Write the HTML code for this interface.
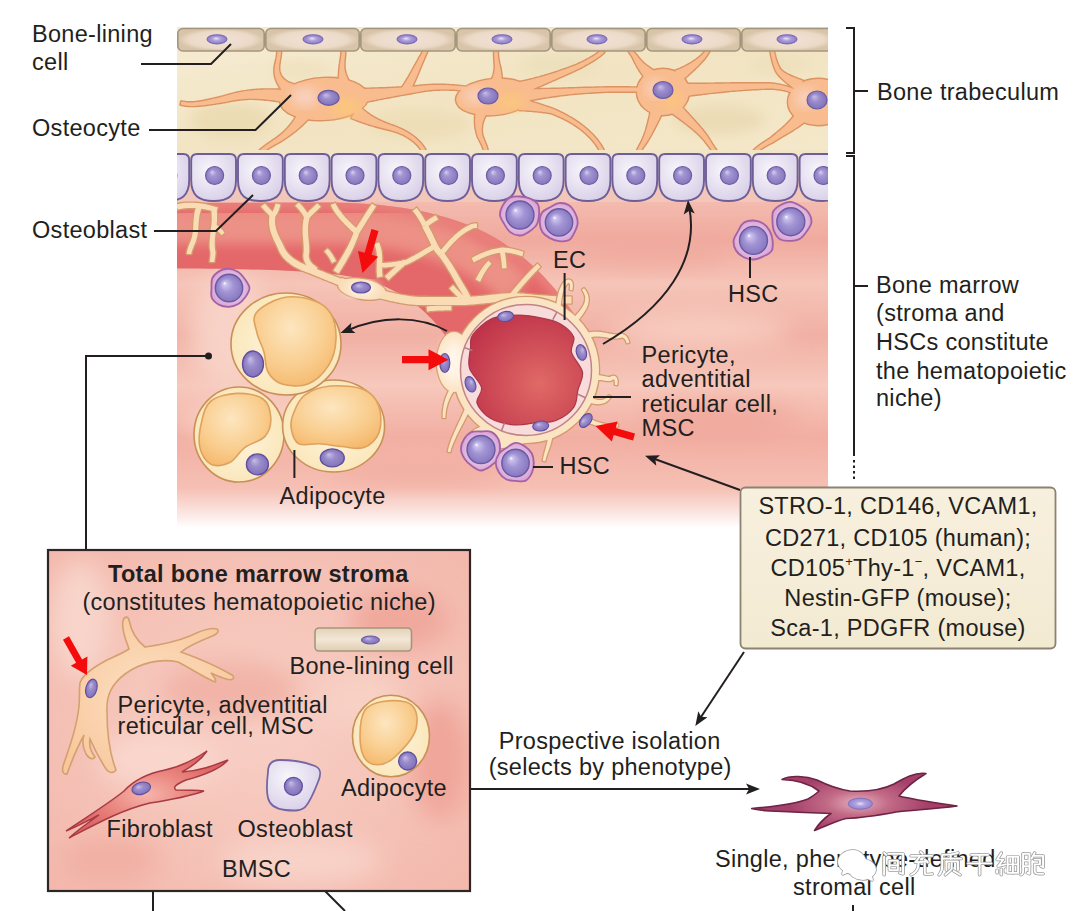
<!DOCTYPE html>
<html><head><meta charset="utf-8">
<style>
html,body{margin:0;padding:0;background:#fff;width:1080px;height:911px;overflow:hidden}
svg{display:block}
text{font-family:"Liberation Sans",sans-serif;fill:#231f20;letter-spacing:0.3px}
</style></head><body>
<svg width="1080" height="911" viewBox="0 0 1080 911">
<defs>
  <linearGradient id="marrowG" x1="0" y1="0" x2="0" y2="1">
    <stop offset="0" stop-color="#f4bcb0"/>
    <stop offset="0.12" stop-color="#f0aa9e"/>
    <stop offset="0.25" stop-color="#f6c4b8"/>
    <stop offset="0.4" stop-color="#f1b0a4"/>
    <stop offset="0.55" stop-color="#f7c8bc"/>
    <stop offset="0.7" stop-color="#f2aea2"/>
    <stop offset="0.85" stop-color="#f6c0b4"/>
    <stop offset="1" stop-color="#f4b8ac"/>
  </linearGradient>
  <linearGradient id="fadeB" x1="0" y1="0" x2="0" y2="1">
    <stop offset="0" stop-color="#fff" stop-opacity="0"/>
    <stop offset="1" stop-color="#fff" stop-opacity="1"/>
  </linearGradient>
  <linearGradient id="vesselG" x1="0" y1="0" x2="0" y2="1">
    <stop offset="0" stop-color="#e4605a"/>
    <stop offset="0.45" stop-color="#f29c8e"/>
    <stop offset="1" stop-color="#e25c58"/>
  </linearGradient>
  <radialGradient id="lumenG" cx="0.62" cy="0.62" r="0.7">
    <stop offset="0" stop-color="#e06a66"/>
    <stop offset="1" stop-color="#c0344a"/>
  </radialGradient>
  <radialGradient id="obG" cx="0.4" cy="0.35" r="0.75">
    <stop offset="0" stop-color="#f8f6fb"/>
    <stop offset="1" stop-color="#d6cce6"/>
  </radialGradient>
  <radialGradient id="nucG" cx="0.5" cy="0.5" r="0.5" fx="0.35" fy="0.3">
    <stop offset="0" stop-color="#c8bee6"/>
    <stop offset="0.45" stop-color="#9a8ccc"/>
    <stop offset="1" stop-color="#8272ba"/>
  </radialGradient>
  <radialGradient id="hscN" cx="0.5" cy="0.5" r="0.5" fx="0.33" fy="0.32">
    <stop offset="0" stop-color="#ffffff"/>
    <stop offset="0.14" stop-color="#cac0ec"/>
    <stop offset="0.5" stop-color="#a294d4"/>
    <stop offset="1" stop-color="#8878c0"/>
  </radialGradient>
  <radialGradient id="hscC" cx="0.5" cy="0.5" r="0.55">
    <stop offset="0.55" stop-color="#e6c2e2"/>
    <stop offset="1" stop-color="#d8a0d4"/>
  </radialGradient>
  <radialGradient id="lipidG" cx="0.45" cy="0.35" r="0.75">
    <stop offset="0" stop-color="#fde6c0"/>
    <stop offset="0.6" stop-color="#f9cc8c"/>
    <stop offset="1" stop-color="#f4b466"/>
  </radialGradient>
  <radialGradient id="adipoG" cx="0.5" cy="0.5" r="0.6">
    <stop offset="0" stop-color="#fff6e0"/>
    <stop offset="1" stop-color="#f9e4b4"/>
  </radialGradient>
  <linearGradient id="boneG" x1="0" y1="0" x2="1" y2="1">
    <stop offset="0" stop-color="#f6ecd4"/>
    <stop offset="0.5" stop-color="#f2e4c2"/>
    <stop offset="1" stop-color="#f4e8ca"/>
  </linearGradient>
  <linearGradient id="liningG" x1="0" y1="0" x2="0" y2="1">
    <stop offset="0" stop-color="#e4d2b8"/>
    <stop offset="0.5" stop-color="#f2e6d6"/>
    <stop offset="1" stop-color="#e0ceb2"/>
  </linearGradient>
  <linearGradient id="markerG" x1="0" y1="0" x2="0" y2="1">
    <stop offset="0" stop-color="#f7f0de"/>
    <stop offset="1" stop-color="#f3ead2"/>
  </linearGradient>
  <radialGradient id="fibG" gradientUnits="userSpaceOnUse" cx="858" cy="803" r="70" gradientTransform="translate(858 803) scale(1 0.4) translate(-858 -803)">
    <stop offset="0" stop-color="#e4b0bc"/>
    <stop offset="0.45" stop-color="#c26a86"/>
    <stop offset="1" stop-color="#a4406a"/>
  </radialGradient>
  <radialGradient id="nucFib" cx="0.5" cy="0.5" r="0.5">
    <stop offset="0" stop-color="#e8e0f8"/>
    <stop offset="0.4" stop-color="#b0a4e0"/>
    <stop offset="1" stop-color="#9484cc"/>
  </radialGradient>
  <radialGradient id="ocyG" cx="0.5" cy="0.5" r="0.5">
    <stop offset="0" stop-color="#fbc890"/>
    <stop offset="1" stop-color="#f4a66c"/>
  </radialGradient>
  <radialGradient id="retG" cx="0.5" cy="0.5" r="0.6">
    <stop offset="0" stop-color="#fde0c4"/>
    <stop offset="1" stop-color="#f8c89c"/>
  </radialGradient>
  <radialGradient id="boxPink" cx="0.5" cy="0.5" r="0.7">
    <stop offset="0" stop-color="#f8d0c6"/>
    <stop offset="1" stop-color="#f3b8ac"/>
  </radialGradient>
  <filter id="blur6" x="-20%" y="-20%" width="140%" height="140%"><feGaussianBlur stdDeviation="6"/></filter>
  <filter id="blur12" x="-50%" y="-50%" width="200%" height="200%"><feGaussianBlur stdDeviation="12"/></filter>
  <clipPath id="topClip"><rect x="177" y="20" width="651" height="520"/></clipPath>
  <clipPath id="boxClip"><rect x="48" y="550" width="422" height="341"/></clipPath>
  <radialGradient id="fibG2" cx="0.5" cy="0.5" r="0.5">
    <stop offset="0" stop-color="#f6b4ac"/>
    <stop offset="0.5" stop-color="#ea8880"/>
    <stop offset="1" stop-color="#dc6464"/>
  </radialGradient>
  <radialGradient id="liningR" cx="0.5" cy="0.5" r="0.5" gradientTransform="translate(0.5 0.5) scale(1 1) translate(-0.5 -0.5)">
    <stop offset="0" stop-color="#f2e2d6"/>
    <stop offset="0.75" stop-color="#ecdac8"/>
    <stop offset="1" stop-color="#d8c4a8"/>
  </radialGradient>
  <radialGradient id="nucL" cx="0.5" cy="0.5" r="0.5" fx="0.45" fy="0.4">
    <stop offset="0" stop-color="#ece6f8"/>
    <stop offset="0.45" stop-color="#ac9edc"/>
    <stop offset="1" stop-color="#8c7cc4"/>
  </radialGradient>
  <radialGradient id="nucO" cx="0.5" cy="0.5" r="0.5" fx="0.35" fy="0.3">
    <stop offset="0" stop-color="#d8d0f0"/>
    <stop offset="0.35" stop-color="#a496d4"/>
    <stop offset="1" stop-color="#8676bc"/>
  </radialGradient>
</defs>
<g clip-path="url(#topClip)">
<rect x="177" y="27" width="651" height="128" fill="url(#boneG)"/>
<ellipse cx="230" cy="120" rx="40" ry="18" fill="#ecdcb4" filter="url(#blur6)"/>
<ellipse cx="420" cy="125" rx="50" ry="15" fill="#eedeb8" filter="url(#blur6)"/>
<ellipse cx="560" cy="65" rx="40" ry="12" fill="#ede0bc" filter="url(#blur6)"/>
<ellipse cx="720" cy="120" rx="45" ry="15" fill="#ecdcb6" filter="url(#blur6)"/>
<ellipse cx="300" cy="70" rx="30" ry="10" fill="#f0e2c0" filter="url(#blur6)"/>
<ellipse cx="780" cy="65" rx="30" ry="10" fill="#eee0bc" filter="url(#blur6)"/>
<path d="M300.9,91.1 L298.7,90.9 L296.4,90.7 L294.3,90.6 L292.1,90.4 L290.0,90.3 L287.9,90.2 L285.8,90.1 L283.7,90.0 L281.7,89.9 L279.7,89.8 L277.7,89.7 L275.8,89.6 L273.8,89.6 L271.9,89.6 L270.0,89.6 L268.1,89.6 L266.2,89.6 L264.4,89.6 L262.5,89.7 L260.7,89.7 L258.8,89.8 L257.0,89.9 L255.2,90.1 L253.4,90.2 L251.6,90.4 L249.8,90.6 L248.0,90.8 L246.2,91.1 L244.4,91.3 L242.6,91.6 L240.8,92.0 L239.0,92.3 L237.2,92.7 L235.3,93.1 L233.5,93.5 L231.7,94.0 L229.8,94.5 L228.0,95.0 L226.1,95.6 L224.3,96.1 L222.9,96.5 L221.5,96.8 L220.1,97.2 L218.7,97.5 L217.3,97.9 L216.0,98.2 L214.6,98.5 L213.3,98.8 L212.1,99.1 L210.8,99.4 L209.6,99.7 L208.4,100.0 L207.2,100.2 L206.0,100.5 L204.8,100.7 L203.7,100.9 L202.6,101.2 L201.5,101.3 L200.4,101.5 L199.4,101.7 L198.4,101.9 L197.3,102.0 L196.3,102.1 L195.3,102.2 L194.4,102.3 L193.4,102.4 L192.5,102.5 L191.6,102.5 L190.6,102.5 L189.7,102.5 L188.9,102.5 L188.0,102.5 L187.1,102.4 L186.3,102.3 L185.4,102.2 L184.6,102.1 L183.8,102.0 L183.0,101.8 L182.2,101.7 L181.4,101.5 L181.0,103.0 L180.6,104.5 L181.5,104.8 L182.3,105.0 L183.2,105.2 L184.1,105.3 L185.0,105.5 L185.9,105.6 L186.8,105.7 L187.8,105.8 L188.7,105.8 L189.7,105.9 L190.6,105.9 L191.6,105.9 L192.6,105.9 L193.6,105.9 L194.6,105.9 L195.6,105.9 L196.7,105.8 L197.7,105.7 L198.8,105.6 L199.9,105.5 L201.0,105.4 L202.1,105.3 L203.2,105.2 L204.4,105.1 L205.5,104.9 L206.7,104.8 L207.9,104.6 L209.2,104.4 L210.4,104.2 L211.7,104.1 L213.0,103.9 L214.3,103.7 L215.6,103.5 L217.0,103.2 L218.3,103.0 L219.7,102.8 L221.2,102.6 L222.6,102.4 L224.1,102.1 L225.7,101.9 L227.6,101.4 L229.5,101.0 L231.3,100.7 L233.1,100.3 L234.8,100.0 L236.6,99.8 L238.3,99.5 L240.1,99.3 L241.8,99.2 L243.5,99.0 L245.2,98.9 L246.9,98.8 L248.6,98.7 L250.3,98.7 L252.0,98.7 L253.7,98.7 L255.4,98.8 L257.1,98.8 L258.9,98.9 L260.6,99.0 L262.3,99.1 L264.1,99.3 L265.8,99.5 L267.6,99.7 L269.4,99.9 L271.2,100.1 L273.0,100.3 L274.8,100.6 L276.7,100.9 L278.6,101.2 L280.5,101.5 L282.4,101.8 L284.4,102.2 L286.4,102.5 L288.4,102.9 L290.5,103.3 L292.6,103.7 L294.7,104.1 L296.9,104.5 L299.1,104.9 Z" fill="none" stroke="#dc9262" stroke-width="2.8" stroke-linejoin="round"/>
<path d="M293.9,84.2 L293.4,84.1 L292.9,84.0 L292.4,83.8 L291.9,83.7 L291.4,83.6 L291.0,83.4 L290.5,83.2 L290.0,83.1 L289.5,82.9 L289.1,82.7 L288.6,82.4 L288.1,82.2 L287.7,82.0 L287.3,81.7 L286.8,81.5 L286.4,81.2 L286.0,80.9 L285.6,80.6 L285.2,80.3 L284.8,80.0 L284.4,79.7 L284.0,79.4 L283.6,79.0 L283.3,78.7 L282.9,78.3 L282.6,77.9 L282.3,77.6 L282.0,77.2 L281.7,76.8 L281.4,76.4 L281.1,75.9 L280.9,75.5 L280.6,75.1 L280.4,74.6 L280.2,74.1 L280.0,73.7 L279.9,73.2 L279.7,72.7 L279.6,72.2 L279.4,71.7 L279.3,71.2 L279.2,70.6 L279.2,70.1 L279.1,69.6 L279.1,69.0 L279.1,68.5 L279.0,67.9 L279.0,67.4 L279.1,66.8 L279.1,66.3 L279.1,65.7 L279.2,65.1 L279.2,64.6 L279.3,64.0 L279.4,63.4 L279.5,62.9 L279.6,62.3 L279.6,61.7 L279.7,61.2 L279.8,60.6 L279.9,60.1 L280.0,59.5 L280.1,58.9 L280.2,58.4 L280.3,57.8 L280.4,57.3 L280.5,56.7 L280.6,56.2 L280.7,55.6 L280.8,55.1 L280.8,54.5 L280.9,54.0 L280.9,53.4 L280.9,52.9 L281.0,52.4 L281.0,51.8 L280.9,51.3 L280.9,50.8 L280.9,50.2 L280.8,49.7 L279.0,50.0 L277.2,50.3 L277.3,50.7 L277.3,51.1 L277.3,51.5 L277.4,51.9 L277.4,52.3 L277.3,52.8 L277.3,53.2 L277.3,53.7 L277.2,54.1 L277.2,54.6 L277.1,55.1 L277.0,55.6 L276.9,56.1 L276.8,56.6 L276.7,57.2 L276.6,57.7 L276.5,58.2 L276.4,58.8 L276.3,59.3 L276.2,59.9 L276.0,60.4 L275.9,61.0 L275.8,61.6 L275.7,62.2 L275.5,62.8 L275.4,63.4 L275.3,64.0 L275.2,64.6 L275.1,65.2 L275.0,65.8 L274.9,66.4 L274.8,67.1 L274.7,67.7 L274.7,68.3 L274.6,69.0 L274.6,69.6 L274.5,70.3 L274.5,71.0 L274.5,71.6 L274.6,72.3 L274.6,73.0 L274.7,73.7 L274.8,74.3 L274.9,75.0 L275.0,75.7 L275.1,76.3 L275.3,77.0 L275.4,77.6 L275.6,78.3 L275.8,78.9 L276.0,79.5 L276.3,80.2 L276.5,80.8 L276.7,81.4 L277.0,82.0 L277.3,82.6 L277.6,83.2 L277.9,83.8 L278.2,84.4 L278.5,85.0 L278.8,85.6 L279.2,86.1 L279.5,86.7 L279.8,87.3 L280.2,87.8 L280.6,88.4 L280.9,89.0 L281.3,89.5 L281.7,90.1 L282.1,90.6 L282.5,91.1 L282.9,91.7 L283.3,92.2 L283.7,92.7 L284.1,93.3 L284.5,93.8 L284.9,94.3 L285.3,94.8 L285.7,95.3 L286.1,95.8 Z" fill="none" stroke="#dc9262" stroke-width="2.8" stroke-linejoin="round"/>
<path d="M351.8,86.3 L351.5,85.8 L351.1,85.2 L350.8,84.7 L350.5,84.2 L350.2,83.7 L349.9,83.2 L349.7,82.7 L349.4,82.2 L349.1,81.7 L348.9,81.3 L348.6,80.8 L348.4,80.3 L348.1,79.8 L347.9,79.4 L347.7,78.9 L347.5,78.4 L347.3,78.0 L347.1,77.5 L346.9,77.1 L346.7,76.6 L346.5,76.2 L346.4,75.8 L346.2,75.3 L346.0,74.9 L345.9,74.4 L345.7,74.0 L345.6,73.6 L345.5,73.1 L345.4,72.7 L345.2,72.3 L345.1,71.9 L345.0,71.4 L344.9,71.0 L344.9,70.6 L344.8,70.1 L344.7,69.7 L344.6,69.3 L344.6,68.9 L344.5,68.4 L344.4,68.0 L344.4,67.4 L344.4,66.9 L344.3,66.3 L344.3,65.8 L344.3,65.3 L344.3,64.7 L344.3,64.2 L344.3,63.7 L344.3,63.2 L344.4,62.7 L344.4,62.2 L344.4,61.8 L344.4,61.3 L344.5,60.8 L344.5,60.4 L344.6,59.9 L344.6,59.4 L344.7,59.0 L344.7,58.6 L344.7,58.1 L344.8,57.7 L344.8,57.2 L344.9,56.8 L344.9,56.4 L344.9,56.0 L345.0,55.5 L345.0,55.1 L345.0,54.7 L345.1,54.3 L345.1,53.9 L345.1,53.4 L345.1,53.0 L345.1,52.6 L345.1,52.2 L345.0,51.8 L345.0,51.3 L345.0,50.9 L344.9,50.5 L344.8,50.1 L344.8,49.7 L343.0,50.0 L341.2,50.3 L341.3,50.7 L341.3,51.0 L341.4,51.3 L341.4,51.7 L341.4,52.0 L341.5,52.3 L341.5,52.7 L341.5,53.0 L341.5,53.4 L341.5,53.7 L341.4,54.1 L341.4,54.5 L341.4,54.8 L341.3,55.2 L341.3,55.6 L341.2,56.0 L341.2,56.4 L341.1,56.8 L341.1,57.2 L341.0,57.6 L340.9,58.1 L340.9,58.5 L340.8,58.9 L340.7,59.4 L340.6,59.9 L340.6,60.3 L340.5,60.8 L340.4,61.3 L340.3,61.8 L340.2,62.3 L340.2,62.8 L340.1,63.4 L340.0,63.9 L339.9,64.4 L339.9,65.0 L339.8,65.6 L339.7,66.2 L339.7,66.8 L339.6,67.4 L339.6,68.0 L339.5,68.5 L339.5,68.9 L339.4,69.4 L339.4,69.9 L339.3,70.4 L339.3,70.8 L339.2,71.3 L339.2,71.8 L339.2,72.3 L339.1,72.8 L339.1,73.3 L339.1,73.8 L339.0,74.3 L339.0,74.8 L339.0,75.3 L338.9,75.8 L338.9,76.3 L338.9,76.8 L338.8,77.3 L338.8,77.9 L338.8,78.4 L338.7,78.9 L338.7,79.5 L338.7,80.0 L338.7,80.6 L338.6,81.1 L338.6,81.7 L338.6,82.3 L338.5,82.8 L338.5,83.4 L338.5,84.0 L338.5,84.6 L338.4,85.2 L338.4,85.8 L338.4,86.5 L338.3,87.1 L338.3,87.7 L338.3,88.4 L338.2,89.0 L338.2,89.7 Z" fill="none" stroke="#dc9262" stroke-width="2.8" stroke-linejoin="round"/>
<path d="M360.8,103.0 L362.7,102.5 L364.5,102.1 L366.3,101.8 L368.1,101.4 L369.9,101.0 L371.6,100.6 L373.4,100.3 L375.1,99.9 L376.8,99.6 L378.5,99.2 L380.2,98.9 L381.9,98.6 L383.5,98.2 L385.2,97.9 L386.8,97.6 L388.4,97.3 L390.1,97.0 L391.7,96.7 L393.3,96.4 L394.9,96.1 L396.4,95.8 L398.0,95.5 L399.6,95.2 L401.1,94.9 L402.7,94.7 L404.2,94.4 L405.8,94.1 L407.3,93.8 L408.8,93.6 L410.3,93.3 L411.9,93.0 L413.4,92.7 L414.9,92.5 L416.4,92.2 L417.9,91.9 L419.4,91.7 L420.9,91.4 L422.4,91.1 L423.9,90.9 L425.3,90.6 L426.7,90.4 L428.2,90.3 L429.6,90.1 L431.1,90.0 L432.5,89.8 L433.9,89.7 L435.3,89.6 L436.7,89.6 L438.1,89.5 L439.5,89.5 L440.8,89.4 L442.2,89.4 L443.5,89.4 L444.8,89.4 L446.1,89.4 L447.4,89.4 L448.7,89.4 L450.0,89.5 L451.3,89.5 L452.5,89.6 L453.7,89.6 L455.0,89.7 L456.2,89.8 L457.4,89.9 L458.6,90.0 L459.7,90.1 L460.9,90.2 L462.0,90.3 L463.2,90.4 L464.3,90.6 L465.4,90.7 L466.5,90.8 L467.6,91.0 L468.6,91.1 L469.7,91.2 L470.7,91.4 L471.7,91.5 L472.7,91.7 L473.7,91.8 L474.7,92.0 L475.0,90.0 L475.3,88.0 L474.3,87.9 L473.3,87.7 L472.3,87.6 L471.3,87.4 L470.2,87.3 L469.2,87.1 L468.1,87.0 L467.0,86.8 L465.9,86.7 L464.7,86.6 L463.6,86.4 L462.5,86.3 L461.3,86.2 L460.1,86.1 L458.9,85.9 L457.7,85.8 L456.5,85.7 L455.3,85.6 L454.0,85.5 L452.7,85.4 L451.5,85.3 L450.2,85.3 L448.9,85.2 L447.6,85.1 L446.2,85.1 L444.9,85.0 L443.5,85.0 L442.2,85.0 L440.8,84.9 L439.4,84.9 L438.0,84.9 L436.6,84.9 L435.1,84.9 L433.7,85.0 L432.2,85.0 L430.8,85.1 L429.3,85.1 L427.8,85.2 L426.3,85.3 L424.7,85.4 L423.1,85.6 L421.6,85.7 L420.1,85.9 L418.6,86.1 L417.1,86.2 L415.6,86.4 L414.1,86.5 L412.6,86.6 L411.0,86.8 L409.5,86.9 L408.0,87.0 L406.4,87.1 L404.9,87.2 L403.4,87.4 L401.8,87.5 L400.2,87.6 L398.7,87.7 L397.1,87.7 L395.5,87.8 L393.9,87.9 L392.3,88.0 L390.7,88.1 L389.0,88.2 L387.4,88.2 L385.7,88.3 L384.1,88.4 L382.4,88.4 L380.7,88.5 L379.0,88.5 L377.3,88.6 L375.5,88.6 L373.8,88.7 L372.0,88.7 L370.2,88.8 L368.4,88.8 L366.6,88.9 L364.8,88.9 L362.9,89.0 L361.1,89.0 L359.2,89.0 Z" fill="none" stroke="#dc9262" stroke-width="2.8" stroke-linejoin="round"/>
<path d="M408.8,93.4 L409.6,91.9 L410.4,90.3 L411.2,88.8 L412.0,87.1 L412.7,85.5 L413.5,83.8 L414.2,82.1 L415.0,80.4 L415.7,78.7 L416.5,76.9 L417.2,75.2 L418.0,73.4 L418.7,71.6 L419.5,69.7 L420.2,67.9 L421.0,66.0 L421.8,64.2 L422.6,62.3 L423.4,60.4 L424.2,58.5 L425.0,56.6 L425.8,54.7 L426.7,52.8 L427.6,50.8 L426.0,50.0 L424.4,49.2 L423.3,51.0 L422.2,52.8 L421.2,54.7 L420.1,56.5 L419.1,58.3 L418.1,60.1 L417.1,61.9 L416.1,63.7 L415.1,65.4 L414.2,67.2 L413.2,68.9 L412.3,70.6 L411.3,72.3 L410.4,74.0 L409.5,75.6 L408.6,77.2 L407.6,78.8 L406.7,80.3 L405.8,81.8 L404.9,83.2 L404.0,84.6 L403.0,86.0 L402.1,87.3 L401.2,88.6 Z" fill="none" stroke="#dc9262" stroke-width="2.8" stroke-linejoin="round"/>
<path d="M298.8,108.8 L298.6,109.6 L298.4,110.3 L298.2,111.0 L298.0,111.8 L297.7,112.5 L297.5,113.3 L297.2,114.0 L296.8,114.8 L296.5,115.6 L296.1,116.3 L295.7,117.1 L295.3,117.9 L294.9,118.6 L294.4,119.4 L293.9,120.2 L293.4,120.9 L292.9,121.7 L292.4,122.4 L291.8,123.2 L291.3,124.0 L290.7,124.7 L290.1,125.5 L289.4,126.2 L288.8,127.0 L288.1,127.7 L287.5,128.4 L286.8,129.1 L286.1,129.9 L285.4,130.6 L284.6,131.3 L283.9,132.0 L283.1,132.7 L282.4,133.4 L281.6,134.0 L280.8,134.7 L280.0,135.4 L279.2,136.0 L278.3,136.7 L277.5,137.3 L276.7,137.9 L276.0,138.4 L275.3,138.9 L274.6,139.3 L273.9,139.8 L273.3,140.3 L272.6,140.7 L272.0,141.1 L271.4,141.6 L270.7,142.0 L270.1,142.4 L269.6,142.8 L269.0,143.2 L268.4,143.6 L267.9,144.0 L267.4,144.3 L266.8,144.7 L266.3,145.1 L265.8,145.4 L265.4,145.8 L264.9,146.1 L264.5,146.4 L264.0,146.8 L263.6,147.1 L263.2,147.4 L262.8,147.7 L262.4,148.0 L262.1,148.3 L261.7,148.6 L261.4,148.9 L261.0,149.2 L260.7,149.5 L260.4,149.8 L260.1,150.0 L259.9,150.3 L259.6,150.6 L259.4,150.9 L259.1,151.2 L258.9,151.4 L258.7,151.7 L258.5,152.0 L260.0,153.0 L261.5,154.0 L261.6,153.8 L261.8,153.6 L261.9,153.5 L262.1,153.3 L262.3,153.0 L262.5,152.8 L262.7,152.6 L262.9,152.4 L263.2,152.1 L263.5,151.9 L263.7,151.7 L264.0,151.4 L264.4,151.1 L264.7,150.9 L265.1,150.6 L265.4,150.3 L265.8,150.0 L266.2,149.8 L266.6,149.5 L267.1,149.2 L267.5,148.9 L268.0,148.5 L268.5,148.2 L269.0,147.9 L269.5,147.6 L270.1,147.3 L270.6,146.9 L271.2,146.6 L271.8,146.2 L272.4,145.9 L273.0,145.5 L273.6,145.2 L274.3,144.8 L274.9,144.4 L275.6,144.1 L276.3,143.7 L277.0,143.3 L277.7,142.9 L278.5,142.5 L279.3,142.1 L280.3,141.5 L281.2,140.9 L282.2,140.3 L283.1,139.7 L284.0,139.1 L284.9,138.5 L285.8,137.9 L286.7,137.3 L287.6,136.7 L288.5,136.0 L289.4,135.4 L290.3,134.8 L291.1,134.1 L292.0,133.5 L292.9,132.8 L293.7,132.2 L294.5,131.5 L295.4,130.9 L296.2,130.2 L297.0,129.5 L297.8,128.9 L298.6,128.2 L299.4,127.5 L300.1,126.8 L300.9,126.1 L301.7,125.4 L302.4,124.7 L303.2,124.0 L303.9,123.3 L304.6,122.6 L305.3,121.9 L306.0,121.2 L306.7,120.4 L307.4,119.7 L308.1,119.0 L308.7,118.2 L309.4,117.5 L310.0,116.7 L310.6,115.9 L311.2,115.2 Z" fill="none" stroke="#dc9262" stroke-width="2.8" stroke-linejoin="round"/>
<path d="M351.3,118.0 L352.4,118.4 L353.5,118.9 L354.6,119.3 L355.7,119.7 L356.7,120.1 L357.8,120.5 L358.8,120.9 L359.8,121.3 L360.8,121.6 L361.8,122.0 L362.8,122.3 L363.8,122.7 L364.8,123.0 L365.8,123.4 L366.8,123.7 L367.7,124.0 L368.7,124.3 L369.7,124.6 L370.6,124.9 L371.6,125.2 L372.5,125.5 L373.5,125.7 L374.4,126.0 L375.4,126.3 L376.3,126.6 L377.3,126.8 L378.2,127.1 L379.2,127.3 L380.2,127.6 L381.1,127.8 L382.1,128.1 L383.1,128.3 L384.1,128.6 L385.1,128.8 L386.1,129.1 L387.1,129.3 L388.2,129.6 L389.2,129.8 L390.3,130.1 L391.3,130.3 L392.4,130.7 L393.6,131.0 L394.7,131.4 L395.9,131.7 L397.0,132.1 L398.1,132.5 L399.1,133.0 L400.2,133.4 L401.3,133.9 L402.3,134.3 L403.3,134.8 L404.3,135.3 L405.2,135.8 L406.2,136.3 L407.1,136.9 L408.0,137.4 L408.9,138.0 L409.8,138.6 L410.7,139.2 L411.5,139.8 L412.3,140.4 L413.1,141.0 L413.9,141.6 L414.6,142.3 L415.3,142.9 L416.0,143.6 L416.7,144.2 L417.4,144.9 L418.0,145.6 L418.6,146.3 L419.2,147.0 L419.7,147.7 L420.3,148.5 L420.8,149.2 L421.3,149.9 L421.8,150.7 L422.2,151.4 L422.6,152.2 L423.0,153.0 L423.4,153.8 L425.0,153.0 L426.6,152.2 L426.2,151.4 L425.8,150.5 L425.3,149.7 L424.8,148.8 L424.3,148.0 L423.8,147.2 L423.2,146.4 L422.6,145.6 L422.0,144.8 L421.4,144.0 L420.7,143.2 L420.0,142.5 L419.3,141.7 L418.6,141.0 L417.8,140.2 L417.1,139.5 L416.3,138.8 L415.5,138.1 L414.6,137.4 L413.8,136.7 L412.9,136.1 L412.0,135.4 L411.1,134.8 L410.1,134.2 L409.2,133.5 L408.2,132.9 L407.2,132.3 L406.2,131.7 L405.2,131.2 L404.1,130.6 L403.1,130.1 L402.0,129.5 L400.9,129.0 L399.8,128.5 L398.6,128.0 L397.5,127.5 L396.3,127.0 L395.1,126.6 L393.9,126.1 L392.7,125.7 L391.7,125.3 L390.7,125.0 L389.7,124.6 L388.7,124.2 L387.7,123.9 L386.8,123.5 L385.9,123.2 L384.9,122.8 L384.0,122.4 L383.1,122.0 L382.2,121.6 L381.4,121.3 L380.5,120.9 L379.7,120.4 L378.8,120.0 L378.0,119.6 L377.1,119.2 L376.3,118.7 L375.5,118.3 L374.7,117.8 L373.9,117.4 L373.1,116.9 L372.3,116.4 L371.5,115.9 L370.7,115.4 L369.9,114.9 L369.1,114.3 L368.3,113.8 L367.5,113.2 L366.7,112.6 L366.0,112.0 L365.2,111.4 L364.4,110.8 L363.6,110.2 L362.8,109.5 L362.0,108.9 L361.1,108.2 L360.3,107.5 L359.5,106.8 L358.7,106.0 Z" fill="none" stroke="#dc9262" stroke-width="2.8" stroke-linejoin="round"/>
<path d="M501.8,85.4 L501.8,84.8 L501.8,84.1 L501.8,83.4 L501.8,82.8 L501.8,82.1 L501.8,81.5 L501.8,80.9 L501.8,80.2 L501.7,79.6 L501.7,79.0 L501.7,78.4 L501.6,77.8 L501.6,77.3 L501.5,76.7 L501.5,76.1 L501.4,75.6 L501.4,75.0 L501.3,74.5 L501.3,73.9 L501.2,73.4 L501.1,72.9 L501.1,72.3 L501.0,71.8 L500.9,71.3 L500.8,70.8 L500.7,70.3 L500.6,69.8 L500.6,69.3 L500.5,68.8 L500.4,68.3 L500.3,67.8 L500.2,67.4 L500.1,66.9 L500.0,66.4 L499.9,65.9 L499.7,65.5 L499.6,65.0 L499.5,64.5 L499.4,64.1 L499.3,63.6 L499.2,63.2 L499.1,62.8 L499.0,62.4 L498.9,61.9 L498.8,61.5 L498.7,61.1 L498.6,60.8 L498.6,60.4 L498.5,60.0 L498.4,59.6 L498.4,59.3 L498.3,58.9 L498.3,58.5 L498.2,58.2 L498.2,57.8 L498.1,57.5 L498.1,57.1 L498.0,56.8 L498.0,56.5 L498.0,56.1 L498.0,55.8 L497.9,55.5 L497.9,55.2 L497.9,54.9 L497.9,54.5 L497.9,54.2 L497.9,53.9 L497.8,53.6 L497.8,53.3 L497.8,53.0 L497.8,52.7 L497.8,52.4 L497.8,52.1 L497.8,51.8 L497.8,51.5 L497.8,51.2 L497.8,50.9 L497.8,50.6 L497.8,50.3 L497.8,50.0 L496.0,50.0 L494.2,50.0 L494.2,50.3 L494.2,50.6 L494.2,50.9 L494.2,51.2 L494.2,51.5 L494.2,51.8 L494.2,52.1 L494.2,52.4 L494.2,52.7 L494.2,53.1 L494.2,53.4 L494.2,53.7 L494.2,54.0 L494.2,54.3 L494.2,54.7 L494.2,55.0 L494.2,55.3 L494.2,55.7 L494.3,56.0 L494.3,56.4 L494.3,56.7 L494.3,57.1 L494.3,57.4 L494.3,57.8 L494.3,58.1 L494.3,58.5 L494.4,58.9 L494.4,59.3 L494.4,59.7 L494.4,60.1 L494.4,60.5 L494.5,60.9 L494.5,61.3 L494.5,61.7 L494.5,62.1 L494.6,62.6 L494.6,63.0 L494.6,63.5 L494.7,63.9 L494.7,64.4 L494.7,64.8 L494.8,65.3 L494.8,65.7 L494.8,66.1 L494.8,66.6 L494.8,67.0 L494.8,67.4 L494.8,67.9 L494.8,68.3 L494.7,68.7 L494.7,69.2 L494.7,69.6 L494.6,70.0 L494.5,70.5 L494.5,70.9 L494.4,71.3 L494.3,71.8 L494.3,72.2 L494.2,72.7 L494.1,73.1 L493.9,73.6 L493.8,74.0 L493.7,74.5 L493.6,74.9 L493.4,75.4 L493.3,75.8 L493.1,76.3 L492.9,76.7 L492.8,77.2 L492.6,77.7 L492.4,78.1 L492.2,78.6 L492.0,79.1 L491.7,79.6 L491.5,80.1 L491.3,80.5 L491.0,81.0 L490.7,81.5 L490.5,82.0 L490.2,82.6 Z" fill="none" stroke="#dc9262" stroke-width="2.8" stroke-linejoin="round"/>
<path d="M521.7,93.7 L523.2,93.1 L524.7,92.5 L526.1,91.9 L527.6,91.3 L529.0,90.7 L530.4,90.1 L531.9,89.5 L533.3,88.9 L534.7,88.3 L536.1,87.7 L537.5,87.1 L538.9,86.5 L540.3,85.9 L541.7,85.3 L543.1,84.7 L544.4,84.1 L545.8,83.5 L547.2,82.9 L548.5,82.3 L549.9,81.7 L551.2,81.1 L552.5,80.5 L553.9,80.0 L555.2,79.4 L556.5,78.8 L557.9,78.2 L559.2,77.6 L560.5,77.0 L561.8,76.4 L563.1,75.9 L564.4,75.3 L565.7,74.7 L567.0,74.1 L568.2,73.6 L569.5,73.0 L570.8,72.4 L572.1,71.8 L573.4,71.3 L574.6,70.7 L575.9,70.1 L576.9,69.6 L577.9,69.1 L578.8,68.6 L579.8,68.2 L580.7,67.7 L581.6,67.2 L582.5,66.7 L583.4,66.3 L584.2,65.8 L585.1,65.3 L585.9,64.8 L586.8,64.4 L587.6,63.9 L588.4,63.4 L589.2,63.0 L590.0,62.5 L590.7,62.1 L591.5,61.6 L592.2,61.2 L593.0,60.7 L593.7,60.3 L594.4,59.8 L595.1,59.4 L595.7,59.0 L596.4,58.5 L597.0,58.1 L597.6,57.7 L598.2,57.2 L598.8,56.8 L599.4,56.4 L600.0,56.0 L600.5,55.5 L601.0,55.1 L601.6,54.7 L602.1,54.3 L602.5,53.9 L603.0,53.5 L603.4,53.1 L603.9,52.7 L604.3,52.3 L603.0,51.0 L601.7,49.7 L601.4,50.1 L601.0,50.4 L600.6,50.8 L600.2,51.2 L599.7,51.5 L599.3,51.9 L598.8,52.3 L598.3,52.7 L597.8,53.1 L597.3,53.5 L596.7,53.9 L596.2,54.3 L595.6,54.7 L595.0,55.1 L594.4,55.5 L593.7,55.9 L593.1,56.3 L592.4,56.7 L591.7,57.1 L591.0,57.5 L590.3,57.9 L589.6,58.4 L588.8,58.8 L588.1,59.2 L587.3,59.6 L586.5,60.0 L585.7,60.5 L584.9,60.9 L584.1,61.3 L583.2,61.7 L582.4,62.1 L581.5,62.6 L580.6,63.0 L579.7,63.4 L578.8,63.8 L577.9,64.2 L576.9,64.7 L576.0,65.1 L575.0,65.5 L574.1,65.9 L572.8,66.3 L571.5,66.8 L570.2,67.3 L568.9,67.8 L567.6,68.3 L566.3,68.7 L565.0,69.2 L563.7,69.7 L562.3,70.1 L561.0,70.6 L559.7,71.1 L558.3,71.5 L557.0,72.0 L555.6,72.4 L554.3,72.9 L552.9,73.3 L551.5,73.7 L550.2,74.2 L548.8,74.6 L547.4,75.0 L546.0,75.4 L544.6,75.9 L543.2,76.3 L541.8,76.7 L540.4,77.1 L538.9,77.5 L537.5,77.8 L536.1,78.2 L534.6,78.6 L533.2,79.0 L531.7,79.3 L530.2,79.7 L528.8,80.0 L527.3,80.4 L525.8,80.7 L524.3,81.0 L522.8,81.3 L521.3,81.7 L519.8,82.0 L518.3,82.3 Z" fill="none" stroke="#dc9262" stroke-width="2.8" stroke-linejoin="round"/>
<path d="M525.5,101.0 L528.1,100.5 L530.8,100.0 L533.4,99.5 L536.1,99.0 L538.8,98.5 L541.5,98.0 L544.2,97.6 L546.9,97.2 L549.7,96.8 L552.5,96.3 L555.3,96.0 L558.1,95.6 L561.0,95.2 L563.8,94.9 L566.7,94.5 L569.6,94.2 L572.5,93.9 L575.5,93.6 L578.4,93.4 L581.4,93.1 L584.4,92.9 L587.4,92.7 L590.4,92.5 L593.5,92.3 L596.6,92.1 L599.7,92.0 L602.8,91.8 L605.9,91.7 L609.0,91.6 L612.2,91.6 L615.4,91.5 L618.6,91.5 L621.8,91.5 L625.1,91.5 L628.3,91.5 L631.6,91.6 L634.9,91.6 L638.2,91.7 L641.6,91.9 L644.9,92.0 L645.0,90.0 L645.1,88.0 L641.7,87.9 L638.4,87.7 L635.0,87.6 L631.7,87.6 L628.4,87.5 L625.1,87.5 L621.8,87.4 L618.6,87.4 L615.4,87.4 L612.2,87.5 L609.0,87.5 L605.8,87.5 L602.7,87.6 L599.5,87.6 L596.4,87.7 L593.3,87.8 L590.2,87.9 L587.2,87.9 L584.1,88.0 L581.1,88.1 L578.1,88.2 L575.1,88.3 L572.2,88.4 L569.2,88.5 L566.3,88.6 L563.4,88.7 L560.5,88.8 L557.6,88.9 L554.7,88.9 L551.9,89.0 L549.1,89.1 L546.3,89.1 L543.5,89.1 L540.7,89.2 L538.0,89.2 L535.2,89.2 L532.5,89.2 L529.8,89.1 L527.1,89.1 L524.5,89.0 Z" fill="none" stroke="#dc9262" stroke-width="2.8" stroke-linejoin="round"/>
<path d="M476.4,107.8 L476.3,108.7 L476.1,109.5 L475.9,110.4 L475.8,111.2 L475.7,112.1 L475.6,112.9 L475.5,113.7 L475.4,114.5 L475.3,115.3 L475.2,116.1 L475.2,116.9 L475.1,117.7 L475.1,118.4 L475.1,119.2 L475.1,119.9 L475.1,120.7 L475.1,121.4 L475.1,122.1 L475.1,122.8 L475.2,123.5 L475.2,124.2 L475.3,124.9 L475.4,125.6 L475.4,126.3 L475.5,127.0 L475.6,127.6 L475.7,128.3 L475.8,129.0 L476.0,129.6 L476.1,130.3 L476.2,130.9 L476.4,131.6 L476.5,132.2 L476.7,132.8 L476.8,133.5 L477.0,134.1 L477.2,134.7 L477.4,135.3 L477.6,135.9 L477.8,136.7 L478.1,137.4 L478.4,137.9 L478.6,138.4 L478.9,138.9 L479.2,139.4 L479.4,139.9 L479.7,140.4 L479.9,140.8 L480.1,141.3 L480.4,141.7 L480.6,142.2 L480.8,142.6 L481.0,143.1 L481.2,143.5 L481.5,143.9 L481.7,144.3 L481.9,144.8 L482.0,145.2 L482.2,145.6 L482.4,146.0 L482.6,146.3 L482.7,146.7 L482.9,147.1 L483.0,147.5 L483.2,147.9 L483.3,148.2 L483.4,148.6 L483.5,149.0 L483.6,149.3 L483.7,149.7 L483.8,150.0 L483.9,150.4 L484.0,150.7 L484.0,151.0 L484.1,151.4 L484.1,151.7 L484.2,152.0 L484.2,152.4 L484.2,152.7 L484.2,153.0 L486.0,153.0 L487.8,153.0 L487.8,152.6 L487.8,152.1 L487.7,151.7 L487.7,151.3 L487.6,150.9 L487.6,150.5 L487.5,150.0 L487.4,149.6 L487.3,149.2 L487.2,148.8 L487.1,148.4 L487.0,147.9 L486.9,147.5 L486.8,147.1 L486.6,146.7 L486.5,146.2 L486.3,145.8 L486.2,145.4 L486.0,145.0 L485.9,144.5 L485.7,144.1 L485.5,143.7 L485.3,143.2 L485.2,142.8 L485.0,142.4 L484.8,141.9 L484.6,141.4 L484.4,141.0 L484.2,140.5 L484.0,140.1 L483.8,139.6 L483.7,139.1 L483.5,138.6 L483.3,138.1 L483.1,137.6 L482.9,137.1 L482.7,136.6 L482.5,136.1 L482.3,135.6 L482.2,135.3 L482.2,134.9 L482.1,134.3 L482.0,133.7 L481.9,133.1 L481.9,132.5 L481.8,132.0 L481.8,131.4 L481.7,130.8 L481.7,130.2 L481.7,129.7 L481.7,129.1 L481.7,128.5 L481.8,128.0 L481.8,127.4 L481.9,126.8 L481.9,126.2 L482.0,125.7 L482.1,125.1 L482.2,124.5 L482.3,124.0 L482.4,123.4 L482.6,122.8 L482.7,122.2 L482.9,121.7 L483.1,121.1 L483.3,120.5 L483.5,119.9 L483.7,119.4 L484.0,118.8 L484.2,118.2 L484.5,117.6 L484.8,117.0 L485.1,116.4 L485.4,115.8 L485.7,115.3 L486.0,114.7 L486.4,114.1 L486.8,113.4 L487.2,112.8 L487.6,112.2 Z" fill="none" stroke="#dc9262" stroke-width="2.8" stroke-linejoin="round"/>
<path d="M518.8,109.9 L520.0,110.0 L521.1,110.0 L522.2,110.1 L523.3,110.2 L524.4,110.2 L525.4,110.3 L526.4,110.4 L527.5,110.5 L528.4,110.5 L529.4,110.6 L530.4,110.7 L531.3,110.7 L532.3,110.8 L533.2,110.9 L534.0,111.0 L534.9,111.1 L535.8,111.1 L536.6,111.2 L537.4,111.3 L538.3,111.4 L539.0,111.4 L539.8,111.5 L540.6,111.6 L541.3,111.7 L542.1,111.8 L542.8,111.9 L543.5,112.0 L544.2,112.0 L544.8,112.1 L545.5,112.2 L546.1,112.3 L546.8,112.4 L547.4,112.5 L548.0,112.6 L548.6,112.7 L549.2,112.8 L549.7,112.9 L550.3,113.0 L550.8,113.1 L551.2,113.2 L552.9,113.8 L554.5,114.5 L556.2,115.2 L557.9,115.9 L559.5,116.6 L561.2,117.4 L562.8,118.1 L564.4,118.9 L566.0,119.7 L567.6,120.6 L569.1,121.5 L570.6,122.3 L572.1,123.2 L573.6,124.2 L575.1,125.1 L576.5,126.1 L577.9,127.0 L579.3,128.0 L580.6,129.0 L582.0,130.1 L583.3,131.1 L584.5,132.2 L585.8,133.3 L587.0,134.4 L588.1,135.5 L589.3,136.6 L590.4,137.8 L591.5,138.9 L592.5,140.1 L593.5,141.3 L594.5,142.5 L595.4,143.7 L596.3,144.9 L597.1,146.1 L597.9,147.4 L598.7,148.6 L599.4,149.9 L600.1,151.2 L600.8,152.4 L601.4,153.8 L603.0,153.0 L604.6,152.2 L604.0,150.9 L603.3,149.5 L602.6,148.1 L601.8,146.8 L601.0,145.4 L600.1,144.1 L599.2,142.8 L598.3,141.5 L597.3,140.2 L596.3,139.0 L595.2,137.7 L594.1,136.5 L593.0,135.3 L591.9,134.1 L590.7,132.9 L589.5,131.7 L588.2,130.5 L586.9,129.4 L585.6,128.3 L584.3,127.2 L582.9,126.1 L581.5,125.0 L580.1,124.0 L578.7,122.9 L577.2,121.9 L575.7,120.9 L574.2,119.9 L572.7,118.9 L571.1,118.0 L569.5,117.1 L567.9,116.2 L566.3,115.3 L564.7,114.4 L563.1,113.5 L561.4,112.7 L559.7,111.9 L558.0,111.1 L556.3,110.3 L554.6,109.6 L552.8,108.8 L552.1,108.6 L551.6,108.4 L551.0,108.2 L550.4,108.0 L549.9,107.8 L549.3,107.6 L548.7,107.4 L548.1,107.2 L547.4,107.0 L546.8,106.7 L546.2,106.5 L545.5,106.3 L544.8,106.1 L544.1,105.8 L543.4,105.6 L542.7,105.4 L542.0,105.1 L541.3,104.9 L540.5,104.6 L539.7,104.4 L539.0,104.1 L538.2,103.9 L537.4,103.6 L536.5,103.3 L535.7,103.0 L534.8,102.8 L534.0,102.5 L533.1,102.2 L532.2,101.9 L531.3,101.6 L530.3,101.2 L529.4,100.9 L528.4,100.6 L527.4,100.3 L526.4,99.9 L525.4,99.6 L524.4,99.2 L523.3,98.9 L522.3,98.5 L521.2,98.1 Z" fill="none" stroke="#dc9262" stroke-width="2.8" stroke-linejoin="round"/>
<path d="M654.0,70.5 L653.3,70.1 L652.7,69.7 L652.0,69.4 L651.4,69.0 L650.8,68.6 L650.2,68.2 L649.7,67.9 L649.1,67.5 L648.6,67.1 L648.0,66.8 L647.5,66.4 L647.0,66.0 L646.5,65.6 L646.1,65.3 L645.6,64.9 L645.1,64.5 L644.7,64.1 L644.3,63.8 L643.8,63.4 L643.4,63.0 L643.0,62.7 L642.6,62.3 L642.3,61.9 L641.9,61.6 L641.5,61.2 L641.2,60.8 L640.8,60.5 L640.5,60.1 L640.2,59.7 L639.8,59.4 L639.5,59.0 L639.2,58.6 L638.9,58.3 L638.6,57.9 L638.3,57.6 L638.1,57.2 L637.8,56.9 L637.5,56.5 L637.3,56.2 L637.0,55.8 L636.7,55.5 L636.6,55.3 L636.4,55.1 L636.2,54.9 L636.0,54.7 L635.8,54.5 L635.6,54.3 L635.5,54.1 L635.3,53.9 L635.1,53.7 L635.0,53.5 L634.8,53.3 L634.6,53.2 L634.5,53.0 L634.3,52.8 L634.2,52.6 L634.0,52.5 L633.9,52.3 L633.7,52.1 L633.6,52.0 L633.5,51.8 L633.3,51.7 L633.2,51.5 L633.1,51.4 L633.0,51.2 L632.8,51.1 L632.7,50.9 L632.6,50.8 L632.5,50.6 L632.4,50.5 L632.3,50.3 L632.2,50.2 L632.1,50.1 L632.0,49.9 L632.0,49.8 L631.9,49.7 L631.8,49.6 L631.7,49.4 L631.7,49.3 L631.6,49.2 L630.0,50.0 L628.4,50.8 L628.5,51.0 L628.6,51.2 L628.7,51.3 L628.8,51.5 L628.9,51.7 L629.0,51.9 L629.1,52.0 L629.2,52.2 L629.3,52.4 L629.4,52.5 L629.6,52.7 L629.7,52.9 L629.8,53.1 L629.9,53.2 L630.0,53.4 L630.2,53.6 L630.3,53.7 L630.4,53.9 L630.5,54.1 L630.7,54.3 L630.8,54.4 L630.9,54.6 L631.0,54.8 L631.2,55.0 L631.3,55.2 L631.4,55.4 L631.5,55.6 L631.7,55.7 L631.8,55.9 L631.9,56.1 L632.0,56.3 L632.1,56.5 L632.3,56.8 L632.4,57.0 L632.5,57.2 L632.6,57.4 L632.7,57.6 L632.8,57.8 L633.0,58.1 L633.0,58.2 L633.2,58.6 L633.4,59.0 L633.6,59.4 L633.8,59.8 L634.0,60.3 L634.2,60.7 L634.5,61.2 L634.7,61.6 L634.9,62.1 L635.1,62.5 L635.4,63.0 L635.6,63.4 L635.9,63.9 L636.1,64.4 L636.4,64.9 L636.7,65.4 L636.9,65.9 L637.2,66.4 L637.5,66.9 L637.8,67.5 L638.1,68.0 L638.5,68.5 L638.8,69.1 L639.1,69.6 L639.5,70.2 L639.8,70.8 L640.2,71.3 L640.6,71.9 L641.0,72.5 L641.4,73.1 L641.8,73.7 L642.2,74.3 L642.6,75.0 L643.1,75.6 L643.5,76.2 L644.0,76.9 L644.5,77.5 L645.0,78.2 L645.5,78.8 L646.0,79.5 Z" fill="none" stroke="#dc9262" stroke-width="2.8" stroke-linejoin="round"/>
<path d="M681.1,81.1 L681.8,80.5 L682.5,80.0 L683.1,79.4 L683.8,78.8 L684.5,78.2 L685.1,77.6 L685.8,77.0 L686.4,76.5 L687.1,75.9 L687.7,75.3 L688.3,74.8 L688.9,74.2 L689.5,73.7 L690.1,73.1 L690.7,72.6 L691.3,72.0 L691.9,71.5 L692.5,70.9 L693.1,70.4 L693.6,69.9 L694.2,69.3 L694.8,68.8 L695.3,68.3 L695.8,67.7 L696.4,67.2 L696.9,66.7 L697.4,66.2 L698.0,65.7 L698.5,65.2 L699.0,64.6 L699.5,64.1 L700.0,63.6 L700.4,63.1 L700.9,62.6 L701.4,62.1 L701.8,61.6 L702.3,61.1 L702.8,60.6 L703.2,60.1 L703.6,59.6 L703.9,59.4 L704.1,59.1 L704.3,58.9 L704.5,58.6 L704.7,58.3 L704.9,58.1 L705.0,57.8 L705.2,57.6 L705.4,57.3 L705.6,57.1 L705.8,56.8 L706.0,56.6 L706.1,56.3 L706.3,56.1 L706.5,55.9 L706.6,55.6 L706.8,55.4 L707.0,55.2 L707.1,54.9 L707.3,54.7 L707.4,54.5 L707.6,54.3 L707.7,54.1 L707.8,53.8 L708.0,53.6 L708.1,53.4 L708.2,53.2 L708.4,53.0 L708.5,52.8 L708.6,52.6 L708.7,52.4 L708.8,52.2 L708.9,52.0 L709.0,51.9 L709.1,51.7 L709.2,51.5 L709.3,51.3 L709.4,51.1 L709.5,51.0 L709.6,50.8 L708.0,50.0 L706.4,49.2 L706.3,49.3 L706.2,49.5 L706.2,49.6 L706.1,49.8 L706.0,49.9 L705.9,50.1 L705.8,50.2 L705.7,50.4 L705.6,50.6 L705.5,50.7 L705.4,50.9 L705.3,51.1 L705.2,51.2 L705.1,51.4 L704.9,51.6 L704.8,51.8 L704.7,52.0 L704.5,52.2 L704.4,52.3 L704.2,52.5 L704.1,52.7 L703.9,52.9 L703.8,53.1 L703.6,53.3 L703.4,53.5 L703.3,53.7 L703.1,53.9 L702.9,54.1 L702.7,54.3 L702.5,54.5 L702.3,54.6 L702.1,54.8 L701.9,55.0 L701.7,55.2 L701.5,55.4 L701.3,55.6 L701.1,55.8 L700.8,56.0 L700.6,56.2 L700.4,56.4 L699.9,56.8 L699.4,57.2 L698.9,57.6 L698.4,58.0 L697.9,58.4 L697.4,58.8 L696.9,59.2 L696.4,59.6 L695.8,60.0 L695.3,60.4 L694.7,60.7 L694.2,61.1 L693.6,61.5 L693.0,61.9 L692.4,62.3 L691.8,62.7 L691.2,63.0 L690.6,63.4 L690.0,63.8 L689.4,64.1 L688.7,64.5 L688.1,64.9 L687.4,65.2 L686.7,65.6 L686.1,65.9 L685.4,66.3 L684.7,66.6 L684.0,67.0 L683.3,67.3 L682.6,67.7 L681.8,68.0 L681.1,68.3 L680.4,68.7 L679.6,69.0 L678.8,69.3 L678.1,69.6 L677.3,69.9 L676.5,70.2 L675.7,70.6 L674.9,70.9 Z" fill="none" stroke="#dc9262" stroke-width="2.8" stroke-linejoin="round"/>
<path d="M651.3,108.1 L651.1,109.3 L650.9,110.4 L650.6,111.5 L650.4,112.6 L650.2,113.7 L650.0,114.7 L649.8,115.8 L649.5,116.8 L649.3,117.8 L649.1,118.8 L648.9,119.7 L648.6,120.7 L648.4,121.6 L648.2,122.5 L648.0,123.4 L647.7,124.3 L647.5,125.2 L647.3,126.0 L647.0,126.8 L646.8,127.7 L646.6,128.5 L646.4,129.2 L646.1,130.0 L645.9,130.8 L645.7,131.5 L645.4,132.2 L645.2,132.9 L644.9,133.6 L644.7,134.3 L644.5,135.0 L644.2,135.6 L644.0,136.2 L643.7,136.9 L643.5,137.5 L643.2,138.1 L643.0,138.6 L642.7,139.2 L642.5,139.8 L642.2,140.3 L642.0,140.8 L641.8,141.2 L641.6,141.6 L641.4,141.9 L641.3,142.3 L641.1,142.7 L640.9,143.0 L640.7,143.4 L640.6,143.7 L640.4,144.0 L640.2,144.4 L640.0,144.7 L639.9,145.0 L639.7,145.3 L639.5,145.6 L639.4,145.9 L639.2,146.2 L639.1,146.5 L638.9,146.8 L638.8,147.0 L638.6,147.3 L638.5,147.6 L638.3,147.9 L638.2,148.1 L638.1,148.4 L637.9,148.7 L637.8,148.9 L637.7,149.2 L637.5,149.4 L637.4,149.7 L637.3,149.9 L637.2,150.2 L637.1,150.4 L637.0,150.7 L636.9,150.9 L636.8,151.2 L636.7,151.4 L636.6,151.7 L636.5,151.9 L636.4,152.2 L636.3,152.4 L638.0,153.0 L639.7,153.6 L639.8,153.4 L639.8,153.2 L639.9,153.0 L640.0,152.8 L640.1,152.6 L640.2,152.4 L640.3,152.1 L640.4,151.9 L640.5,151.7 L640.6,151.5 L640.7,151.3 L640.8,151.1 L640.9,150.8 L641.0,150.6 L641.2,150.4 L641.3,150.1 L641.4,149.9 L641.6,149.7 L641.7,149.4 L641.9,149.2 L642.0,148.9 L642.2,148.7 L642.4,148.4 L642.5,148.1 L642.7,147.9 L642.9,147.6 L643.1,147.3 L643.3,147.0 L643.5,146.7 L643.7,146.5 L643.9,146.2 L644.1,145.9 L644.3,145.5 L644.5,145.2 L644.8,144.9 L645.0,144.6 L645.2,144.2 L645.5,143.9 L645.7,143.6 L646.0,143.2 L646.4,142.6 L646.7,142.1 L647.1,141.5 L647.4,141.0 L647.8,140.4 L648.1,139.8 L648.5,139.2 L648.8,138.6 L649.2,138.0 L649.6,137.4 L649.9,136.7 L650.3,136.1 L650.7,135.4 L651.1,134.7 L651.5,134.0 L651.8,133.3 L652.2,132.6 L652.6,131.9 L653.0,131.1 L653.4,130.3 L653.8,129.6 L654.3,128.8 L654.7,128.0 L655.1,127.1 L655.5,126.3 L656.0,125.5 L656.4,124.6 L656.9,123.7 L657.3,122.8 L657.8,121.9 L658.2,121.0 L658.7,120.0 L659.2,119.1 L659.7,118.1 L660.1,117.1 L660.6,116.1 L661.1,115.1 L661.7,114.0 L662.2,113.0 L662.7,111.9 Z" fill="none" stroke="#dc9262" stroke-width="2.8" stroke-linejoin="round"/>
<path d="M670.9,112.4 L672.0,113.2 L673.1,114.0 L674.2,114.8 L675.2,115.5 L676.3,116.3 L677.3,117.1 L678.4,117.8 L679.4,118.6 L680.4,119.3 L681.4,120.1 L682.4,120.8 L683.4,121.5 L684.3,122.3 L685.3,123.0 L686.2,123.7 L687.2,124.5 L688.1,125.2 L689.0,125.9 L689.9,126.6 L690.8,127.3 L691.7,128.0 L692.5,128.8 L693.3,129.5 L694.2,130.2 L695.0,130.9 L695.8,131.6 L696.6,132.3 L697.3,133.0 L698.1,133.7 L698.8,134.4 L699.5,135.1 L700.2,135.8 L700.9,136.5 L701.5,137.2 L702.2,137.9 L702.8,138.6 L703.4,139.2 L704.0,139.9 L704.6,140.6 L705.1,141.3 L705.4,141.7 L705.7,142.1 L706.0,142.6 L706.4,143.0 L706.7,143.4 L707.0,143.8 L707.3,144.2 L707.6,144.5 L707.9,144.9 L708.1,145.3 L708.4,145.7 L708.7,146.0 L709.0,146.4 L709.2,146.7 L709.5,147.1 L709.8,147.4 L710.0,147.7 L710.2,148.1 L710.5,148.4 L710.7,148.7 L711.0,149.0 L711.2,149.3 L711.4,149.6 L711.6,149.9 L711.8,150.2 L712.0,150.5 L712.2,150.8 L712.4,151.0 L712.6,151.3 L712.8,151.6 L713.0,151.8 L713.2,152.1 L713.4,152.4 L713.6,152.6 L713.7,152.8 L713.9,153.1 L714.0,153.3 L714.2,153.6 L714.4,153.8 L714.5,154.0 L716.0,153.0 L717.5,152.0 L717.3,151.8 L717.2,151.5 L717.0,151.3 L716.9,151.1 L716.7,150.8 L716.5,150.6 L716.3,150.3 L716.2,150.0 L716.0,149.8 L715.8,149.5 L715.6,149.2 L715.4,149.0 L715.2,148.7 L715.0,148.4 L714.8,148.1 L714.6,147.8 L714.4,147.5 L714.2,147.2 L714.0,146.9 L713.8,146.5 L713.6,146.2 L713.3,145.9 L713.1,145.6 L712.9,145.2 L712.7,144.9 L712.4,144.5 L712.2,144.1 L712.0,143.8 L711.7,143.4 L711.5,143.0 L711.2,142.6 L711.0,142.2 L710.7,141.8 L710.5,141.4 L710.2,140.9 L710.0,140.5 L709.7,140.1 L709.5,139.6 L709.2,139.2 L708.9,138.7 L708.4,137.9 L707.8,137.1 L707.3,136.3 L706.7,135.4 L706.1,134.6 L705.5,133.8 L704.9,133.0 L704.3,132.2 L703.6,131.4 L703.0,130.6 L702.3,129.7 L701.6,128.9 L700.9,128.1 L700.2,127.3 L699.5,126.4 L698.7,125.6 L698.0,124.7 L697.2,123.9 L696.5,123.0 L695.7,122.2 L694.9,121.3 L694.1,120.4 L693.4,119.6 L692.6,118.7 L691.7,117.8 L690.9,116.9 L690.1,116.0 L689.3,115.1 L688.4,114.2 L687.6,113.2 L686.8,112.3 L685.9,111.4 L685.1,110.4 L684.2,109.5 L683.4,108.5 L682.5,107.5 L681.6,106.6 L680.8,105.6 L679.9,104.6 L679.1,103.6 Z" fill="none" stroke="#dc9262" stroke-width="2.8" stroke-linejoin="round"/>
<path d="M685.4,96.0 L687.6,95.7 L689.9,95.4 L692.1,95.1 L694.4,94.8 L696.6,94.5 L698.8,94.3 L701.0,94.0 L703.3,93.7 L705.5,93.5 L707.7,93.2 L709.9,92.9 L712.1,92.7 L714.3,92.5 L716.5,92.2 L718.7,92.0 L720.9,91.8 L723.1,91.6 L725.3,91.3 L727.4,91.1 L729.6,90.9 L731.7,90.7 L733.8,90.6 L736.0,90.4 L738.1,90.2 L740.2,90.0 L742.3,89.9 L744.3,89.7 L746.4,89.6 L748.4,89.4 L750.5,89.3 L752.5,89.2 L754.5,89.1 L756.5,89.0 L758.5,88.9 L760.4,88.8 L762.4,88.7 L764.3,88.7 L766.2,88.6 L768.1,88.5 L769.9,88.5 L770.9,88.5 L772.0,88.6 L773.0,88.6 L774.0,88.7 L775.0,88.8 L776.0,88.9 L776.9,89.0 L777.8,89.1 L778.6,89.2 L779.5,89.3 L780.3,89.4 L781.1,89.5 L781.9,89.7 L782.6,89.8 L783.4,90.0 L784.1,90.1 L784.8,90.3 L785.5,90.5 L786.1,90.7 L786.8,90.8 L787.4,91.0 L788.0,91.2 L788.6,91.4 L789.1,91.6 L789.7,91.9 L790.2,92.1 L790.8,92.3 L791.3,92.5 L791.8,92.8 L792.3,93.0 L792.8,93.2 L793.3,93.5 L793.8,93.8 L794.2,94.0 L794.7,94.3 L795.1,94.5 L795.6,94.8 L796.0,95.1 L796.5,95.4 L796.9,95.7 L798.0,94.0 L799.1,92.3 L798.6,92.0 L798.2,91.7 L797.7,91.4 L797.2,91.1 L796.7,90.8 L796.2,90.5 L795.7,90.2 L795.2,90.0 L794.6,89.7 L794.1,89.4 L793.5,89.1 L793.0,88.9 L792.4,88.6 L791.8,88.3 L791.2,88.1 L790.6,87.8 L790.0,87.6 L789.3,87.4 L788.7,87.1 L788.0,86.9 L787.3,86.7 L786.6,86.5 L785.9,86.3 L785.1,86.1 L784.4,85.9 L783.6,85.7 L782.8,85.5 L781.9,85.3 L781.1,85.1 L780.2,84.9 L779.3,84.8 L778.4,84.6 L777.5,84.4 L776.5,84.3 L775.5,84.1 L774.5,84.0 L773.5,83.9 L772.4,83.7 L771.3,83.6 L770.1,83.5 L768.1,83.5 L766.2,83.4 L764.3,83.4 L762.3,83.4 L760.4,83.4 L758.4,83.4 L756.4,83.4 L754.4,83.4 L752.3,83.4 L750.3,83.4 L748.2,83.4 L746.2,83.4 L744.1,83.4 L742.0,83.4 L739.9,83.4 L737.8,83.5 L735.6,83.5 L733.5,83.5 L731.3,83.5 L729.2,83.6 L727.0,83.6 L724.8,83.6 L722.6,83.7 L720.4,83.7 L718.2,83.7 L716.0,83.7 L713.8,83.8 L711.6,83.8 L709.4,83.8 L707.1,83.9 L704.9,83.9 L702.6,83.9 L700.4,83.9 L698.1,84.0 L695.9,84.0 L693.6,84.0 L691.4,84.0 L689.1,84.0 L686.9,84.0 L684.6,84.0 Z" fill="none" stroke="#dc9262" stroke-width="2.8" stroke-linejoin="round"/>
<path d="M803.1,80.9 L802.2,80.5 L801.4,80.2 L800.6,79.9 L799.8,79.6 L799.0,79.3 L798.2,79.0 L797.5,78.7 L796.7,78.4 L796.0,78.1 L795.3,77.8 L794.5,77.6 L793.8,77.3 L793.2,77.0 L792.5,76.7 L791.8,76.4 L791.2,76.2 L790.5,75.9 L789.9,75.6 L789.3,75.3 L788.7,75.0 L788.2,74.7 L787.6,74.5 L787.0,74.2 L786.5,73.9 L786.0,73.6 L785.5,73.3 L785.0,73.0 L784.5,72.7 L784.0,72.4 L783.6,72.1 L783.2,71.8 L782.8,71.4 L782.3,71.1 L782.0,70.8 L781.6,70.5 L781.2,70.1 L780.9,69.8 L780.6,69.4 L780.2,69.1 L780.0,68.8 L779.8,68.4 L779.5,67.9 L779.2,67.3 L778.9,66.8 L778.6,66.2 L778.4,65.7 L778.1,65.1 L777.9,64.6 L777.6,64.0 L777.4,63.5 L777.2,63.0 L777.0,62.5 L776.8,61.9 L776.6,61.4 L776.5,60.9 L776.3,60.4 L776.1,59.9 L776.0,59.4 L775.8,58.9 L775.7,58.4 L775.5,57.9 L775.4,57.4 L775.3,57.0 L775.2,56.5 L775.1,56.0 L775.0,55.6 L774.9,55.1 L774.8,54.6 L774.7,54.2 L774.6,53.8 L774.5,53.3 L774.4,52.9 L774.3,52.5 L774.2,52.0 L774.1,51.6 L774.1,51.2 L774.0,50.8 L773.9,50.4 L773.8,50.0 L773.8,49.7 L772.0,50.0 L770.2,50.3 L770.3,50.7 L770.4,51.1 L770.5,51.5 L770.5,51.9 L770.6,52.3 L770.7,52.7 L770.8,53.1 L770.9,53.6 L770.9,54.0 L771.0,54.5 L771.1,54.9 L771.2,55.4 L771.3,55.9 L771.4,56.3 L771.5,56.8 L771.6,57.3 L771.7,57.8 L771.8,58.3 L771.9,58.8 L772.1,59.3 L772.2,59.9 L772.3,60.4 L772.5,60.9 L772.6,61.5 L772.8,62.0 L772.9,62.6 L773.1,63.2 L773.3,63.7 L773.4,64.3 L773.6,64.9 L773.8,65.5 L774.0,66.1 L774.2,66.7 L774.4,67.3 L774.7,67.9 L774.9,68.5 L775.1,69.1 L775.4,69.8 L775.6,70.4 L776.0,71.2 L776.4,71.8 L776.7,72.3 L777.1,72.9 L777.4,73.4 L777.8,73.9 L778.2,74.4 L778.6,74.8 L779.0,75.3 L779.4,75.8 L779.8,76.3 L780.3,76.8 L780.7,77.2 L781.2,77.7 L781.7,78.2 L782.2,78.6 L782.7,79.1 L783.2,79.6 L783.7,80.0 L784.2,80.5 L784.8,81.0 L785.3,81.4 L785.9,81.9 L786.4,82.4 L787.0,82.9 L787.6,83.3 L788.2,83.8 L788.7,84.3 L789.3,84.8 L789.9,85.3 L790.6,85.8 L791.2,86.3 L791.8,86.8 L792.4,87.3 L793.0,87.8 L793.7,88.4 L794.3,88.9 L795.0,89.5 L795.6,90.0 L796.3,90.6 L796.9,91.1 Z" fill="none" stroke="#dc9262" stroke-width="2.8" stroke-linejoin="round"/>
<path d="M795.8,113.7 L795.2,114.6 L794.6,115.4 L793.9,116.2 L793.3,116.9 L792.7,117.7 L792.1,118.4 L791.5,119.2 L790.8,119.9 L790.2,120.6 L789.6,121.3 L788.9,122.0 L788.3,122.6 L787.7,123.3 L787.0,123.9 L786.4,124.6 L785.7,125.2 L785.1,125.8 L784.4,126.4 L783.8,127.0 L783.1,127.6 L782.5,128.2 L781.8,128.8 L781.2,129.3 L780.5,129.9 L779.9,130.5 L779.3,131.0 L778.6,131.5 L778.0,132.1 L777.3,132.6 L776.7,133.1 L776.1,133.6 L775.5,134.2 L774.8,134.7 L774.2,135.2 L773.6,135.7 L773.0,136.2 L772.4,136.7 L771.8,137.2 L771.2,137.6 L770.7,138.0 L770.2,138.4 L769.6,138.8 L768.9,139.2 L768.3,139.6 L767.7,140.0 L767.1,140.4 L766.5,140.7 L765.9,141.1 L765.3,141.5 L764.8,141.9 L764.2,142.2 L763.7,142.6 L763.1,142.9 L762.6,143.3 L762.1,143.6 L761.6,144.0 L761.1,144.3 L760.6,144.7 L760.1,145.0 L759.7,145.4 L759.2,145.7 L758.8,146.0 L758.3,146.4 L757.9,146.7 L757.5,147.0 L757.1,147.3 L756.7,147.7 L756.3,148.0 L756.0,148.3 L755.6,148.6 L755.2,149.0 L754.9,149.3 L754.6,149.6 L754.3,149.9 L753.9,150.3 L753.7,150.6 L753.4,150.9 L753.1,151.3 L752.8,151.6 L752.6,151.9 L754.0,153.0 L755.4,154.1 L755.6,153.8 L755.9,153.5 L756.1,153.3 L756.3,153.0 L756.6,152.7 L756.8,152.5 L757.1,152.2 L757.4,151.9 L757.7,151.6 L758.0,151.3 L758.3,151.0 L758.7,150.8 L759.0,150.5 L759.4,150.2 L759.8,149.9 L760.2,149.6 L760.6,149.3 L761.0,149.0 L761.4,148.7 L761.8,148.4 L762.3,148.1 L762.7,147.8 L763.2,147.5 L763.7,147.2 L764.2,146.9 L764.7,146.6 L765.2,146.3 L765.8,145.9 L766.3,145.6 L766.9,145.3 L767.4,145.0 L768.0,144.7 L768.6,144.3 L769.2,144.0 L769.8,143.7 L770.5,143.4 L771.1,143.0 L771.8,142.7 L772.4,142.4 L773.3,142.0 L774.0,141.5 L774.6,141.0 L775.3,140.6 L775.9,140.2 L776.6,139.8 L777.2,139.4 L777.9,139.0 L778.6,138.6 L779.3,138.2 L780.0,137.7 L780.7,137.3 L781.4,136.9 L782.1,136.5 L782.8,136.1 L783.6,135.6 L784.3,135.2 L785.1,134.7 L785.8,134.3 L786.6,133.8 L787.4,133.4 L788.2,132.9 L788.9,132.4 L789.7,132.0 L790.5,131.5 L791.3,131.0 L792.2,130.5 L793.0,130.0 L793.8,129.4 L794.6,128.9 L795.5,128.4 L796.3,127.8 L797.2,127.2 L798.1,126.7 L798.9,126.1 L799.8,125.5 L800.7,124.8 L801.6,124.2 L802.4,123.6 L803.3,122.9 L804.2,122.3 Z" fill="none" stroke="#dc9262" stroke-width="2.8" stroke-linejoin="round"/>
<ellipse cx="324" cy="99" rx="44" ry="21" transform="rotate(-3 324 99)" fill="none" stroke="#dc9262" stroke-width="2.8"/>
<ellipse cx="494" cy="97" rx="38" ry="18" transform="rotate(-5 494 97)" fill="none" stroke="#dc9262" stroke-width="2.8"/>
<ellipse cx="663" cy="92" rx="26" ry="23" transform="rotate(0 663 92)" fill="none" stroke="#dc9262" stroke-width="2.8"/>
<ellipse cx="818" cy="102" rx="30" ry="23" transform="rotate(0 818 102)" fill="none" stroke="#dc9262" stroke-width="2.8"/>
<path d="M300.9,91.1 L298.7,90.9 L296.4,90.7 L294.3,90.6 L292.1,90.4 L290.0,90.3 L287.9,90.2 L285.8,90.1 L283.7,90.0 L281.7,89.9 L279.7,89.8 L277.7,89.7 L275.8,89.6 L273.8,89.6 L271.9,89.6 L270.0,89.6 L268.1,89.6 L266.2,89.6 L264.4,89.6 L262.5,89.7 L260.7,89.7 L258.8,89.8 L257.0,89.9 L255.2,90.1 L253.4,90.2 L251.6,90.4 L249.8,90.6 L248.0,90.8 L246.2,91.1 L244.4,91.3 L242.6,91.6 L240.8,92.0 L239.0,92.3 L237.2,92.7 L235.3,93.1 L233.5,93.5 L231.7,94.0 L229.8,94.5 L228.0,95.0 L226.1,95.6 L224.3,96.1 L222.9,96.5 L221.5,96.8 L220.1,97.2 L218.7,97.5 L217.3,97.9 L216.0,98.2 L214.6,98.5 L213.3,98.8 L212.1,99.1 L210.8,99.4 L209.6,99.7 L208.4,100.0 L207.2,100.2 L206.0,100.5 L204.8,100.7 L203.7,100.9 L202.6,101.2 L201.5,101.3 L200.4,101.5 L199.4,101.7 L198.4,101.9 L197.3,102.0 L196.3,102.1 L195.3,102.2 L194.4,102.3 L193.4,102.4 L192.5,102.5 L191.6,102.5 L190.6,102.5 L189.7,102.5 L188.9,102.5 L188.0,102.5 L187.1,102.4 L186.3,102.3 L185.4,102.2 L184.6,102.1 L183.8,102.0 L183.0,101.8 L182.2,101.7 L181.4,101.5 L181.0,103.0 L180.6,104.5 L181.5,104.8 L182.3,105.0 L183.2,105.2 L184.1,105.3 L185.0,105.5 L185.9,105.6 L186.8,105.7 L187.8,105.8 L188.7,105.8 L189.7,105.9 L190.6,105.9 L191.6,105.9 L192.6,105.9 L193.6,105.9 L194.6,105.9 L195.6,105.9 L196.7,105.8 L197.7,105.7 L198.8,105.6 L199.9,105.5 L201.0,105.4 L202.1,105.3 L203.2,105.2 L204.4,105.1 L205.5,104.9 L206.7,104.8 L207.9,104.6 L209.2,104.4 L210.4,104.2 L211.7,104.1 L213.0,103.9 L214.3,103.7 L215.6,103.5 L217.0,103.2 L218.3,103.0 L219.7,102.8 L221.2,102.6 L222.6,102.4 L224.1,102.1 L225.7,101.9 L227.6,101.4 L229.5,101.0 L231.3,100.7 L233.1,100.3 L234.8,100.0 L236.6,99.8 L238.3,99.5 L240.1,99.3 L241.8,99.2 L243.5,99.0 L245.2,98.9 L246.9,98.8 L248.6,98.7 L250.3,98.7 L252.0,98.7 L253.7,98.7 L255.4,98.8 L257.1,98.8 L258.9,98.9 L260.6,99.0 L262.3,99.1 L264.1,99.3 L265.8,99.5 L267.6,99.7 L269.4,99.9 L271.2,100.1 L273.0,100.3 L274.8,100.6 L276.7,100.9 L278.6,101.2 L280.5,101.5 L282.4,101.8 L284.4,102.2 L286.4,102.5 L288.4,102.9 L290.5,103.3 L292.6,103.7 L294.7,104.1 L296.9,104.5 L299.1,104.9 Z" fill="#f8bc8e"/>
<path d="M293.9,84.2 L293.4,84.1 L292.9,84.0 L292.4,83.8 L291.9,83.7 L291.4,83.6 L291.0,83.4 L290.5,83.2 L290.0,83.1 L289.5,82.9 L289.1,82.7 L288.6,82.4 L288.1,82.2 L287.7,82.0 L287.3,81.7 L286.8,81.5 L286.4,81.2 L286.0,80.9 L285.6,80.6 L285.2,80.3 L284.8,80.0 L284.4,79.7 L284.0,79.4 L283.6,79.0 L283.3,78.7 L282.9,78.3 L282.6,77.9 L282.3,77.6 L282.0,77.2 L281.7,76.8 L281.4,76.4 L281.1,75.9 L280.9,75.5 L280.6,75.1 L280.4,74.6 L280.2,74.1 L280.0,73.7 L279.9,73.2 L279.7,72.7 L279.6,72.2 L279.4,71.7 L279.3,71.2 L279.2,70.6 L279.2,70.1 L279.1,69.6 L279.1,69.0 L279.1,68.5 L279.0,67.9 L279.0,67.4 L279.1,66.8 L279.1,66.3 L279.1,65.7 L279.2,65.1 L279.2,64.6 L279.3,64.0 L279.4,63.4 L279.5,62.9 L279.6,62.3 L279.6,61.7 L279.7,61.2 L279.8,60.6 L279.9,60.1 L280.0,59.5 L280.1,58.9 L280.2,58.4 L280.3,57.8 L280.4,57.3 L280.5,56.7 L280.6,56.2 L280.7,55.6 L280.8,55.1 L280.8,54.5 L280.9,54.0 L280.9,53.4 L280.9,52.9 L281.0,52.4 L281.0,51.8 L280.9,51.3 L280.9,50.8 L280.9,50.2 L280.8,49.7 L279.0,50.0 L277.2,50.3 L277.3,50.7 L277.3,51.1 L277.3,51.5 L277.4,51.9 L277.4,52.3 L277.3,52.8 L277.3,53.2 L277.3,53.7 L277.2,54.1 L277.2,54.6 L277.1,55.1 L277.0,55.6 L276.9,56.1 L276.8,56.6 L276.7,57.2 L276.6,57.7 L276.5,58.2 L276.4,58.8 L276.3,59.3 L276.2,59.9 L276.0,60.4 L275.9,61.0 L275.8,61.6 L275.7,62.2 L275.5,62.8 L275.4,63.4 L275.3,64.0 L275.2,64.6 L275.1,65.2 L275.0,65.8 L274.9,66.4 L274.8,67.1 L274.7,67.7 L274.7,68.3 L274.6,69.0 L274.6,69.6 L274.5,70.3 L274.5,71.0 L274.5,71.6 L274.6,72.3 L274.6,73.0 L274.7,73.7 L274.8,74.3 L274.9,75.0 L275.0,75.7 L275.1,76.3 L275.3,77.0 L275.4,77.6 L275.6,78.3 L275.8,78.9 L276.0,79.5 L276.3,80.2 L276.5,80.8 L276.7,81.4 L277.0,82.0 L277.3,82.6 L277.6,83.2 L277.9,83.8 L278.2,84.4 L278.5,85.0 L278.8,85.6 L279.2,86.1 L279.5,86.7 L279.8,87.3 L280.2,87.8 L280.6,88.4 L280.9,89.0 L281.3,89.5 L281.7,90.1 L282.1,90.6 L282.5,91.1 L282.9,91.7 L283.3,92.2 L283.7,92.7 L284.1,93.3 L284.5,93.8 L284.9,94.3 L285.3,94.8 L285.7,95.3 L286.1,95.8 Z" fill="#f8bc8e"/>
<path d="M351.8,86.3 L351.5,85.8 L351.1,85.2 L350.8,84.7 L350.5,84.2 L350.2,83.7 L349.9,83.2 L349.7,82.7 L349.4,82.2 L349.1,81.7 L348.9,81.3 L348.6,80.8 L348.4,80.3 L348.1,79.8 L347.9,79.4 L347.7,78.9 L347.5,78.4 L347.3,78.0 L347.1,77.5 L346.9,77.1 L346.7,76.6 L346.5,76.2 L346.4,75.8 L346.2,75.3 L346.0,74.9 L345.9,74.4 L345.7,74.0 L345.6,73.6 L345.5,73.1 L345.4,72.7 L345.2,72.3 L345.1,71.9 L345.0,71.4 L344.9,71.0 L344.9,70.6 L344.8,70.1 L344.7,69.7 L344.6,69.3 L344.6,68.9 L344.5,68.4 L344.4,68.0 L344.4,67.4 L344.4,66.9 L344.3,66.3 L344.3,65.8 L344.3,65.3 L344.3,64.7 L344.3,64.2 L344.3,63.7 L344.3,63.2 L344.4,62.7 L344.4,62.2 L344.4,61.8 L344.4,61.3 L344.5,60.8 L344.5,60.4 L344.6,59.9 L344.6,59.4 L344.7,59.0 L344.7,58.6 L344.7,58.1 L344.8,57.7 L344.8,57.2 L344.9,56.8 L344.9,56.4 L344.9,56.0 L345.0,55.5 L345.0,55.1 L345.0,54.7 L345.1,54.3 L345.1,53.9 L345.1,53.4 L345.1,53.0 L345.1,52.6 L345.1,52.2 L345.0,51.8 L345.0,51.3 L345.0,50.9 L344.9,50.5 L344.8,50.1 L344.8,49.7 L343.0,50.0 L341.2,50.3 L341.3,50.7 L341.3,51.0 L341.4,51.3 L341.4,51.7 L341.4,52.0 L341.5,52.3 L341.5,52.7 L341.5,53.0 L341.5,53.4 L341.5,53.7 L341.4,54.1 L341.4,54.5 L341.4,54.8 L341.3,55.2 L341.3,55.6 L341.2,56.0 L341.2,56.4 L341.1,56.8 L341.1,57.2 L341.0,57.6 L340.9,58.1 L340.9,58.5 L340.8,58.9 L340.7,59.4 L340.6,59.9 L340.6,60.3 L340.5,60.8 L340.4,61.3 L340.3,61.8 L340.2,62.3 L340.2,62.8 L340.1,63.4 L340.0,63.9 L339.9,64.4 L339.9,65.0 L339.8,65.6 L339.7,66.2 L339.7,66.8 L339.6,67.4 L339.6,68.0 L339.5,68.5 L339.5,68.9 L339.4,69.4 L339.4,69.9 L339.3,70.4 L339.3,70.8 L339.2,71.3 L339.2,71.8 L339.2,72.3 L339.1,72.8 L339.1,73.3 L339.1,73.8 L339.0,74.3 L339.0,74.8 L339.0,75.3 L338.9,75.8 L338.9,76.3 L338.9,76.8 L338.8,77.3 L338.8,77.9 L338.8,78.4 L338.7,78.9 L338.7,79.5 L338.7,80.0 L338.7,80.6 L338.6,81.1 L338.6,81.7 L338.6,82.3 L338.5,82.8 L338.5,83.4 L338.5,84.0 L338.5,84.6 L338.4,85.2 L338.4,85.8 L338.4,86.5 L338.3,87.1 L338.3,87.7 L338.3,88.4 L338.2,89.0 L338.2,89.7 Z" fill="#f8bc8e"/>
<path d="M360.8,103.0 L362.7,102.5 L364.5,102.1 L366.3,101.8 L368.1,101.4 L369.9,101.0 L371.6,100.6 L373.4,100.3 L375.1,99.9 L376.8,99.6 L378.5,99.2 L380.2,98.9 L381.9,98.6 L383.5,98.2 L385.2,97.9 L386.8,97.6 L388.4,97.3 L390.1,97.0 L391.7,96.7 L393.3,96.4 L394.9,96.1 L396.4,95.8 L398.0,95.5 L399.6,95.2 L401.1,94.9 L402.7,94.7 L404.2,94.4 L405.8,94.1 L407.3,93.8 L408.8,93.6 L410.3,93.3 L411.9,93.0 L413.4,92.7 L414.9,92.5 L416.4,92.2 L417.9,91.9 L419.4,91.7 L420.9,91.4 L422.4,91.1 L423.9,90.9 L425.3,90.6 L426.7,90.4 L428.2,90.3 L429.6,90.1 L431.1,90.0 L432.5,89.8 L433.9,89.7 L435.3,89.6 L436.7,89.6 L438.1,89.5 L439.5,89.5 L440.8,89.4 L442.2,89.4 L443.5,89.4 L444.8,89.4 L446.1,89.4 L447.4,89.4 L448.7,89.4 L450.0,89.5 L451.3,89.5 L452.5,89.6 L453.7,89.6 L455.0,89.7 L456.2,89.8 L457.4,89.9 L458.6,90.0 L459.7,90.1 L460.9,90.2 L462.0,90.3 L463.2,90.4 L464.3,90.6 L465.4,90.7 L466.5,90.8 L467.6,91.0 L468.6,91.1 L469.7,91.2 L470.7,91.4 L471.7,91.5 L472.7,91.7 L473.7,91.8 L474.7,92.0 L475.0,90.0 L475.3,88.0 L474.3,87.9 L473.3,87.7 L472.3,87.6 L471.3,87.4 L470.2,87.3 L469.2,87.1 L468.1,87.0 L467.0,86.8 L465.9,86.7 L464.7,86.6 L463.6,86.4 L462.5,86.3 L461.3,86.2 L460.1,86.1 L458.9,85.9 L457.7,85.8 L456.5,85.7 L455.3,85.6 L454.0,85.5 L452.7,85.4 L451.5,85.3 L450.2,85.3 L448.9,85.2 L447.6,85.1 L446.2,85.1 L444.9,85.0 L443.5,85.0 L442.2,85.0 L440.8,84.9 L439.4,84.9 L438.0,84.9 L436.6,84.9 L435.1,84.9 L433.7,85.0 L432.2,85.0 L430.8,85.1 L429.3,85.1 L427.8,85.2 L426.3,85.3 L424.7,85.4 L423.1,85.6 L421.6,85.7 L420.1,85.9 L418.6,86.1 L417.1,86.2 L415.6,86.4 L414.1,86.5 L412.6,86.6 L411.0,86.8 L409.5,86.9 L408.0,87.0 L406.4,87.1 L404.9,87.2 L403.4,87.4 L401.8,87.5 L400.2,87.6 L398.7,87.7 L397.1,87.7 L395.5,87.8 L393.9,87.9 L392.3,88.0 L390.7,88.1 L389.0,88.2 L387.4,88.2 L385.7,88.3 L384.1,88.4 L382.4,88.4 L380.7,88.5 L379.0,88.5 L377.3,88.6 L375.5,88.6 L373.8,88.7 L372.0,88.7 L370.2,88.8 L368.4,88.8 L366.6,88.9 L364.8,88.9 L362.9,89.0 L361.1,89.0 L359.2,89.0 Z" fill="#f8bc8e"/>
<path d="M408.8,93.4 L409.6,91.9 L410.4,90.3 L411.2,88.8 L412.0,87.1 L412.7,85.5 L413.5,83.8 L414.2,82.1 L415.0,80.4 L415.7,78.7 L416.5,76.9 L417.2,75.2 L418.0,73.4 L418.7,71.6 L419.5,69.7 L420.2,67.9 L421.0,66.0 L421.8,64.2 L422.6,62.3 L423.4,60.4 L424.2,58.5 L425.0,56.6 L425.8,54.7 L426.7,52.8 L427.6,50.8 L426.0,50.0 L424.4,49.2 L423.3,51.0 L422.2,52.8 L421.2,54.7 L420.1,56.5 L419.1,58.3 L418.1,60.1 L417.1,61.9 L416.1,63.7 L415.1,65.4 L414.2,67.2 L413.2,68.9 L412.3,70.6 L411.3,72.3 L410.4,74.0 L409.5,75.6 L408.6,77.2 L407.6,78.8 L406.7,80.3 L405.8,81.8 L404.9,83.2 L404.0,84.6 L403.0,86.0 L402.1,87.3 L401.2,88.6 Z" fill="#f8bc8e"/>
<path d="M298.8,108.8 L298.6,109.6 L298.4,110.3 L298.2,111.0 L298.0,111.8 L297.7,112.5 L297.5,113.3 L297.2,114.0 L296.8,114.8 L296.5,115.6 L296.1,116.3 L295.7,117.1 L295.3,117.9 L294.9,118.6 L294.4,119.4 L293.9,120.2 L293.4,120.9 L292.9,121.7 L292.4,122.4 L291.8,123.2 L291.3,124.0 L290.7,124.7 L290.1,125.5 L289.4,126.2 L288.8,127.0 L288.1,127.7 L287.5,128.4 L286.8,129.1 L286.1,129.9 L285.4,130.6 L284.6,131.3 L283.9,132.0 L283.1,132.7 L282.4,133.4 L281.6,134.0 L280.8,134.7 L280.0,135.4 L279.2,136.0 L278.3,136.7 L277.5,137.3 L276.7,137.9 L276.0,138.4 L275.3,138.9 L274.6,139.3 L273.9,139.8 L273.3,140.3 L272.6,140.7 L272.0,141.1 L271.4,141.6 L270.7,142.0 L270.1,142.4 L269.6,142.8 L269.0,143.2 L268.4,143.6 L267.9,144.0 L267.4,144.3 L266.8,144.7 L266.3,145.1 L265.8,145.4 L265.4,145.8 L264.9,146.1 L264.5,146.4 L264.0,146.8 L263.6,147.1 L263.2,147.4 L262.8,147.7 L262.4,148.0 L262.1,148.3 L261.7,148.6 L261.4,148.9 L261.0,149.2 L260.7,149.5 L260.4,149.8 L260.1,150.0 L259.9,150.3 L259.6,150.6 L259.4,150.9 L259.1,151.2 L258.9,151.4 L258.7,151.7 L258.5,152.0 L260.0,153.0 L261.5,154.0 L261.6,153.8 L261.8,153.6 L261.9,153.5 L262.1,153.3 L262.3,153.0 L262.5,152.8 L262.7,152.6 L262.9,152.4 L263.2,152.1 L263.5,151.9 L263.7,151.7 L264.0,151.4 L264.4,151.1 L264.7,150.9 L265.1,150.6 L265.4,150.3 L265.8,150.0 L266.2,149.8 L266.6,149.5 L267.1,149.2 L267.5,148.9 L268.0,148.5 L268.5,148.2 L269.0,147.9 L269.5,147.6 L270.1,147.3 L270.6,146.9 L271.2,146.6 L271.8,146.2 L272.4,145.9 L273.0,145.5 L273.6,145.2 L274.3,144.8 L274.9,144.4 L275.6,144.1 L276.3,143.7 L277.0,143.3 L277.7,142.9 L278.5,142.5 L279.3,142.1 L280.3,141.5 L281.2,140.9 L282.2,140.3 L283.1,139.7 L284.0,139.1 L284.9,138.5 L285.8,137.9 L286.7,137.3 L287.6,136.7 L288.5,136.0 L289.4,135.4 L290.3,134.8 L291.1,134.1 L292.0,133.5 L292.9,132.8 L293.7,132.2 L294.5,131.5 L295.4,130.9 L296.2,130.2 L297.0,129.5 L297.8,128.9 L298.6,128.2 L299.4,127.5 L300.1,126.8 L300.9,126.1 L301.7,125.4 L302.4,124.7 L303.2,124.0 L303.9,123.3 L304.6,122.6 L305.3,121.9 L306.0,121.2 L306.7,120.4 L307.4,119.7 L308.1,119.0 L308.7,118.2 L309.4,117.5 L310.0,116.7 L310.6,115.9 L311.2,115.2 Z" fill="#f8bc8e"/>
<path d="M351.3,118.0 L352.4,118.4 L353.5,118.9 L354.6,119.3 L355.7,119.7 L356.7,120.1 L357.8,120.5 L358.8,120.9 L359.8,121.3 L360.8,121.6 L361.8,122.0 L362.8,122.3 L363.8,122.7 L364.8,123.0 L365.8,123.4 L366.8,123.7 L367.7,124.0 L368.7,124.3 L369.7,124.6 L370.6,124.9 L371.6,125.2 L372.5,125.5 L373.5,125.7 L374.4,126.0 L375.4,126.3 L376.3,126.6 L377.3,126.8 L378.2,127.1 L379.2,127.3 L380.2,127.6 L381.1,127.8 L382.1,128.1 L383.1,128.3 L384.1,128.6 L385.1,128.8 L386.1,129.1 L387.1,129.3 L388.2,129.6 L389.2,129.8 L390.3,130.1 L391.3,130.3 L392.4,130.7 L393.6,131.0 L394.7,131.4 L395.9,131.7 L397.0,132.1 L398.1,132.5 L399.1,133.0 L400.2,133.4 L401.3,133.9 L402.3,134.3 L403.3,134.8 L404.3,135.3 L405.2,135.8 L406.2,136.3 L407.1,136.9 L408.0,137.4 L408.9,138.0 L409.8,138.6 L410.7,139.2 L411.5,139.8 L412.3,140.4 L413.1,141.0 L413.9,141.6 L414.6,142.3 L415.3,142.9 L416.0,143.6 L416.7,144.2 L417.4,144.9 L418.0,145.6 L418.6,146.3 L419.2,147.0 L419.7,147.7 L420.3,148.5 L420.8,149.2 L421.3,149.9 L421.8,150.7 L422.2,151.4 L422.6,152.2 L423.0,153.0 L423.4,153.8 L425.0,153.0 L426.6,152.2 L426.2,151.4 L425.8,150.5 L425.3,149.7 L424.8,148.8 L424.3,148.0 L423.8,147.2 L423.2,146.4 L422.6,145.6 L422.0,144.8 L421.4,144.0 L420.7,143.2 L420.0,142.5 L419.3,141.7 L418.6,141.0 L417.8,140.2 L417.1,139.5 L416.3,138.8 L415.5,138.1 L414.6,137.4 L413.8,136.7 L412.9,136.1 L412.0,135.4 L411.1,134.8 L410.1,134.2 L409.2,133.5 L408.2,132.9 L407.2,132.3 L406.2,131.7 L405.2,131.2 L404.1,130.6 L403.1,130.1 L402.0,129.5 L400.9,129.0 L399.8,128.5 L398.6,128.0 L397.5,127.5 L396.3,127.0 L395.1,126.6 L393.9,126.1 L392.7,125.7 L391.7,125.3 L390.7,125.0 L389.7,124.6 L388.7,124.2 L387.7,123.9 L386.8,123.5 L385.9,123.2 L384.9,122.8 L384.0,122.4 L383.1,122.0 L382.2,121.6 L381.4,121.3 L380.5,120.9 L379.7,120.4 L378.8,120.0 L378.0,119.6 L377.1,119.2 L376.3,118.7 L375.5,118.3 L374.7,117.8 L373.9,117.4 L373.1,116.9 L372.3,116.4 L371.5,115.9 L370.7,115.4 L369.9,114.9 L369.1,114.3 L368.3,113.8 L367.5,113.2 L366.7,112.6 L366.0,112.0 L365.2,111.4 L364.4,110.8 L363.6,110.2 L362.8,109.5 L362.0,108.9 L361.1,108.2 L360.3,107.5 L359.5,106.8 L358.7,106.0 Z" fill="#f8bc8e"/>
<path d="M501.8,85.4 L501.8,84.8 L501.8,84.1 L501.8,83.4 L501.8,82.8 L501.8,82.1 L501.8,81.5 L501.8,80.9 L501.8,80.2 L501.7,79.6 L501.7,79.0 L501.7,78.4 L501.6,77.8 L501.6,77.3 L501.5,76.7 L501.5,76.1 L501.4,75.6 L501.4,75.0 L501.3,74.5 L501.3,73.9 L501.2,73.4 L501.1,72.9 L501.1,72.3 L501.0,71.8 L500.9,71.3 L500.8,70.8 L500.7,70.3 L500.6,69.8 L500.6,69.3 L500.5,68.8 L500.4,68.3 L500.3,67.8 L500.2,67.4 L500.1,66.9 L500.0,66.4 L499.9,65.9 L499.7,65.5 L499.6,65.0 L499.5,64.5 L499.4,64.1 L499.3,63.6 L499.2,63.2 L499.1,62.8 L499.0,62.4 L498.9,61.9 L498.8,61.5 L498.7,61.1 L498.6,60.8 L498.6,60.4 L498.5,60.0 L498.4,59.6 L498.4,59.3 L498.3,58.9 L498.3,58.5 L498.2,58.2 L498.2,57.8 L498.1,57.5 L498.1,57.1 L498.0,56.8 L498.0,56.5 L498.0,56.1 L498.0,55.8 L497.9,55.5 L497.9,55.2 L497.9,54.9 L497.9,54.5 L497.9,54.2 L497.9,53.9 L497.8,53.6 L497.8,53.3 L497.8,53.0 L497.8,52.7 L497.8,52.4 L497.8,52.1 L497.8,51.8 L497.8,51.5 L497.8,51.2 L497.8,50.9 L497.8,50.6 L497.8,50.3 L497.8,50.0 L496.0,50.0 L494.2,50.0 L494.2,50.3 L494.2,50.6 L494.2,50.9 L494.2,51.2 L494.2,51.5 L494.2,51.8 L494.2,52.1 L494.2,52.4 L494.2,52.7 L494.2,53.1 L494.2,53.4 L494.2,53.7 L494.2,54.0 L494.2,54.3 L494.2,54.7 L494.2,55.0 L494.2,55.3 L494.2,55.7 L494.3,56.0 L494.3,56.4 L494.3,56.7 L494.3,57.1 L494.3,57.4 L494.3,57.8 L494.3,58.1 L494.3,58.5 L494.4,58.9 L494.4,59.3 L494.4,59.7 L494.4,60.1 L494.4,60.5 L494.5,60.9 L494.5,61.3 L494.5,61.7 L494.5,62.1 L494.6,62.6 L494.6,63.0 L494.6,63.5 L494.7,63.9 L494.7,64.4 L494.7,64.8 L494.8,65.3 L494.8,65.7 L494.8,66.1 L494.8,66.6 L494.8,67.0 L494.8,67.4 L494.8,67.9 L494.8,68.3 L494.7,68.7 L494.7,69.2 L494.7,69.6 L494.6,70.0 L494.5,70.5 L494.5,70.9 L494.4,71.3 L494.3,71.8 L494.3,72.2 L494.2,72.7 L494.1,73.1 L493.9,73.6 L493.8,74.0 L493.7,74.5 L493.6,74.9 L493.4,75.4 L493.3,75.8 L493.1,76.3 L492.9,76.7 L492.8,77.2 L492.6,77.7 L492.4,78.1 L492.2,78.6 L492.0,79.1 L491.7,79.6 L491.5,80.1 L491.3,80.5 L491.0,81.0 L490.7,81.5 L490.5,82.0 L490.2,82.6 Z" fill="#f8bc8e"/>
<path d="M521.7,93.7 L523.2,93.1 L524.7,92.5 L526.1,91.9 L527.6,91.3 L529.0,90.7 L530.4,90.1 L531.9,89.5 L533.3,88.9 L534.7,88.3 L536.1,87.7 L537.5,87.1 L538.9,86.5 L540.3,85.9 L541.7,85.3 L543.1,84.7 L544.4,84.1 L545.8,83.5 L547.2,82.9 L548.5,82.3 L549.9,81.7 L551.2,81.1 L552.5,80.5 L553.9,80.0 L555.2,79.4 L556.5,78.8 L557.9,78.2 L559.2,77.6 L560.5,77.0 L561.8,76.4 L563.1,75.9 L564.4,75.3 L565.7,74.7 L567.0,74.1 L568.2,73.6 L569.5,73.0 L570.8,72.4 L572.1,71.8 L573.4,71.3 L574.6,70.7 L575.9,70.1 L576.9,69.6 L577.9,69.1 L578.8,68.6 L579.8,68.2 L580.7,67.7 L581.6,67.2 L582.5,66.7 L583.4,66.3 L584.2,65.8 L585.1,65.3 L585.9,64.8 L586.8,64.4 L587.6,63.9 L588.4,63.4 L589.2,63.0 L590.0,62.5 L590.7,62.1 L591.5,61.6 L592.2,61.2 L593.0,60.7 L593.7,60.3 L594.4,59.8 L595.1,59.4 L595.7,59.0 L596.4,58.5 L597.0,58.1 L597.6,57.7 L598.2,57.2 L598.8,56.8 L599.4,56.4 L600.0,56.0 L600.5,55.5 L601.0,55.1 L601.6,54.7 L602.1,54.3 L602.5,53.9 L603.0,53.5 L603.4,53.1 L603.9,52.7 L604.3,52.3 L603.0,51.0 L601.7,49.7 L601.4,50.1 L601.0,50.4 L600.6,50.8 L600.2,51.2 L599.7,51.5 L599.3,51.9 L598.8,52.3 L598.3,52.7 L597.8,53.1 L597.3,53.5 L596.7,53.9 L596.2,54.3 L595.6,54.7 L595.0,55.1 L594.4,55.5 L593.7,55.9 L593.1,56.3 L592.4,56.7 L591.7,57.1 L591.0,57.5 L590.3,57.9 L589.6,58.4 L588.8,58.8 L588.1,59.2 L587.3,59.6 L586.5,60.0 L585.7,60.5 L584.9,60.9 L584.1,61.3 L583.2,61.7 L582.4,62.1 L581.5,62.6 L580.6,63.0 L579.7,63.4 L578.8,63.8 L577.9,64.2 L576.9,64.7 L576.0,65.1 L575.0,65.5 L574.1,65.9 L572.8,66.3 L571.5,66.8 L570.2,67.3 L568.9,67.8 L567.6,68.3 L566.3,68.7 L565.0,69.2 L563.7,69.7 L562.3,70.1 L561.0,70.6 L559.7,71.1 L558.3,71.5 L557.0,72.0 L555.6,72.4 L554.3,72.9 L552.9,73.3 L551.5,73.7 L550.2,74.2 L548.8,74.6 L547.4,75.0 L546.0,75.4 L544.6,75.9 L543.2,76.3 L541.8,76.7 L540.4,77.1 L538.9,77.5 L537.5,77.8 L536.1,78.2 L534.6,78.6 L533.2,79.0 L531.7,79.3 L530.2,79.7 L528.8,80.0 L527.3,80.4 L525.8,80.7 L524.3,81.0 L522.8,81.3 L521.3,81.7 L519.8,82.0 L518.3,82.3 Z" fill="#f8bc8e"/>
<path d="M525.5,101.0 L528.1,100.5 L530.8,100.0 L533.4,99.5 L536.1,99.0 L538.8,98.5 L541.5,98.0 L544.2,97.6 L546.9,97.2 L549.7,96.8 L552.5,96.3 L555.3,96.0 L558.1,95.6 L561.0,95.2 L563.8,94.9 L566.7,94.5 L569.6,94.2 L572.5,93.9 L575.5,93.6 L578.4,93.4 L581.4,93.1 L584.4,92.9 L587.4,92.7 L590.4,92.5 L593.5,92.3 L596.6,92.1 L599.7,92.0 L602.8,91.8 L605.9,91.7 L609.0,91.6 L612.2,91.6 L615.4,91.5 L618.6,91.5 L621.8,91.5 L625.1,91.5 L628.3,91.5 L631.6,91.6 L634.9,91.6 L638.2,91.7 L641.6,91.9 L644.9,92.0 L645.0,90.0 L645.1,88.0 L641.7,87.9 L638.4,87.7 L635.0,87.6 L631.7,87.6 L628.4,87.5 L625.1,87.5 L621.8,87.4 L618.6,87.4 L615.4,87.4 L612.2,87.5 L609.0,87.5 L605.8,87.5 L602.7,87.6 L599.5,87.6 L596.4,87.7 L593.3,87.8 L590.2,87.9 L587.2,87.9 L584.1,88.0 L581.1,88.1 L578.1,88.2 L575.1,88.3 L572.2,88.4 L569.2,88.5 L566.3,88.6 L563.4,88.7 L560.5,88.8 L557.6,88.9 L554.7,88.9 L551.9,89.0 L549.1,89.1 L546.3,89.1 L543.5,89.1 L540.7,89.2 L538.0,89.2 L535.2,89.2 L532.5,89.2 L529.8,89.1 L527.1,89.1 L524.5,89.0 Z" fill="#f8bc8e"/>
<path d="M476.4,107.8 L476.3,108.7 L476.1,109.5 L475.9,110.4 L475.8,111.2 L475.7,112.1 L475.6,112.9 L475.5,113.7 L475.4,114.5 L475.3,115.3 L475.2,116.1 L475.2,116.9 L475.1,117.7 L475.1,118.4 L475.1,119.2 L475.1,119.9 L475.1,120.7 L475.1,121.4 L475.1,122.1 L475.1,122.8 L475.2,123.5 L475.2,124.2 L475.3,124.9 L475.4,125.6 L475.4,126.3 L475.5,127.0 L475.6,127.6 L475.7,128.3 L475.8,129.0 L476.0,129.6 L476.1,130.3 L476.2,130.9 L476.4,131.6 L476.5,132.2 L476.7,132.8 L476.8,133.5 L477.0,134.1 L477.2,134.7 L477.4,135.3 L477.6,135.9 L477.8,136.7 L478.1,137.4 L478.4,137.9 L478.6,138.4 L478.9,138.9 L479.2,139.4 L479.4,139.9 L479.7,140.4 L479.9,140.8 L480.1,141.3 L480.4,141.7 L480.6,142.2 L480.8,142.6 L481.0,143.1 L481.2,143.5 L481.5,143.9 L481.7,144.3 L481.9,144.8 L482.0,145.2 L482.2,145.6 L482.4,146.0 L482.6,146.3 L482.7,146.7 L482.9,147.1 L483.0,147.5 L483.2,147.9 L483.3,148.2 L483.4,148.6 L483.5,149.0 L483.6,149.3 L483.7,149.7 L483.8,150.0 L483.9,150.4 L484.0,150.7 L484.0,151.0 L484.1,151.4 L484.1,151.7 L484.2,152.0 L484.2,152.4 L484.2,152.7 L484.2,153.0 L486.0,153.0 L487.8,153.0 L487.8,152.6 L487.8,152.1 L487.7,151.7 L487.7,151.3 L487.6,150.9 L487.6,150.5 L487.5,150.0 L487.4,149.6 L487.3,149.2 L487.2,148.8 L487.1,148.4 L487.0,147.9 L486.9,147.5 L486.8,147.1 L486.6,146.7 L486.5,146.2 L486.3,145.8 L486.2,145.4 L486.0,145.0 L485.9,144.5 L485.7,144.1 L485.5,143.7 L485.3,143.2 L485.2,142.8 L485.0,142.4 L484.8,141.9 L484.6,141.4 L484.4,141.0 L484.2,140.5 L484.0,140.1 L483.8,139.6 L483.7,139.1 L483.5,138.6 L483.3,138.1 L483.1,137.6 L482.9,137.1 L482.7,136.6 L482.5,136.1 L482.3,135.6 L482.2,135.3 L482.2,134.9 L482.1,134.3 L482.0,133.7 L481.9,133.1 L481.9,132.5 L481.8,132.0 L481.8,131.4 L481.7,130.8 L481.7,130.2 L481.7,129.7 L481.7,129.1 L481.7,128.5 L481.8,128.0 L481.8,127.4 L481.9,126.8 L481.9,126.2 L482.0,125.7 L482.1,125.1 L482.2,124.5 L482.3,124.0 L482.4,123.4 L482.6,122.8 L482.7,122.2 L482.9,121.7 L483.1,121.1 L483.3,120.5 L483.5,119.9 L483.7,119.4 L484.0,118.8 L484.2,118.2 L484.5,117.6 L484.8,117.0 L485.1,116.4 L485.4,115.8 L485.7,115.3 L486.0,114.7 L486.4,114.1 L486.8,113.4 L487.2,112.8 L487.6,112.2 Z" fill="#f8bc8e"/>
<path d="M518.8,109.9 L520.0,110.0 L521.1,110.0 L522.2,110.1 L523.3,110.2 L524.4,110.2 L525.4,110.3 L526.4,110.4 L527.5,110.5 L528.4,110.5 L529.4,110.6 L530.4,110.7 L531.3,110.7 L532.3,110.8 L533.2,110.9 L534.0,111.0 L534.9,111.1 L535.8,111.1 L536.6,111.2 L537.4,111.3 L538.3,111.4 L539.0,111.4 L539.8,111.5 L540.6,111.6 L541.3,111.7 L542.1,111.8 L542.8,111.9 L543.5,112.0 L544.2,112.0 L544.8,112.1 L545.5,112.2 L546.1,112.3 L546.8,112.4 L547.4,112.5 L548.0,112.6 L548.6,112.7 L549.2,112.8 L549.7,112.9 L550.3,113.0 L550.8,113.1 L551.2,113.2 L552.9,113.8 L554.5,114.5 L556.2,115.2 L557.9,115.9 L559.5,116.6 L561.2,117.4 L562.8,118.1 L564.4,118.9 L566.0,119.7 L567.6,120.6 L569.1,121.5 L570.6,122.3 L572.1,123.2 L573.6,124.2 L575.1,125.1 L576.5,126.1 L577.9,127.0 L579.3,128.0 L580.6,129.0 L582.0,130.1 L583.3,131.1 L584.5,132.2 L585.8,133.3 L587.0,134.4 L588.1,135.5 L589.3,136.6 L590.4,137.8 L591.5,138.9 L592.5,140.1 L593.5,141.3 L594.5,142.5 L595.4,143.7 L596.3,144.9 L597.1,146.1 L597.9,147.4 L598.7,148.6 L599.4,149.9 L600.1,151.2 L600.8,152.4 L601.4,153.8 L603.0,153.0 L604.6,152.2 L604.0,150.9 L603.3,149.5 L602.6,148.1 L601.8,146.8 L601.0,145.4 L600.1,144.1 L599.2,142.8 L598.3,141.5 L597.3,140.2 L596.3,139.0 L595.2,137.7 L594.1,136.5 L593.0,135.3 L591.9,134.1 L590.7,132.9 L589.5,131.7 L588.2,130.5 L586.9,129.4 L585.6,128.3 L584.3,127.2 L582.9,126.1 L581.5,125.0 L580.1,124.0 L578.7,122.9 L577.2,121.9 L575.7,120.9 L574.2,119.9 L572.7,118.9 L571.1,118.0 L569.5,117.1 L567.9,116.2 L566.3,115.3 L564.7,114.4 L563.1,113.5 L561.4,112.7 L559.7,111.9 L558.0,111.1 L556.3,110.3 L554.6,109.6 L552.8,108.8 L552.1,108.6 L551.6,108.4 L551.0,108.2 L550.4,108.0 L549.9,107.8 L549.3,107.6 L548.7,107.4 L548.1,107.2 L547.4,107.0 L546.8,106.7 L546.2,106.5 L545.5,106.3 L544.8,106.1 L544.1,105.8 L543.4,105.6 L542.7,105.4 L542.0,105.1 L541.3,104.9 L540.5,104.6 L539.7,104.4 L539.0,104.1 L538.2,103.9 L537.4,103.6 L536.5,103.3 L535.7,103.0 L534.8,102.8 L534.0,102.5 L533.1,102.2 L532.2,101.9 L531.3,101.6 L530.3,101.2 L529.4,100.9 L528.4,100.6 L527.4,100.3 L526.4,99.9 L525.4,99.6 L524.4,99.2 L523.3,98.9 L522.3,98.5 L521.2,98.1 Z" fill="#f8bc8e"/>
<path d="M654.0,70.5 L653.3,70.1 L652.7,69.7 L652.0,69.4 L651.4,69.0 L650.8,68.6 L650.2,68.2 L649.7,67.9 L649.1,67.5 L648.6,67.1 L648.0,66.8 L647.5,66.4 L647.0,66.0 L646.5,65.6 L646.1,65.3 L645.6,64.9 L645.1,64.5 L644.7,64.1 L644.3,63.8 L643.8,63.4 L643.4,63.0 L643.0,62.7 L642.6,62.3 L642.3,61.9 L641.9,61.6 L641.5,61.2 L641.2,60.8 L640.8,60.5 L640.5,60.1 L640.2,59.7 L639.8,59.4 L639.5,59.0 L639.2,58.6 L638.9,58.3 L638.6,57.9 L638.3,57.6 L638.1,57.2 L637.8,56.9 L637.5,56.5 L637.3,56.2 L637.0,55.8 L636.7,55.5 L636.6,55.3 L636.4,55.1 L636.2,54.9 L636.0,54.7 L635.8,54.5 L635.6,54.3 L635.5,54.1 L635.3,53.9 L635.1,53.7 L635.0,53.5 L634.8,53.3 L634.6,53.2 L634.5,53.0 L634.3,52.8 L634.2,52.6 L634.0,52.5 L633.9,52.3 L633.7,52.1 L633.6,52.0 L633.5,51.8 L633.3,51.7 L633.2,51.5 L633.1,51.4 L633.0,51.2 L632.8,51.1 L632.7,50.9 L632.6,50.8 L632.5,50.6 L632.4,50.5 L632.3,50.3 L632.2,50.2 L632.1,50.1 L632.0,49.9 L632.0,49.8 L631.9,49.7 L631.8,49.6 L631.7,49.4 L631.7,49.3 L631.6,49.2 L630.0,50.0 L628.4,50.8 L628.5,51.0 L628.6,51.2 L628.7,51.3 L628.8,51.5 L628.9,51.7 L629.0,51.9 L629.1,52.0 L629.2,52.2 L629.3,52.4 L629.4,52.5 L629.6,52.7 L629.7,52.9 L629.8,53.1 L629.9,53.2 L630.0,53.4 L630.2,53.6 L630.3,53.7 L630.4,53.9 L630.5,54.1 L630.7,54.3 L630.8,54.4 L630.9,54.6 L631.0,54.8 L631.2,55.0 L631.3,55.2 L631.4,55.4 L631.5,55.6 L631.7,55.7 L631.8,55.9 L631.9,56.1 L632.0,56.3 L632.1,56.5 L632.3,56.8 L632.4,57.0 L632.5,57.2 L632.6,57.4 L632.7,57.6 L632.8,57.8 L633.0,58.1 L633.0,58.2 L633.2,58.6 L633.4,59.0 L633.6,59.4 L633.8,59.8 L634.0,60.3 L634.2,60.7 L634.5,61.2 L634.7,61.6 L634.9,62.1 L635.1,62.5 L635.4,63.0 L635.6,63.4 L635.9,63.9 L636.1,64.4 L636.4,64.9 L636.7,65.4 L636.9,65.9 L637.2,66.4 L637.5,66.9 L637.8,67.5 L638.1,68.0 L638.5,68.5 L638.8,69.1 L639.1,69.6 L639.5,70.2 L639.8,70.8 L640.2,71.3 L640.6,71.9 L641.0,72.5 L641.4,73.1 L641.8,73.7 L642.2,74.3 L642.6,75.0 L643.1,75.6 L643.5,76.2 L644.0,76.9 L644.5,77.5 L645.0,78.2 L645.5,78.8 L646.0,79.5 Z" fill="#f8bc8e"/>
<path d="M681.1,81.1 L681.8,80.5 L682.5,80.0 L683.1,79.4 L683.8,78.8 L684.5,78.2 L685.1,77.6 L685.8,77.0 L686.4,76.5 L687.1,75.9 L687.7,75.3 L688.3,74.8 L688.9,74.2 L689.5,73.7 L690.1,73.1 L690.7,72.6 L691.3,72.0 L691.9,71.5 L692.5,70.9 L693.1,70.4 L693.6,69.9 L694.2,69.3 L694.8,68.8 L695.3,68.3 L695.8,67.7 L696.4,67.2 L696.9,66.7 L697.4,66.2 L698.0,65.7 L698.5,65.2 L699.0,64.6 L699.5,64.1 L700.0,63.6 L700.4,63.1 L700.9,62.6 L701.4,62.1 L701.8,61.6 L702.3,61.1 L702.8,60.6 L703.2,60.1 L703.6,59.6 L703.9,59.4 L704.1,59.1 L704.3,58.9 L704.5,58.6 L704.7,58.3 L704.9,58.1 L705.0,57.8 L705.2,57.6 L705.4,57.3 L705.6,57.1 L705.8,56.8 L706.0,56.6 L706.1,56.3 L706.3,56.1 L706.5,55.9 L706.6,55.6 L706.8,55.4 L707.0,55.2 L707.1,54.9 L707.3,54.7 L707.4,54.5 L707.6,54.3 L707.7,54.1 L707.8,53.8 L708.0,53.6 L708.1,53.4 L708.2,53.2 L708.4,53.0 L708.5,52.8 L708.6,52.6 L708.7,52.4 L708.8,52.2 L708.9,52.0 L709.0,51.9 L709.1,51.7 L709.2,51.5 L709.3,51.3 L709.4,51.1 L709.5,51.0 L709.6,50.8 L708.0,50.0 L706.4,49.2 L706.3,49.3 L706.2,49.5 L706.2,49.6 L706.1,49.8 L706.0,49.9 L705.9,50.1 L705.8,50.2 L705.7,50.4 L705.6,50.6 L705.5,50.7 L705.4,50.9 L705.3,51.1 L705.2,51.2 L705.1,51.4 L704.9,51.6 L704.8,51.8 L704.7,52.0 L704.5,52.2 L704.4,52.3 L704.2,52.5 L704.1,52.7 L703.9,52.9 L703.8,53.1 L703.6,53.3 L703.4,53.5 L703.3,53.7 L703.1,53.9 L702.9,54.1 L702.7,54.3 L702.5,54.5 L702.3,54.6 L702.1,54.8 L701.9,55.0 L701.7,55.2 L701.5,55.4 L701.3,55.6 L701.1,55.8 L700.8,56.0 L700.6,56.2 L700.4,56.4 L699.9,56.8 L699.4,57.2 L698.9,57.6 L698.4,58.0 L697.9,58.4 L697.4,58.8 L696.9,59.2 L696.4,59.6 L695.8,60.0 L695.3,60.4 L694.7,60.7 L694.2,61.1 L693.6,61.5 L693.0,61.9 L692.4,62.3 L691.8,62.7 L691.2,63.0 L690.6,63.4 L690.0,63.8 L689.4,64.1 L688.7,64.5 L688.1,64.9 L687.4,65.2 L686.7,65.6 L686.1,65.9 L685.4,66.3 L684.7,66.6 L684.0,67.0 L683.3,67.3 L682.6,67.7 L681.8,68.0 L681.1,68.3 L680.4,68.7 L679.6,69.0 L678.8,69.3 L678.1,69.6 L677.3,69.9 L676.5,70.2 L675.7,70.6 L674.9,70.9 Z" fill="#f8bc8e"/>
<path d="M651.3,108.1 L651.1,109.3 L650.9,110.4 L650.6,111.5 L650.4,112.6 L650.2,113.7 L650.0,114.7 L649.8,115.8 L649.5,116.8 L649.3,117.8 L649.1,118.8 L648.9,119.7 L648.6,120.7 L648.4,121.6 L648.2,122.5 L648.0,123.4 L647.7,124.3 L647.5,125.2 L647.3,126.0 L647.0,126.8 L646.8,127.7 L646.6,128.5 L646.4,129.2 L646.1,130.0 L645.9,130.8 L645.7,131.5 L645.4,132.2 L645.2,132.9 L644.9,133.6 L644.7,134.3 L644.5,135.0 L644.2,135.6 L644.0,136.2 L643.7,136.9 L643.5,137.5 L643.2,138.1 L643.0,138.6 L642.7,139.2 L642.5,139.8 L642.2,140.3 L642.0,140.8 L641.8,141.2 L641.6,141.6 L641.4,141.9 L641.3,142.3 L641.1,142.7 L640.9,143.0 L640.7,143.4 L640.6,143.7 L640.4,144.0 L640.2,144.4 L640.0,144.7 L639.9,145.0 L639.7,145.3 L639.5,145.6 L639.4,145.9 L639.2,146.2 L639.1,146.5 L638.9,146.8 L638.8,147.0 L638.6,147.3 L638.5,147.6 L638.3,147.9 L638.2,148.1 L638.1,148.4 L637.9,148.7 L637.8,148.9 L637.7,149.2 L637.5,149.4 L637.4,149.7 L637.3,149.9 L637.2,150.2 L637.1,150.4 L637.0,150.7 L636.9,150.9 L636.8,151.2 L636.7,151.4 L636.6,151.7 L636.5,151.9 L636.4,152.2 L636.3,152.4 L638.0,153.0 L639.7,153.6 L639.8,153.4 L639.8,153.2 L639.9,153.0 L640.0,152.8 L640.1,152.6 L640.2,152.4 L640.3,152.1 L640.4,151.9 L640.5,151.7 L640.6,151.5 L640.7,151.3 L640.8,151.1 L640.9,150.8 L641.0,150.6 L641.2,150.4 L641.3,150.1 L641.4,149.9 L641.6,149.7 L641.7,149.4 L641.9,149.2 L642.0,148.9 L642.2,148.7 L642.4,148.4 L642.5,148.1 L642.7,147.9 L642.9,147.6 L643.1,147.3 L643.3,147.0 L643.5,146.7 L643.7,146.5 L643.9,146.2 L644.1,145.9 L644.3,145.5 L644.5,145.2 L644.8,144.9 L645.0,144.6 L645.2,144.2 L645.5,143.9 L645.7,143.6 L646.0,143.2 L646.4,142.6 L646.7,142.1 L647.1,141.5 L647.4,141.0 L647.8,140.4 L648.1,139.8 L648.5,139.2 L648.8,138.6 L649.2,138.0 L649.6,137.4 L649.9,136.7 L650.3,136.1 L650.7,135.4 L651.1,134.7 L651.5,134.0 L651.8,133.3 L652.2,132.6 L652.6,131.9 L653.0,131.1 L653.4,130.3 L653.8,129.6 L654.3,128.8 L654.7,128.0 L655.1,127.1 L655.5,126.3 L656.0,125.5 L656.4,124.6 L656.9,123.7 L657.3,122.8 L657.8,121.9 L658.2,121.0 L658.7,120.0 L659.2,119.1 L659.7,118.1 L660.1,117.1 L660.6,116.1 L661.1,115.1 L661.7,114.0 L662.2,113.0 L662.7,111.9 Z" fill="#f8bc8e"/>
<path d="M670.9,112.4 L672.0,113.2 L673.1,114.0 L674.2,114.8 L675.2,115.5 L676.3,116.3 L677.3,117.1 L678.4,117.8 L679.4,118.6 L680.4,119.3 L681.4,120.1 L682.4,120.8 L683.4,121.5 L684.3,122.3 L685.3,123.0 L686.2,123.7 L687.2,124.5 L688.1,125.2 L689.0,125.9 L689.9,126.6 L690.8,127.3 L691.7,128.0 L692.5,128.8 L693.3,129.5 L694.2,130.2 L695.0,130.9 L695.8,131.6 L696.6,132.3 L697.3,133.0 L698.1,133.7 L698.8,134.4 L699.5,135.1 L700.2,135.8 L700.9,136.5 L701.5,137.2 L702.2,137.9 L702.8,138.6 L703.4,139.2 L704.0,139.9 L704.6,140.6 L705.1,141.3 L705.4,141.7 L705.7,142.1 L706.0,142.6 L706.4,143.0 L706.7,143.4 L707.0,143.8 L707.3,144.2 L707.6,144.5 L707.9,144.9 L708.1,145.3 L708.4,145.7 L708.7,146.0 L709.0,146.4 L709.2,146.7 L709.5,147.1 L709.8,147.4 L710.0,147.7 L710.2,148.1 L710.5,148.4 L710.7,148.7 L711.0,149.0 L711.2,149.3 L711.4,149.6 L711.6,149.9 L711.8,150.2 L712.0,150.5 L712.2,150.8 L712.4,151.0 L712.6,151.3 L712.8,151.6 L713.0,151.8 L713.2,152.1 L713.4,152.4 L713.6,152.6 L713.7,152.8 L713.9,153.1 L714.0,153.3 L714.2,153.6 L714.4,153.8 L714.5,154.0 L716.0,153.0 L717.5,152.0 L717.3,151.8 L717.2,151.5 L717.0,151.3 L716.9,151.1 L716.7,150.8 L716.5,150.6 L716.3,150.3 L716.2,150.0 L716.0,149.8 L715.8,149.5 L715.6,149.2 L715.4,149.0 L715.2,148.7 L715.0,148.4 L714.8,148.1 L714.6,147.8 L714.4,147.5 L714.2,147.2 L714.0,146.9 L713.8,146.5 L713.6,146.2 L713.3,145.9 L713.1,145.6 L712.9,145.2 L712.7,144.9 L712.4,144.5 L712.2,144.1 L712.0,143.8 L711.7,143.4 L711.5,143.0 L711.2,142.6 L711.0,142.2 L710.7,141.8 L710.5,141.4 L710.2,140.9 L710.0,140.5 L709.7,140.1 L709.5,139.6 L709.2,139.2 L708.9,138.7 L708.4,137.9 L707.8,137.1 L707.3,136.3 L706.7,135.4 L706.1,134.6 L705.5,133.8 L704.9,133.0 L704.3,132.2 L703.6,131.4 L703.0,130.6 L702.3,129.7 L701.6,128.9 L700.9,128.1 L700.2,127.3 L699.5,126.4 L698.7,125.6 L698.0,124.7 L697.2,123.9 L696.5,123.0 L695.7,122.2 L694.9,121.3 L694.1,120.4 L693.4,119.6 L692.6,118.7 L691.7,117.8 L690.9,116.9 L690.1,116.0 L689.3,115.1 L688.4,114.2 L687.6,113.2 L686.8,112.3 L685.9,111.4 L685.1,110.4 L684.2,109.5 L683.4,108.5 L682.5,107.5 L681.6,106.6 L680.8,105.6 L679.9,104.6 L679.1,103.6 Z" fill="#f8bc8e"/>
<path d="M685.4,96.0 L687.6,95.7 L689.9,95.4 L692.1,95.1 L694.4,94.8 L696.6,94.5 L698.8,94.3 L701.0,94.0 L703.3,93.7 L705.5,93.5 L707.7,93.2 L709.9,92.9 L712.1,92.7 L714.3,92.5 L716.5,92.2 L718.7,92.0 L720.9,91.8 L723.1,91.6 L725.3,91.3 L727.4,91.1 L729.6,90.9 L731.7,90.7 L733.8,90.6 L736.0,90.4 L738.1,90.2 L740.2,90.0 L742.3,89.9 L744.3,89.7 L746.4,89.6 L748.4,89.4 L750.5,89.3 L752.5,89.2 L754.5,89.1 L756.5,89.0 L758.5,88.9 L760.4,88.8 L762.4,88.7 L764.3,88.7 L766.2,88.6 L768.1,88.5 L769.9,88.5 L770.9,88.5 L772.0,88.6 L773.0,88.6 L774.0,88.7 L775.0,88.8 L776.0,88.9 L776.9,89.0 L777.8,89.1 L778.6,89.2 L779.5,89.3 L780.3,89.4 L781.1,89.5 L781.9,89.7 L782.6,89.8 L783.4,90.0 L784.1,90.1 L784.8,90.3 L785.5,90.5 L786.1,90.7 L786.8,90.8 L787.4,91.0 L788.0,91.2 L788.6,91.4 L789.1,91.6 L789.7,91.9 L790.2,92.1 L790.8,92.3 L791.3,92.5 L791.8,92.8 L792.3,93.0 L792.8,93.2 L793.3,93.5 L793.8,93.8 L794.2,94.0 L794.7,94.3 L795.1,94.5 L795.6,94.8 L796.0,95.1 L796.5,95.4 L796.9,95.7 L798.0,94.0 L799.1,92.3 L798.6,92.0 L798.2,91.7 L797.7,91.4 L797.2,91.1 L796.7,90.8 L796.2,90.5 L795.7,90.2 L795.2,90.0 L794.6,89.7 L794.1,89.4 L793.5,89.1 L793.0,88.9 L792.4,88.6 L791.8,88.3 L791.2,88.1 L790.6,87.8 L790.0,87.6 L789.3,87.4 L788.7,87.1 L788.0,86.9 L787.3,86.7 L786.6,86.5 L785.9,86.3 L785.1,86.1 L784.4,85.9 L783.6,85.7 L782.8,85.5 L781.9,85.3 L781.1,85.1 L780.2,84.9 L779.3,84.8 L778.4,84.6 L777.5,84.4 L776.5,84.3 L775.5,84.1 L774.5,84.0 L773.5,83.9 L772.4,83.7 L771.3,83.6 L770.1,83.5 L768.1,83.5 L766.2,83.4 L764.3,83.4 L762.3,83.4 L760.4,83.4 L758.4,83.4 L756.4,83.4 L754.4,83.4 L752.3,83.4 L750.3,83.4 L748.2,83.4 L746.2,83.4 L744.1,83.4 L742.0,83.4 L739.9,83.4 L737.8,83.5 L735.6,83.5 L733.5,83.5 L731.3,83.5 L729.2,83.6 L727.0,83.6 L724.8,83.6 L722.6,83.7 L720.4,83.7 L718.2,83.7 L716.0,83.7 L713.8,83.8 L711.6,83.8 L709.4,83.8 L707.1,83.9 L704.9,83.9 L702.6,83.9 L700.4,83.9 L698.1,84.0 L695.9,84.0 L693.6,84.0 L691.4,84.0 L689.1,84.0 L686.9,84.0 L684.6,84.0 Z" fill="#f8bc8e"/>
<path d="M803.1,80.9 L802.2,80.5 L801.4,80.2 L800.6,79.9 L799.8,79.6 L799.0,79.3 L798.2,79.0 L797.5,78.7 L796.7,78.4 L796.0,78.1 L795.3,77.8 L794.5,77.6 L793.8,77.3 L793.2,77.0 L792.5,76.7 L791.8,76.4 L791.2,76.2 L790.5,75.9 L789.9,75.6 L789.3,75.3 L788.7,75.0 L788.2,74.7 L787.6,74.5 L787.0,74.2 L786.5,73.9 L786.0,73.6 L785.5,73.3 L785.0,73.0 L784.5,72.7 L784.0,72.4 L783.6,72.1 L783.2,71.8 L782.8,71.4 L782.3,71.1 L782.0,70.8 L781.6,70.5 L781.2,70.1 L780.9,69.8 L780.6,69.4 L780.2,69.1 L780.0,68.8 L779.8,68.4 L779.5,67.9 L779.2,67.3 L778.9,66.8 L778.6,66.2 L778.4,65.7 L778.1,65.1 L777.9,64.6 L777.6,64.0 L777.4,63.5 L777.2,63.0 L777.0,62.5 L776.8,61.9 L776.6,61.4 L776.5,60.9 L776.3,60.4 L776.1,59.9 L776.0,59.4 L775.8,58.9 L775.7,58.4 L775.5,57.9 L775.4,57.4 L775.3,57.0 L775.2,56.5 L775.1,56.0 L775.0,55.6 L774.9,55.1 L774.8,54.6 L774.7,54.2 L774.6,53.8 L774.5,53.3 L774.4,52.9 L774.3,52.5 L774.2,52.0 L774.1,51.6 L774.1,51.2 L774.0,50.8 L773.9,50.4 L773.8,50.0 L773.8,49.7 L772.0,50.0 L770.2,50.3 L770.3,50.7 L770.4,51.1 L770.5,51.5 L770.5,51.9 L770.6,52.3 L770.7,52.7 L770.8,53.1 L770.9,53.6 L770.9,54.0 L771.0,54.5 L771.1,54.9 L771.2,55.4 L771.3,55.9 L771.4,56.3 L771.5,56.8 L771.6,57.3 L771.7,57.8 L771.8,58.3 L771.9,58.8 L772.1,59.3 L772.2,59.9 L772.3,60.4 L772.5,60.9 L772.6,61.5 L772.8,62.0 L772.9,62.6 L773.1,63.2 L773.3,63.7 L773.4,64.3 L773.6,64.9 L773.8,65.5 L774.0,66.1 L774.2,66.7 L774.4,67.3 L774.7,67.9 L774.9,68.5 L775.1,69.1 L775.4,69.8 L775.6,70.4 L776.0,71.2 L776.4,71.8 L776.7,72.3 L777.1,72.9 L777.4,73.4 L777.8,73.9 L778.2,74.4 L778.6,74.8 L779.0,75.3 L779.4,75.8 L779.8,76.3 L780.3,76.8 L780.7,77.2 L781.2,77.7 L781.7,78.2 L782.2,78.6 L782.7,79.1 L783.2,79.6 L783.7,80.0 L784.2,80.5 L784.8,81.0 L785.3,81.4 L785.9,81.9 L786.4,82.4 L787.0,82.9 L787.6,83.3 L788.2,83.8 L788.7,84.3 L789.3,84.8 L789.9,85.3 L790.6,85.8 L791.2,86.3 L791.8,86.8 L792.4,87.3 L793.0,87.8 L793.7,88.4 L794.3,88.9 L795.0,89.5 L795.6,90.0 L796.3,90.6 L796.9,91.1 Z" fill="#f8bc8e"/>
<path d="M795.8,113.7 L795.2,114.6 L794.6,115.4 L793.9,116.2 L793.3,116.9 L792.7,117.7 L792.1,118.4 L791.5,119.2 L790.8,119.9 L790.2,120.6 L789.6,121.3 L788.9,122.0 L788.3,122.6 L787.7,123.3 L787.0,123.9 L786.4,124.6 L785.7,125.2 L785.1,125.8 L784.4,126.4 L783.8,127.0 L783.1,127.6 L782.5,128.2 L781.8,128.8 L781.2,129.3 L780.5,129.9 L779.9,130.5 L779.3,131.0 L778.6,131.5 L778.0,132.1 L777.3,132.6 L776.7,133.1 L776.1,133.6 L775.5,134.2 L774.8,134.7 L774.2,135.2 L773.6,135.7 L773.0,136.2 L772.4,136.7 L771.8,137.2 L771.2,137.6 L770.7,138.0 L770.2,138.4 L769.6,138.8 L768.9,139.2 L768.3,139.6 L767.7,140.0 L767.1,140.4 L766.5,140.7 L765.9,141.1 L765.3,141.5 L764.8,141.9 L764.2,142.2 L763.7,142.6 L763.1,142.9 L762.6,143.3 L762.1,143.6 L761.6,144.0 L761.1,144.3 L760.6,144.7 L760.1,145.0 L759.7,145.4 L759.2,145.7 L758.8,146.0 L758.3,146.4 L757.9,146.7 L757.5,147.0 L757.1,147.3 L756.7,147.7 L756.3,148.0 L756.0,148.3 L755.6,148.6 L755.2,149.0 L754.9,149.3 L754.6,149.6 L754.3,149.9 L753.9,150.3 L753.7,150.6 L753.4,150.9 L753.1,151.3 L752.8,151.6 L752.6,151.9 L754.0,153.0 L755.4,154.1 L755.6,153.8 L755.9,153.5 L756.1,153.3 L756.3,153.0 L756.6,152.7 L756.8,152.5 L757.1,152.2 L757.4,151.9 L757.7,151.6 L758.0,151.3 L758.3,151.0 L758.7,150.8 L759.0,150.5 L759.4,150.2 L759.8,149.9 L760.2,149.6 L760.6,149.3 L761.0,149.0 L761.4,148.7 L761.8,148.4 L762.3,148.1 L762.7,147.8 L763.2,147.5 L763.7,147.2 L764.2,146.9 L764.7,146.6 L765.2,146.3 L765.8,145.9 L766.3,145.6 L766.9,145.3 L767.4,145.0 L768.0,144.7 L768.6,144.3 L769.2,144.0 L769.8,143.7 L770.5,143.4 L771.1,143.0 L771.8,142.7 L772.4,142.4 L773.3,142.0 L774.0,141.5 L774.6,141.0 L775.3,140.6 L775.9,140.2 L776.6,139.8 L777.2,139.4 L777.9,139.0 L778.6,138.6 L779.3,138.2 L780.0,137.7 L780.7,137.3 L781.4,136.9 L782.1,136.5 L782.8,136.1 L783.6,135.6 L784.3,135.2 L785.1,134.7 L785.8,134.3 L786.6,133.8 L787.4,133.4 L788.2,132.9 L788.9,132.4 L789.7,132.0 L790.5,131.5 L791.3,131.0 L792.2,130.5 L793.0,130.0 L793.8,129.4 L794.6,128.9 L795.5,128.4 L796.3,127.8 L797.2,127.2 L798.1,126.7 L798.9,126.1 L799.8,125.5 L800.7,124.8 L801.6,124.2 L802.4,123.6 L803.3,122.9 L804.2,122.3 Z" fill="#f8bc8e"/>
<ellipse cx="324" cy="99" rx="44" ry="21" transform="rotate(-3 324 99)" fill="#f8bc8e"/>
<ellipse cx="494" cy="97" rx="38" ry="18" transform="rotate(-5 494 97)" fill="#f8bc8e"/>
<ellipse cx="663" cy="92" rx="26" ry="23" transform="rotate(0 663 92)" fill="#f8bc8e"/>
<ellipse cx="818" cy="102" rx="30" ry="23" transform="rotate(0 818 102)" fill="#f8bc8e"/>
<ellipse cx="305" cy="97" rx="14" ry="10" fill="#f9d4c4" filter="url(#blur6)" opacity="0.9"/>
<ellipse cx="345" cy="107" rx="16" ry="9" fill="#fcc87a" filter="url(#blur6)" opacity="0.9"/>
<ellipse cx="475" cy="96" rx="12" ry="8" fill="#f9d4c4" filter="url(#blur6)" opacity="0.9"/>
<ellipse cx="510" cy="102" rx="14" ry="8" fill="#fcc87a" filter="url(#blur6)" opacity="0.9"/>
<ellipse cx="655" cy="88" rx="9" ry="9" fill="#f9d4c4" filter="url(#blur6)" opacity="0.9"/>
<ellipse cx="672" cy="100" rx="10" ry="8" fill="#fcc87a" filter="url(#blur6)" opacity="0.9"/>
<ellipse cx="805" cy="98" rx="10" ry="10" fill="#f9d4c4" filter="url(#blur6)" opacity="0.9"/>
<ellipse cx="328.6" cy="97.8" rx="10.5" ry="7.5" fill="url(#nucG)" stroke="#6a5aa8" stroke-width="1.2"/>
<ellipse cx="488" cy="96" rx="10" ry="8" fill="url(#nucG)" stroke="#6a5aa8" stroke-width="1.2"/>
<ellipse cx="663" cy="90" rx="10" ry="8.5" fill="url(#nucG)" stroke="#6a5aa8" stroke-width="1.2"/>
<ellipse cx="817" cy="100" rx="10" ry="9" fill="url(#nucG)" stroke="#6a5aa8" stroke-width="1.2"/>
<rect x="177.8" y="28.5" width="86.4" height="22.5" rx="5" fill="url(#liningR)" stroke="#a4967e" stroke-width="1.6"/>
<ellipse cx="217" cy="39.3" rx="10" ry="4.6" fill="url(#nucL)" stroke="#7a6ab4" stroke-width="1.1"/>
<rect x="265.8" y="28.5" width="93.4" height="22.5" rx="5" fill="url(#liningR)" stroke="#a4967e" stroke-width="1.6"/>
<ellipse cx="313" cy="39.3" rx="10" ry="4.6" fill="url(#nucL)" stroke="#7a6ab4" stroke-width="1.1"/>
<rect x="360.8" y="28.5" width="94.4" height="22.5" rx="5" fill="url(#liningR)" stroke="#a4967e" stroke-width="1.6"/>
<ellipse cx="407" cy="39.3" rx="10" ry="4.6" fill="url(#nucL)" stroke="#7a6ab4" stroke-width="1.1"/>
<rect x="456.8" y="28.5" width="93.4" height="22.5" rx="5" fill="url(#liningR)" stroke="#a4967e" stroke-width="1.6"/>
<ellipse cx="502" cy="39.3" rx="10" ry="4.6" fill="url(#nucL)" stroke="#7a6ab4" stroke-width="1.1"/>
<rect x="551.8" y="28.5" width="93.4" height="22.5" rx="5" fill="url(#liningR)" stroke="#a4967e" stroke-width="1.6"/>
<ellipse cx="597" cy="39.3" rx="10" ry="4.6" fill="url(#nucL)" stroke="#7a6ab4" stroke-width="1.1"/>
<rect x="646.8" y="28.5" width="93.4" height="22.5" rx="5" fill="url(#liningR)" stroke="#a4967e" stroke-width="1.6"/>
<ellipse cx="692" cy="39.3" rx="10" ry="4.6" fill="url(#nucL)" stroke="#7a6ab4" stroke-width="1.1"/>
<rect x="741.8" y="28.5" width="93.4" height="22.5" rx="5" fill="url(#liningR)" stroke="#a4967e" stroke-width="1.6"/>
<ellipse cx="787" cy="39.3" rx="10" ry="4.6" fill="url(#nucL)" stroke="#7a6ab4" stroke-width="1.1"/>
<rect x="177" y="199" width="651" height="340" fill="url(#marrowG)"/>
<ellipse cx="260" cy="420" rx="80" ry="20" fill="#f8d0c4" filter="url(#blur12)"/>
<ellipse cx="700" cy="330" rx="90" ry="18" fill="#f8ccc0" filter="url(#blur12)"/>
<ellipse cx="720" cy="420" rx="80" ry="16" fill="#f0a89c" filter="url(#blur12)"/>
<ellipse cx="420" cy="470" rx="90" ry="14" fill="#f2aea2" filter="url(#blur12)"/>
<ellipse cx="650" cy="250" rx="80" ry="14" fill="#f0aa9e" filter="url(#blur12)"/>
<ellipse cx="230" cy="330" rx="40" ry="60" fill="#f8d2c6" filter="url(#blur12)"/>
<rect x="177" y="150" width="651" height="26" fill="#f2e4c6"/>
<rect x="177" y="176" width="651" height="26" fill="#f2c6b8"/>
<path d="M144.39999999999998,160 Q144.39999999999998,154 150.39999999999998,154 L183.2,154 Q189.2,154 189.2,160 L189.2,180 C189.2,196 181.2,201 166.79999999999998,201 C152.39999999999998,201 144.39999999999998,196 144.39999999999998,180 Z" fill="url(#obG)" stroke="#6e5e98" stroke-width="1.9"/>
<circle cx="167.79999999999998" cy="175.5" r="9" fill="url(#nucO)" stroke="#6c5ca4" stroke-width="1.2"/>
<path d="M191.2,160 Q191.2,154 197.2,154 L230.0,154 Q236.0,154 236.0,160 L236.0,180 C236.0,196 228.0,201 213.6,201 C199.2,201 191.2,196 191.2,180 Z" fill="url(#obG)" stroke="#6e5e98" stroke-width="1.9"/>
<circle cx="214.6" cy="175.5" r="9" fill="url(#nucO)" stroke="#6c5ca4" stroke-width="1.2"/>
<path d="M238.0,160 Q238.0,154 244.0,154 L276.8,154 Q282.8,154 282.8,160 L282.8,180 C282.8,196 274.8,201 260.4,201 C246.0,201 238.0,196 238.0,180 Z" fill="url(#obG)" stroke="#6e5e98" stroke-width="1.9"/>
<circle cx="261.4" cy="175.5" r="9" fill="url(#nucO)" stroke="#6c5ca4" stroke-width="1.2"/>
<path d="M284.8,160 Q284.8,154 290.8,154 L323.6,154 Q329.6,154 329.6,160 L329.6,180 C329.6,196 321.6,201 307.2,201 C292.8,201 284.8,196 284.8,180 Z" fill="url(#obG)" stroke="#6e5e98" stroke-width="1.9"/>
<circle cx="308.2" cy="175.5" r="9" fill="url(#nucO)" stroke="#6c5ca4" stroke-width="1.2"/>
<path d="M331.6,160 Q331.6,154 337.6,154 L370.40000000000003,154 Q376.40000000000003,154 376.40000000000003,160 L376.40000000000003,180 C376.40000000000003,196 368.40000000000003,201 354.0,201 C339.6,201 331.6,196 331.6,180 Z" fill="url(#obG)" stroke="#6e5e98" stroke-width="1.9"/>
<circle cx="355.0" cy="175.5" r="9" fill="url(#nucO)" stroke="#6c5ca4" stroke-width="1.2"/>
<path d="M378.40000000000003,160 Q378.40000000000003,154 384.40000000000003,154 L417.20000000000005,154 Q423.20000000000005,154 423.20000000000005,160 L423.20000000000005,180 C423.20000000000005,196 415.20000000000005,201 400.8,201 C386.40000000000003,201 378.40000000000003,196 378.40000000000003,180 Z" fill="url(#obG)" stroke="#6e5e98" stroke-width="1.9"/>
<circle cx="401.8" cy="175.5" r="9" fill="url(#nucO)" stroke="#6c5ca4" stroke-width="1.2"/>
<path d="M425.20000000000005,160 Q425.20000000000005,154 431.20000000000005,154 L464.00000000000006,154 Q470.00000000000006,154 470.00000000000006,160 L470.00000000000006,180 C470.00000000000006,196 462.00000000000006,201 447.6,201 C433.20000000000005,201 425.20000000000005,196 425.20000000000005,180 Z" fill="url(#obG)" stroke="#6e5e98" stroke-width="1.9"/>
<circle cx="448.6" cy="175.5" r="9" fill="url(#nucO)" stroke="#6c5ca4" stroke-width="1.2"/>
<path d="M472.00000000000006,160 Q472.00000000000006,154 478.00000000000006,154 L510.80000000000007,154 Q516.8000000000001,154 516.8000000000001,160 L516.8000000000001,180 C516.8000000000001,196 508.80000000000007,201 494.40000000000003,201 C480.00000000000006,201 472.00000000000006,196 472.00000000000006,180 Z" fill="url(#obG)" stroke="#6e5e98" stroke-width="1.9"/>
<circle cx="495.40000000000003" cy="175.5" r="9" fill="url(#nucO)" stroke="#6c5ca4" stroke-width="1.2"/>
<path d="M518.8000000000001,160 Q518.8000000000001,154 524.8000000000001,154 L557.6,154 Q563.6,154 563.6,160 L563.6,180 C563.6,196 555.6,201 541.2,201 C526.8000000000001,201 518.8000000000001,196 518.8000000000001,180 Z" fill="url(#obG)" stroke="#6e5e98" stroke-width="1.9"/>
<circle cx="542.2" cy="175.5" r="9" fill="url(#nucO)" stroke="#6c5ca4" stroke-width="1.2"/>
<path d="M565.6,160 Q565.6,154 571.6,154 L604.4,154 Q610.4,154 610.4,160 L610.4,180 C610.4,196 602.4,201 588.0,201 C573.6,201 565.6,196 565.6,180 Z" fill="url(#obG)" stroke="#6e5e98" stroke-width="1.9"/>
<circle cx="589.0" cy="175.5" r="9" fill="url(#nucO)" stroke="#6c5ca4" stroke-width="1.2"/>
<path d="M612.4,160 Q612.4,154 618.4,154 L651.1999999999999,154 Q657.1999999999999,154 657.1999999999999,160 L657.1999999999999,180 C657.1999999999999,196 649.1999999999999,201 634.8,201 C620.4,201 612.4,196 612.4,180 Z" fill="url(#obG)" stroke="#6e5e98" stroke-width="1.9"/>
<circle cx="635.8" cy="175.5" r="9" fill="url(#nucO)" stroke="#6c5ca4" stroke-width="1.2"/>
<path d="M659.1999999999999,160 Q659.1999999999999,154 665.1999999999999,154 L697.9999999999999,154 Q703.9999999999999,154 703.9999999999999,160 L703.9999999999999,180 C703.9999999999999,196 695.9999999999999,201 681.5999999999999,201 C667.1999999999999,201 659.1999999999999,196 659.1999999999999,180 Z" fill="url(#obG)" stroke="#6e5e98" stroke-width="1.9"/>
<circle cx="682.5999999999999" cy="175.5" r="9" fill="url(#nucO)" stroke="#6c5ca4" stroke-width="1.2"/>
<path d="M705.9999999999999,160 Q705.9999999999999,154 711.9999999999999,154 L744.7999999999998,154 Q750.7999999999998,154 750.7999999999998,160 L750.7999999999998,180 C750.7999999999998,196 742.7999999999998,201 728.3999999999999,201 C713.9999999999999,201 705.9999999999999,196 705.9999999999999,180 Z" fill="url(#obG)" stroke="#6e5e98" stroke-width="1.9"/>
<circle cx="729.3999999999999" cy="175.5" r="9" fill="url(#nucO)" stroke="#6c5ca4" stroke-width="1.2"/>
<path d="M752.7999999999998,160 Q752.7999999999998,154 758.7999999999998,154 L791.5999999999998,154 Q797.5999999999998,154 797.5999999999998,160 L797.5999999999998,180 C797.5999999999998,196 789.5999999999998,201 775.1999999999998,201 C760.7999999999998,201 752.7999999999998,196 752.7999999999998,180 Z" fill="url(#obG)" stroke="#6e5e98" stroke-width="1.9"/>
<circle cx="776.1999999999998" cy="175.5" r="9" fill="url(#nucO)" stroke="#6c5ca4" stroke-width="1.2"/>
<path d="M799.5999999999998,160 Q799.5999999999998,154 805.5999999999998,154 L838.3999999999997,154 Q844.3999999999997,154 844.3999999999997,160 L844.3999999999997,180 C844.3999999999997,196 836.3999999999997,201 821.9999999999998,201 C807.5999999999998,201 799.5999999999998,196 799.5999999999998,180 Z" fill="url(#obG)" stroke="#6e5e98" stroke-width="1.9"/>
<circle cx="822.9999999999998" cy="175.5" r="9" fill="url(#nucO)" stroke="#6c5ca4" stroke-width="1.2"/>
</g><g clip-path="url(#topClip)">
<path d="M170,203 L330,202.5 C400,203 460,215 502,242 C530,260 556,285 585,330 L455,350 C440,325 420,303 390,289 C365,277 340,269 170,268.5 Z" fill="#e4686a"/>
<clipPath id="bandClip"><path d="M170,203 L330,202.5 C400,203 460,215 502,242 C530,260 556,285 585,330 L455,350 C440,325 420,303 390,289 C365,277 340,269 170,268.5 Z"/></clipPath>
<g clip-path="url(#bandClip)">
<path d="M150,226 L330,226 C410,227 472,246 518,290" fill="none" stroke="#f0a092" stroke-width="36" filter="url(#blur6)" opacity="0.72"/>
<path d="M150,204 L330,203.5 C400,204 460,216 502,243 C530,261 556,286 585,331" fill="none" stroke="#f4aa9c" stroke-width="6" filter="url(#blur6)" opacity="0.8"/>
<path d="M150,266 L330,266" fill="none" stroke="#da5658" stroke-width="10" filter="url(#blur6)" opacity="0.7"/>
</g>
<path d="M177.7,209.7 L179.0,209.3 L180.4,209.0 L181.8,208.7 L183.2,208.5 L184.6,208.3 L186.1,208.2 L187.7,208.1 L189.2,208.0 L190.8,208.0 L192.4,208.0 L194.0,208.0 L195.7,208.1 L197.4,208.2 L199.0,208.4 L200.7,208.6 L202.4,208.9 L204.1,209.2 L205.9,209.5 L207.6,209.9 L209.3,210.3 L211.0,210.7 L212.7,211.2 L214.5,211.8 L216.2,212.4 L217.0,210.0 L217.8,207.6 L216.0,207.0 L214.2,206.4 L212.4,205.9 L210.6,205.4 L208.7,204.9 L206.9,204.5 L205.1,204.1 L203.3,203.8 L201.5,203.5 L199.6,203.2 L197.9,203.0 L196.1,202.9 L194.3,202.8 L192.5,202.7 L190.8,202.7 L189.1,202.7 L187.4,202.7 L185.7,202.8 L184.1,203.0 L182.4,203.1 L180.9,203.4 L179.3,203.7 L177.8,204.0 L176.3,204.3 Z" fill="none" stroke="#d59a6c" stroke-width="2.6" stroke-linejoin="round"/>
<path d="M196.4,206.1 L195.8,207.8 L195.3,209.5 L194.9,211.2 L194.5,212.9 L194.2,214.6 L194.0,216.2 L193.8,217.9 L193.6,219.5 L193.5,221.1 L193.4,222.6 L193.3,224.2 L193.3,225.7 L193.2,227.2 L193.1,228.7 L193.0,230.2 L192.8,231.7 L192.6,233.1 L192.4,234.5 L192.1,235.9 L191.8,237.3 L191.4,238.7 L190.9,240.1 L190.4,241.5 L189.7,243.0 L189.4,243.7 L189.2,244.3 L189.0,244.9 L188.8,245.5 L188.6,246.0 L188.4,246.5 L188.2,247.1 L188.1,247.6 L187.9,248.1 L187.7,248.5 L187.6,249.0 L187.5,249.4 L187.4,249.9 L187.3,250.3 L187.2,250.7 L187.1,251.1 L187.0,251.5 L186.9,251.9 L186.9,252.2 L186.8,252.6 L186.8,253.0 L186.8,253.3 L186.7,253.7 L186.8,254.0 L189.0,254.0 L191.2,254.0 L191.3,253.8 L191.3,253.7 L191.3,253.5 L191.4,253.2 L191.4,253.0 L191.5,252.7 L191.5,252.5 L191.6,252.2 L191.7,251.9 L191.8,251.5 L191.9,251.2 L192.0,250.8 L192.2,250.4 L192.3,250.0 L192.4,249.6 L192.6,249.2 L192.8,248.7 L193.0,248.2 L193.2,247.7 L193.4,247.2 L193.6,246.7 L193.8,246.1 L194.1,245.5 L194.3,245.0 L195.0,243.5 L195.7,241.9 L196.2,240.3 L196.7,238.6 L197.1,237.0 L197.4,235.4 L197.7,233.9 L197.9,232.3 L198.1,230.7 L198.3,229.1 L198.4,227.6 L198.5,226.0 L198.6,224.5 L198.7,223.0 L198.8,221.5 L199.0,219.9 L199.1,218.4 L199.3,216.9 L199.5,215.4 L199.8,214.0 L200.2,212.5 L200.6,211.0 L201.0,209.5 L201.6,207.9 Z" fill="none" stroke="#d59a6c" stroke-width="2.6" stroke-linejoin="round"/>
<path d="M211.3,211.3 L211.5,213.0 L211.6,214.7 L211.7,216.3 L211.7,218.0 L211.7,219.7 L211.6,221.5 L211.5,223.2 L211.3,224.9 L211.1,226.7 L210.9,228.4 L210.7,230.2 L210.5,231.9 L210.3,233.7 L210.1,235.4 L209.9,237.2 L209.8,238.9 L209.7,240.7 L209.6,242.4 L209.6,244.1 L209.6,245.9 L209.7,247.6 L209.9,249.3 L210.2,250.9 L210.5,252.4 L210.5,252.6 L210.5,253.1 L210.5,253.7 L210.5,254.2 L210.4,254.7 L210.4,255.2 L210.4,255.6 L210.3,256.1 L210.3,256.5 L210.3,257.0 L210.2,257.4 L210.2,257.8 L210.1,258.2 L210.1,258.5 L210.0,258.9 L210.0,259.3 L209.9,259.6 L209.9,260.0 L209.8,260.3 L209.8,260.6 L209.8,261.0 L209.8,261.3 L209.7,261.7 L209.8,262.0 L212.0,262.0 L214.2,262.0 L214.3,261.8 L214.3,261.6 L214.3,261.4 L214.4,261.2 L214.4,260.9 L214.4,260.6 L214.5,260.3 L214.6,260.0 L214.6,259.6 L214.7,259.3 L214.8,258.9 L214.8,258.5 L214.9,258.1 L215.0,257.6 L215.1,257.1 L215.1,256.7 L215.2,256.1 L215.3,255.6 L215.3,255.1 L215.4,254.5 L215.4,253.9 L215.5,253.3 L215.5,252.7 L215.5,251.6 L215.1,250.0 L214.9,248.6 L214.8,247.2 L214.7,245.7 L214.7,244.1 L214.7,242.6 L214.8,241.0 L214.9,239.4 L215.1,237.7 L215.3,236.0 L215.5,234.3 L215.7,232.6 L216.0,230.8 L216.2,229.0 L216.4,227.3 L216.6,225.5 L216.8,223.6 L216.9,221.8 L217.1,220.0 L217.1,218.1 L217.1,216.2 L217.1,214.4 L216.9,212.5 L216.7,210.7 Z" fill="none" stroke="#d59a6c" stroke-width="2.6" stroke-linejoin="round"/>
<path d="M212.4,228.2 L212.9,228.3 L213.3,228.4 L213.6,228.5 L214.0,228.7 L214.4,228.8 L214.8,229.0 L215.2,229.2 L215.5,229.5 L215.9,229.7 L216.3,229.9 L216.6,230.2 L217.0,230.5 L217.4,230.8 L217.7,231.1 L218.1,231.5 L218.5,231.8 L218.8,232.2 L219.2,232.6 L219.6,233.0 L219.9,233.4 L220.3,233.8 L220.7,234.3 L221.0,234.7 L221.4,235.2 L223.0,234.0 L224.6,232.8 L224.2,232.3 L223.8,231.8 L223.5,231.3 L223.1,230.8 L222.7,230.3 L222.3,229.8 L221.9,229.4 L221.5,228.9 L221.0,228.5 L220.6,228.1 L220.2,227.7 L219.7,227.3 L219.3,226.9 L218.8,226.5 L218.4,226.1 L217.9,225.8 L217.4,225.5 L216.9,225.2 L216.4,224.9 L215.8,224.6 L215.3,224.4 L214.7,224.2 L214.1,224.0 L213.6,223.8 Z" fill="none" stroke="#d59a6c" stroke-width="2.6" stroke-linejoin="round"/>
<path d="M261.0,206.5 L261.4,207.0 L261.8,207.6 L262.3,208.1 L262.7,208.6 L263.1,209.1 L263.6,209.5 L264.0,210.0 L264.4,210.5 L264.9,210.9 L265.3,211.4 L265.7,211.8 L266.1,212.2 L266.6,212.7 L267.0,213.1 L267.4,213.5 L267.7,213.9 L268.1,214.4 L268.5,214.8 L268.8,215.2 L269.2,215.6 L269.5,216.0 L269.8,216.5 L270.1,216.9 L270.4,217.4 L272.5,216.0 L274.6,214.6 L274.3,214.1 L273.9,213.6 L273.5,213.0 L273.1,212.5 L272.7,212.0 L272.3,211.5 L271.9,211.1 L271.4,210.6 L271.0,210.1 L270.6,209.7 L270.2,209.2 L269.7,208.8 L269.3,208.3 L268.9,207.9 L268.5,207.5 L268.1,207.0 L267.6,206.6 L267.2,206.1 L266.8,205.7 L266.5,205.3 L266.1,204.8 L265.7,204.4 L265.3,204.0 L265.0,203.5 Z" fill="none" stroke="#d59a6c" stroke-width="2.6" stroke-linejoin="round"/>
<path d="M275.6,203.5 L275.4,204.1 L275.3,204.6 L275.2,205.2 L275.0,205.7 L274.9,206.3 L274.7,206.8 L274.5,207.3 L274.3,207.8 L274.2,208.3 L274.0,208.8 L273.8,209.2 L273.5,209.7 L273.3,210.1 L273.1,210.6 L272.9,211.0 L272.6,211.4 L272.4,211.8 L272.2,212.2 L271.9,212.6 L271.7,213.0 L271.4,213.4 L271.1,213.7 L270.9,214.1 L270.6,214.4 L272.5,216.0 L274.4,217.6 L274.8,217.2 L275.1,216.7 L275.4,216.3 L275.8,215.8 L276.1,215.4 L276.4,214.9 L276.7,214.4 L277.0,213.9 L277.3,213.4 L277.5,212.9 L277.8,212.4 L278.1,211.8 L278.3,211.3 L278.6,210.7 L278.8,210.1 L279.0,209.5 L279.2,208.9 L279.4,208.3 L279.6,207.7 L279.8,207.1 L280.0,206.5 L280.2,205.8 L280.3,205.2 L280.4,204.5 Z" fill="none" stroke="#d59a6c" stroke-width="2.6" stroke-linejoin="round"/>
<path d="M269.5,215.6 L269.3,217.4 L269.1,219.2 L269.0,221.0 L269.0,222.8 L269.2,224.6 L269.4,226.3 L269.6,227.9 L270.0,229.5 L270.4,231.1 L270.9,232.7 L271.4,234.2 L271.9,235.6 L272.5,237.1 L273.1,238.5 L273.8,239.9 L274.4,241.2 L275.0,242.5 L275.7,243.8 L276.3,245.1 L276.9,246.4 L277.5,247.6 L278.1,248.8 L278.6,250.0 L279.1,251.3 L279.8,252.5 L280.4,253.7 L281.1,254.7 L281.9,255.8 L282.7,256.9 L283.5,257.9 L284.5,258.9 L285.5,259.9 L286.5,260.9 L287.6,261.9 L288.8,262.8 L290.0,263.8 L291.2,264.7 L292.5,265.5 L293.9,266.4 L295.4,267.2 L296.9,268.0 L298.4,268.8 L300.0,269.6 L301.7,270.4 L303.4,271.1 L305.2,271.8 L307.0,272.5 L308.8,273.1 L310.6,273.8 L312.4,274.6 L314.2,275.3 L315.9,276.0 L317.5,276.6 L319.1,277.3 L320.7,277.9 L322.3,278.6 L323.8,279.2 L325.2,279.8 L326.7,280.3 L328.1,280.9 L329.5,281.5 L330.9,282.0 L332.2,282.6 L333.5,283.1 L334.8,283.7 L336.1,284.2 L337.4,284.7 L338.7,285.2 L339.9,285.7 L341.2,286.2 L342.5,286.7 L343.7,287.2 L345.0,284.0 L346.3,280.8 L345.0,280.3 L343.8,279.8 L342.5,279.3 L341.3,278.8 L340.0,278.3 L338.7,277.8 L337.4,277.2 L336.1,276.7 L334.8,276.2 L333.4,275.7 L332.0,275.1 L330.6,274.6 L329.2,274.0 L327.8,273.4 L326.3,272.9 L324.8,272.3 L323.2,271.6 L321.6,271.0 L320.0,270.4 L318.4,269.7 L316.6,269.0 L314.9,268.4 L313.1,267.6 L311.2,266.9 L309.3,266.2 L307.6,265.6 L305.9,265.0 L304.3,264.3 L302.8,263.6 L301.3,262.9 L299.9,262.2 L298.6,261.5 L297.3,260.8 L296.1,260.0 L294.9,259.3 L293.8,258.5 L292.7,257.7 L291.8,256.9 L290.8,256.1 L289.9,255.3 L289.1,254.5 L288.4,253.7 L287.6,252.8 L287.0,252.0 L286.4,251.2 L285.8,250.3 L285.3,249.4 L284.9,248.7 L284.4,247.5 L283.8,246.2 L283.2,244.9 L282.6,243.6 L281.9,242.3 L281.3,241.0 L280.6,239.8 L280.0,238.5 L279.4,237.2 L278.8,235.9 L278.2,234.7 L277.7,233.4 L277.2,232.1 L276.7,230.8 L276.3,229.4 L275.9,228.1 L275.6,226.7 L275.4,225.4 L275.2,224.0 L275.1,222.5 L275.0,221.1 L275.1,219.6 L275.2,218.1 L275.5,216.4 Z" fill="none" stroke="#d59a6c" stroke-width="2.6" stroke-linejoin="round"/>
<path d="M295.2,205.8 L295.8,206.4 L296.4,207.0 L297.0,207.5 L297.5,208.1 L298.0,208.7 L298.5,209.2 L299.0,209.8 L299.4,210.3 L299.9,210.9 L300.3,211.4 L300.7,211.9 L301.0,212.4 L301.4,213.0 L301.7,213.5 L302.1,214.0 L302.4,214.5 L302.7,215.0 L303.0,215.6 L303.2,216.1 L303.5,216.6 L303.7,217.1 L303.9,217.7 L304.1,218.2 L304.3,218.8 L306.7,218.0 L309.1,217.2 L308.8,216.5 L308.6,215.8 L308.3,215.2 L308.0,214.5 L307.7,213.9 L307.4,213.3 L307.1,212.6 L306.7,212.0 L306.3,211.4 L305.9,210.8 L305.5,210.2 L305.1,209.6 L304.7,209.0 L304.2,208.4 L303.8,207.8 L303.3,207.2 L302.8,206.6 L302.3,205.9 L301.7,205.3 L301.2,204.7 L300.6,204.1 L300.0,203.5 L299.4,202.9 L298.8,202.2 Z" fill="none" stroke="#d59a6c" stroke-width="2.6" stroke-linejoin="round"/>
<path d="M317.2,203.2 L316.6,203.8 L316.0,204.4 L315.4,205.0 L314.8,205.6 L314.2,206.2 L313.6,206.8 L313.0,207.3 L312.4,207.9 L311.8,208.4 L311.2,209.0 L310.6,209.5 L310.1,210.1 L309.5,210.6 L309.0,211.2 L308.5,211.7 L308.0,212.3 L307.5,212.8 L307.0,213.4 L306.5,213.9 L306.1,214.5 L305.7,215.0 L305.3,215.6 L304.9,216.2 L304.6,216.7 L306.7,218.0 L308.8,219.3 L309.1,218.8 L309.4,218.4 L309.7,218.0 L310.0,217.5 L310.4,217.1 L310.8,216.6 L311.2,216.1 L311.6,215.7 L312.1,215.2 L312.6,214.7 L313.1,214.2 L313.6,213.7 L314.1,213.1 L314.7,212.6 L315.2,212.1 L315.8,211.5 L316.4,211.0 L317.0,210.4 L317.6,209.8 L318.2,209.2 L318.9,208.6 L319.5,208.0 L320.1,207.4 L320.8,206.8 Z" fill="none" stroke="#d59a6c" stroke-width="2.6" stroke-linejoin="round"/>
<path d="M304.0,217.4 L303.6,219.2 L303.2,221.0 L303.0,222.8 L302.8,224.7 L302.6,226.4 L302.6,228.2 L302.5,230.0 L302.6,231.7 L302.6,233.4 L302.7,235.0 L302.8,236.6 L303.0,238.2 L303.1,239.8 L303.3,241.3 L303.4,242.8 L303.5,244.3 L303.6,245.7 L303.7,247.1 L303.7,248.4 L303.7,249.7 L303.7,251.0 L303.6,252.2 L303.5,253.3 L303.3,254.8 L303.3,256.0 L303.3,257.0 L303.5,257.9 L303.6,258.8 L303.8,259.7 L304.1,260.6 L304.4,261.4 L304.8,262.3 L305.1,263.0 L305.6,263.8 L306.0,264.5 L306.5,265.3 L307.1,265.9 L307.6,266.6 L308.2,267.2 L308.8,267.9 L309.5,268.5 L310.1,269.0 L310.8,269.6 L311.5,270.2 L312.2,270.7 L312.9,271.2 L313.7,271.8 L314.5,272.3 L316.0,270.0 L317.5,267.7 L316.8,267.2 L316.1,266.8 L315.5,266.3 L314.9,265.8 L314.3,265.3 L313.7,264.9 L313.2,264.4 L312.7,263.9 L312.2,263.4 L311.7,263.0 L311.3,262.5 L311.0,262.0 L310.6,261.5 L310.3,261.0 L310.0,260.5 L309.8,260.0 L309.5,259.4 L309.3,258.9 L309.2,258.3 L309.0,257.7 L308.9,257.1 L308.8,256.4 L308.8,255.7 L308.7,255.2 L308.9,254.1 L309.1,252.7 L309.2,251.2 L309.2,249.8 L309.2,248.3 L309.2,246.8 L309.1,245.4 L309.0,243.9 L308.9,242.4 L308.7,240.8 L308.6,239.3 L308.5,237.8 L308.3,236.2 L308.2,234.7 L308.1,233.1 L308.1,231.5 L308.0,229.9 L308.1,228.4 L308.1,226.8 L308.2,225.2 L308.4,223.6 L308.7,221.9 L309.0,220.3 L309.4,218.6 Z" fill="none" stroke="#d59a6c" stroke-width="2.6" stroke-linejoin="round"/>
<path d="M330.7,205.1 L331.4,206.5 L332.1,207.9 L332.9,209.3 L333.7,210.7 L334.6,212.0 L335.5,213.4 L336.4,214.7 L337.4,216.0 L338.4,217.2 L339.4,218.5 L340.5,219.7 L341.5,220.9 L342.6,222.1 L343.7,223.2 L344.8,224.4 L345.9,225.5 L347.0,226.6 L348.2,227.7 L349.3,228.8 L350.4,229.9 L351.5,230.9 L352.7,232.0 L353.8,233.0 L354.8,234.0 L356.7,232.0 L358.6,230.0 L357.5,229.0 L356.4,228.0 L355.2,227.0 L354.1,225.9 L353.0,224.9 L351.9,223.9 L350.8,222.8 L349.7,221.7 L348.6,220.7 L347.5,219.6 L346.4,218.5 L345.4,217.4 L344.4,216.2 L343.4,215.1 L342.4,213.9 L341.5,212.8 L340.6,211.6 L339.7,210.4 L338.8,209.2 L338.0,208.0 L337.3,206.8 L336.6,205.5 L335.9,204.2 L335.3,202.9 Z" fill="none" stroke="#d59a6c" stroke-width="2.6" stroke-linejoin="round"/>
<path d="M371.9,203.6 L371.2,204.7 L370.4,205.9 L369.6,207.0 L368.9,208.2 L368.1,209.3 L367.4,210.5 L366.6,211.7 L365.8,212.8 L365.1,214.0 L364.3,215.2 L363.6,216.3 L362.9,217.5 L362.1,218.6 L361.4,219.8 L360.7,220.9 L360.0,222.0 L359.2,223.1 L358.5,224.2 L357.8,225.3 L357.1,226.4 L356.4,227.4 L355.8,228.5 L355.1,229.5 L354.4,230.5 L356.7,232.0 L359.0,233.5 L359.7,232.5 L360.3,231.4 L361.0,230.4 L361.7,229.3 L362.4,228.2 L363.1,227.1 L363.8,226.0 L364.5,224.9 L365.2,223.7 L365.9,222.6 L366.6,221.4 L367.3,220.3 L368.0,219.1 L368.8,217.9 L369.5,216.8 L370.2,215.6 L370.9,214.4 L371.7,213.3 L372.4,212.1 L373.1,210.9 L373.9,209.8 L374.6,208.7 L375.3,207.5 L376.1,206.4 Z" fill="none" stroke="#d59a6c" stroke-width="2.6" stroke-linejoin="round"/>
<path d="M354.1,231.1 L353.5,232.8 L352.9,234.5 L352.2,236.2 L351.6,237.8 L350.9,239.4 L350.2,241.1 L349.4,242.7 L348.7,244.3 L347.9,245.9 L347.1,247.5 L346.3,249.1 L345.4,250.6 L344.6,252.2 L343.7,253.8 L342.7,255.4 L341.8,257.1 L340.8,258.7 L339.9,260.3 L338.8,261.9 L337.8,263.6 L336.8,265.3 L335.7,266.9 L334.6,268.7 L333.5,270.4 L336.0,272.0 L338.5,273.6 L339.6,271.9 L340.7,270.1 L341.8,268.4 L342.8,266.7 L343.9,265.0 L344.9,263.3 L345.9,261.7 L346.8,260.0 L347.8,258.3 L348.7,256.7 L349.6,255.0 L350.5,253.4 L351.4,251.7 L352.2,250.0 L353.0,248.4 L353.8,246.7 L354.6,245.0 L355.3,243.3 L356.0,241.6 L356.7,239.9 L357.4,238.2 L358.1,236.4 L358.7,234.7 L359.3,232.9 Z" fill="none" stroke="#d59a6c" stroke-width="2.6" stroke-linejoin="round"/>
<path d="M324.4,251.6 L324.9,252.1 L325.3,252.5 L325.7,253.0 L326.1,253.5 L326.5,253.9 L326.9,254.4 L327.2,254.9 L327.6,255.3 L327.9,255.8 L328.2,256.3 L328.5,256.7 L328.8,257.2 L329.1,257.7 L329.4,258.1 L329.7,258.6 L330.0,259.1 L330.2,259.6 L330.5,260.1 L330.7,260.5 L331.0,261.0 L331.2,261.5 L331.5,262.0 L331.7,262.5 L332.0,263.0 L334.0,262.0 L336.0,261.0 L335.8,260.5 L335.5,260.0 L335.3,259.5 L335.0,259.0 L334.7,258.5 L334.5,257.9 L334.2,257.4 L333.9,256.9 L333.6,256.4 L333.3,255.9 L333.0,255.3 L332.7,254.8 L332.3,254.3 L332.0,253.7 L331.6,253.2 L331.2,252.7 L330.8,252.1 L330.4,251.6 L330.0,251.1 L329.6,250.5 L329.1,250.0 L328.6,249.5 L328.1,248.9 L327.6,248.4 Z" fill="none" stroke="#d59a6c" stroke-width="2.6" stroke-linejoin="round"/>
<path d="M338.3,286.2 L339.6,286.7 L340.8,287.1 L341.9,287.6 L343.1,288.0 L344.2,288.4 L345.3,288.8 L346.3,289.2 L347.3,289.6 L348.3,289.9 L349.3,290.2 L350.2,290.5 L351.1,290.8 L352.1,291.1 L352.9,291.4 L353.8,291.6 L354.7,291.9 L355.5,292.1 L356.4,292.3 L357.2,292.5 L358.0,292.7 L358.8,292.9 L359.7,293.0 L360.5,293.2 L361.2,293.3 L362.3,293.5 L363.4,293.8 L364.5,294.0 L365.6,294.3 L366.6,294.5 L367.6,294.8 L368.6,295.1 L369.6,295.4 L370.5,295.6 L371.4,295.9 L372.3,296.2 L373.2,296.5 L374.1,296.7 L374.9,297.0 L375.8,297.3 L376.6,297.5 L377.4,297.8 L378.3,298.0 L379.1,298.2 L379.9,298.5 L380.8,298.7 L381.6,298.8 L382.5,299.0 L383.0,299.1 L384.3,299.4 L385.8,299.8 L387.3,300.2 L388.8,300.6 L390.4,300.9 L392.0,301.3 L393.6,301.6 L395.2,302.0 L396.8,302.3 L398.4,302.6 L400.1,302.9 L401.8,303.2 L403.4,303.5 L405.1,303.7 L406.7,304.0 L408.3,304.2 L410.0,304.4 L411.6,304.6 L413.2,304.7 L414.7,304.8 L416.3,304.9 L417.8,305.0 L419.3,305.1 L420.7,305.1 L423.1,305.1 L425.4,305.1 L427.7,305.1 L430.0,305.0 L432.2,305.0 L434.4,305.0 L436.5,305.0 L438.6,305.0 L440.6,305.0 L442.6,305.0 L444.5,305.0 L446.4,305.0 L448.3,305.0 L450.1,305.0 L451.8,305.0 L453.5,305.0 L455.2,305.0 L456.8,305.0 L458.4,305.0 L459.9,305.0 L461.4,304.9 L462.9,304.9 L464.3,304.9 L465.7,304.9 L468.2,304.8 L470.6,304.6 L473.0,304.4 L475.3,304.2 L477.5,304.0 L479.7,303.8 L481.9,303.6 L484.0,303.4 L486.1,303.1 L488.1,302.9 L490.1,302.7 L492.1,302.4 L494.0,302.2 L495.8,302.0 L497.7,301.8 L499.5,301.6 L501.2,301.4 L502.9,301.2 L504.6,301.1 L506.2,301.0 L507.8,300.9 L509.4,300.8 L510.9,300.7 L512.4,300.7 L513.9,300.7 L515.4,300.7 L516.8,300.8 L518.3,300.8 L519.7,300.9 L521.1,301.0 L522.5,301.1 L523.8,301.2 L525.2,301.3 L526.5,301.4 L527.8,301.6 L529.1,301.7 L530.3,301.8 L531.5,301.9 L532.8,302.0 L534.0,302.2 L535.1,302.3 L536.3,302.4 L537.5,302.4 L538.6,302.5 L539.7,302.6 L540.8,302.6 L541.9,302.6 L542.8,302.6 L544.2,302.7 L545.7,302.9 L547.1,302.9 L548.5,303.0 L549.8,303.1 L551.1,303.2 L552.4,303.2 L553.7,303.3 L554.9,303.3 L556.1,303.4 L557.3,303.4 L558.5,303.4 L559.6,303.5 L560.7,303.5 L561.9,303.5 L563.0,303.5 L564.0,303.5 L565.1,303.5 L566.2,303.5 L567.3,303.5 L568.3,303.5 L569.4,303.5 L570.4,303.5 L571.5,303.5 L571.5,300.0 L571.5,296.5 L570.4,296.5 L569.4,296.5 L568.3,296.5 L567.3,296.5 L566.2,296.5 L565.2,296.4 L564.1,296.4 L563.0,296.4 L562.0,296.4 L560.9,296.4 L559.8,296.3 L558.7,296.3 L557.5,296.3 L556.4,296.2 L555.2,296.2 L554.0,296.1 L552.8,296.0 L551.5,296.0 L550.2,295.9 L548.9,295.8 L547.6,295.7 L546.2,295.6 L544.8,295.5 L543.2,295.4 L542.1,295.3 L541.1,295.3 L540.1,295.3 L539.1,295.2 L538.0,295.1 L536.9,295.0 L535.8,294.9 L534.7,294.8 L533.5,294.7 L532.3,294.6 L531.1,294.4 L529.8,294.3 L528.5,294.2 L527.2,294.0 L525.8,293.9 L524.5,293.8 L523.1,293.6 L521.6,293.5 L520.2,293.4 L518.7,293.3 L517.2,293.3 L515.6,293.2 L514.0,293.1 L512.4,293.1 L510.7,293.1 L509.1,293.2 L507.4,293.3 L505.7,293.4 L504.0,293.5 L502.2,293.6 L500.5,293.8 L498.7,294.0 L496.8,294.2 L495.0,294.4 L493.1,294.6 L491.2,294.8 L489.2,295.0 L487.3,295.2 L485.2,295.4 L483.2,295.7 L481.1,295.9 L479.0,296.1 L476.8,296.3 L474.6,296.5 L472.4,296.6 L470.1,296.8 L467.8,296.9 L465.5,297.1 L464.3,297.1 L462.9,297.1 L461.4,297.1 L459.9,297.0 L458.4,297.0 L456.8,297.0 L455.2,297.0 L453.5,297.0 L451.8,297.0 L450.1,297.0 L448.3,297.0 L446.4,297.0 L444.5,297.0 L442.6,297.0 L440.6,297.0 L438.6,297.0 L436.5,297.0 L434.4,297.0 L432.2,297.0 L430.0,297.0 L427.7,296.9 L425.4,296.9 L423.1,296.9 L420.7,296.9 L419.4,296.9 L418.1,296.9 L416.7,296.8 L415.3,296.7 L413.9,296.6 L412.4,296.4 L410.9,296.2 L409.4,296.0 L407.9,295.8 L406.3,295.6 L404.7,295.3 L403.2,295.0 L401.6,294.8 L400.0,294.5 L398.4,294.1 L396.9,293.8 L395.3,293.5 L393.8,293.1 L392.3,292.8 L390.8,292.4 L389.3,292.0 L387.9,291.7 L386.5,291.3 L385.0,290.9 L384.0,290.7 L383.4,290.6 L382.7,290.4 L382.0,290.2 L381.3,290.1 L380.6,289.8 L379.9,289.6 L379.1,289.4 L378.3,289.1 L377.5,288.9 L376.7,288.6 L375.8,288.3 L374.9,288.0 L374.0,287.7 L373.0,287.4 L372.1,287.1 L371.0,286.8 L370.0,286.5 L368.9,286.2 L367.8,285.9 L366.6,285.6 L365.4,285.3 L364.1,285.0 L362.8,284.7 L362.0,284.6 L361.3,284.4 L360.6,284.3 L359.9,284.1 L359.2,284.0 L358.5,283.8 L357.8,283.6 L357.0,283.4 L356.3,283.2 L355.5,282.9 L354.7,282.7 L353.9,282.4 L353.0,282.1 L352.1,281.8 L351.2,281.5 L350.3,281.2 L349.4,280.8 L348.4,280.5 L347.3,280.1 L346.3,279.7 L345.2,279.2 L344.1,278.8 L342.9,278.3 L341.7,277.8 Z" fill="none" stroke="#d59a6c" stroke-width="2.6" stroke-linejoin="round"/>
<path d="M374.4,244.3 L375.0,245.7 L375.4,247.0 L375.8,248.3 L376.2,249.7 L376.4,251.0 L376.6,252.3 L376.8,253.6 L376.9,255.0 L377.0,256.3 L377.0,257.7 L377.0,259.0 L377.0,260.4 L376.9,261.7 L376.9,263.1 L376.8,264.5 L376.8,265.9 L376.7,267.3 L376.7,268.7 L376.7,270.2 L376.7,271.6 L376.8,273.1 L376.9,274.5 L377.1,276.0 L377.3,277.4 L380.0,277.0 L382.7,276.6 L382.5,275.2 L382.3,274.0 L382.2,272.7 L382.1,271.4 L382.1,270.1 L382.1,268.7 L382.1,267.4 L382.1,266.0 L382.1,264.7 L382.2,263.3 L382.2,261.9 L382.2,260.5 L382.2,259.0 L382.2,257.6 L382.1,256.1 L382.0,254.6 L381.9,253.1 L381.7,251.6 L381.5,250.1 L381.1,248.5 L380.7,247.0 L380.2,245.4 L379.7,243.8 L379.0,242.3 Z" fill="none" stroke="#d59a6c" stroke-width="2.6" stroke-linejoin="round"/>
<path d="M403.3,259.8 L402.5,260.6 L401.6,261.4 L400.7,262.1 L399.9,262.8 L399.1,263.6 L398.2,264.3 L397.4,265.0 L396.6,265.7 L395.8,266.4 L395.0,267.1 L394.2,267.7 L393.5,268.4 L392.7,269.1 L391.9,269.7 L391.2,270.4 L390.4,271.1 L389.7,271.7 L389.0,272.4 L388.3,273.0 L387.5,273.7 L386.8,274.4 L386.1,275.0 L385.4,275.7 L384.8,276.3 L386.7,278.3 L388.6,280.3 L389.3,279.6 L389.9,278.9 L390.6,278.3 L391.3,277.6 L391.9,277.0 L392.6,276.3 L393.3,275.7 L394.0,275.0 L394.8,274.4 L395.5,273.7 L396.2,273.0 L397.0,272.3 L397.7,271.7 L398.5,271.0 L399.2,270.3 L400.0,269.6 L400.8,268.9 L401.6,268.1 L402.4,267.4 L403.3,266.7 L404.1,265.9 L404.9,265.1 L405.8,264.4 L406.7,263.6 Z" fill="none" stroke="#d59a6c" stroke-width="2.6" stroke-linejoin="round"/>
<path d="M412.6,210.9 L413.3,211.7 L413.9,212.5 L414.5,213.3 L415.1,214.0 L415.6,214.8 L416.2,215.6 L416.7,216.3 L417.1,217.1 L417.6,217.8 L418.1,218.5 L418.5,219.2 L418.9,219.9 L419.3,220.6 L419.7,221.2 L420.0,221.8 L420.4,222.5 L420.7,223.1 L421.0,223.6 L421.3,224.2 L421.6,224.7 L421.8,225.3 L422.1,225.8 L422.3,226.3 L422.6,226.7 L424.8,225.6 L427.0,224.5 L426.8,224.0 L426.6,223.5 L426.3,223.0 L426.0,222.5 L425.7,221.9 L425.4,221.3 L425.1,220.7 L424.8,220.1 L424.4,219.4 L424.0,218.7 L423.6,218.0 L423.2,217.3 L422.8,216.6 L422.3,215.9 L421.8,215.1 L421.3,214.3 L420.8,213.6 L420.3,212.8 L419.7,211.9 L419.1,211.1 L418.5,210.3 L417.9,209.4 L417.2,208.6 L416.6,207.7 Z" fill="none" stroke="#d59a6c" stroke-width="2.6" stroke-linejoin="round"/>
<path d="M435.8,215.2 L435.2,215.5 L434.6,215.9 L433.9,216.2 L433.3,216.6 L432.7,216.9 L432.1,217.3 L431.6,217.6 L431.0,218.0 L430.4,218.4 L429.9,218.7 L429.3,219.1 L428.8,219.4 L428.3,219.8 L427.8,220.2 L427.3,220.5 L426.8,220.9 L426.3,221.2 L425.8,221.6 L425.4,222.0 L424.9,222.3 L424.5,222.6 L424.1,223.0 L423.6,223.3 L423.2,223.7 L424.8,225.6 L426.4,227.5 L426.8,227.2 L427.2,226.9 L427.6,226.6 L428.0,226.2 L428.4,225.9 L428.9,225.6 L429.3,225.2 L429.8,224.9 L430.2,224.6 L430.7,224.2 L431.2,223.9 L431.6,223.6 L432.1,223.2 L432.6,222.9 L433.2,222.5 L433.7,222.2 L434.2,221.9 L434.7,221.5 L435.3,221.2 L435.8,220.9 L436.4,220.6 L437.0,220.2 L437.6,219.9 L438.2,219.6 Z" fill="none" stroke="#d59a6c" stroke-width="2.6" stroke-linejoin="round"/>
<path d="M422.2,227.0 L422.8,228.2 L423.4,229.3 L424.0,230.4 L424.6,231.5 L425.1,232.5 L425.6,233.6 L426.1,234.6 L426.6,235.5 L427.1,236.5 L427.5,237.4 L428.0,238.3 L428.4,239.1 L428.8,240.0 L429.2,240.8 L429.6,241.5 L429.9,242.3 L430.3,243.0 L430.6,243.7 L430.9,244.4 L431.2,245.0 L431.5,245.7 L431.8,246.2 L432.1,246.8 L432.3,247.3 L432.6,247.9 L432.9,248.4 L433.1,248.9 L433.4,249.4 L433.7,249.8 L434.0,250.3 L434.3,250.7 L434.5,251.1 L434.8,251.5 L435.1,251.9 L435.4,252.3 L435.7,252.6 L435.9,253.0 L436.2,253.3 L436.5,253.6 L436.8,253.9 L437.0,254.2 L437.3,254.5 L437.6,254.8 L437.8,255.1 L438.1,255.4 L438.4,255.6 L438.6,255.9 L438.9,256.1 L441.0,254.0 L443.1,251.9 L442.9,251.6 L442.6,251.4 L442.4,251.1 L442.2,250.9 L441.9,250.7 L441.7,250.4 L441.5,250.2 L441.2,249.9 L441.0,249.7 L440.8,249.4 L440.6,249.1 L440.3,248.9 L440.1,248.6 L439.9,248.3 L439.7,248.0 L439.5,247.7 L439.2,247.4 L439.0,247.0 L438.8,246.7 L438.6,246.3 L438.4,245.9 L438.1,245.5 L437.9,245.1 L437.7,244.7 L437.4,244.2 L437.2,243.6 L436.9,243.1 L436.6,242.5 L436.3,241.8 L436.0,241.2 L435.7,240.5 L435.3,239.7 L435.0,239.0 L434.6,238.2 L434.2,237.4 L433.8,236.5 L433.4,235.6 L432.9,234.7 L432.5,233.8 L432.0,232.8 L431.5,231.8 L431.0,230.8 L430.4,229.8 L429.9,228.7 L429.3,227.6 L428.7,226.5 L428.1,225.3 L427.4,224.2 Z" fill="none" stroke="#d59a6c" stroke-width="2.6" stroke-linejoin="round"/>
<path d="M433.7,243.9 L432.5,244.6 L431.2,245.4 L430.0,246.1 L428.7,246.9 L427.5,247.6 L426.3,248.3 L425.0,249.1 L423.8,249.8 L422.6,250.5 L421.4,251.3 L420.2,252.0 L419.0,252.7 L417.8,253.4 L416.6,254.0 L415.4,254.7 L414.3,255.4 L413.1,256.0 L412.0,256.6 L410.9,257.2 L409.7,257.8 L408.6,258.4 L407.6,259.0 L406.5,259.5 L405.7,260.0 L405.0,260.1 L403.9,260.3 L402.9,260.5 L401.9,260.7 L400.8,260.9 L399.8,261.1 L398.8,261.3 L397.8,261.4 L396.8,261.6 L395.8,261.7 L394.8,261.9 L393.8,262.0 L392.8,262.1 L391.8,262.3 L390.8,262.4 L389.8,262.5 L388.8,262.6 L387.8,262.7 L386.8,262.8 L385.9,262.8 L384.9,262.9 L383.9,263.0 L382.9,263.0 L381.9,263.1 L382.0,265.3 L382.1,267.5 L383.1,267.5 L384.1,267.5 L385.1,267.4 L386.2,267.4 L387.2,267.3 L388.2,267.2 L389.2,267.1 L390.2,267.0 L391.3,266.9 L392.3,266.8 L393.3,266.7 L394.4,266.6 L395.4,266.5 L396.4,266.3 L397.5,266.2 L398.5,266.0 L399.6,265.9 L400.6,265.7 L401.7,265.5 L402.7,265.3 L403.8,265.2 L404.8,265.0 L405.9,264.7 L407.3,264.4 L408.6,263.8 L409.7,263.2 L410.9,262.7 L412.0,262.1 L413.1,261.5 L414.3,260.9 L415.4,260.2 L416.6,259.6 L417.8,258.9 L419.0,258.3 L420.2,257.6 L421.4,256.9 L422.6,256.2 L423.8,255.5 L425.1,254.8 L426.3,254.1 L427.5,253.3 L428.8,252.6 L430.0,251.9 L431.3,251.1 L432.5,250.4 L433.8,249.6 L435.0,248.9 L436.3,248.1 Z" fill="none" stroke="#d59a6c" stroke-width="2.6" stroke-linejoin="round"/>
<path d="M443.0,255.5 L444.1,254.0 L445.2,252.6 L446.4,251.2 L447.5,249.8 L448.6,248.4 L449.8,247.1 L450.9,245.7 L452.1,244.5 L453.2,243.2 L454.4,242.0 L455.6,240.9 L456.7,239.7 L457.9,238.6 L459.1,237.6 L460.3,236.6 L461.4,235.6 L462.6,234.7 L463.8,233.8 L464.9,233.0 L466.1,232.3 L467.2,231.6 L468.3,230.9 L469.5,230.3 L470.7,229.7 L471.2,229.4 L471.4,229.3 L471.6,229.1 L471.9,229.0 L472.1,228.9 L472.3,228.7 L472.5,228.6 L472.8,228.5 L473.0,228.5 L473.2,228.4 L473.4,228.3 L473.6,228.2 L473.9,228.2 L474.1,228.1 L474.4,228.1 L474.6,228.0 L474.9,228.0 L475.1,228.0 L475.4,227.9 L475.7,227.9 L476.0,227.9 L476.3,227.9 L476.7,227.9 L477.0,227.8 L477.0,225.6 L477.0,223.4 L476.6,223.3 L476.2,223.3 L475.8,223.4 L475.4,223.4 L475.1,223.4 L474.7,223.4 L474.3,223.5 L474.0,223.5 L473.6,223.5 L473.2,223.6 L472.9,223.7 L472.5,223.8 L472.1,223.9 L471.8,224.0 L471.4,224.1 L471.1,224.2 L470.7,224.3 L470.4,224.5 L470.0,224.6 L469.7,224.8 L469.3,225.0 L469.0,225.2 L468.6,225.4 L468.5,225.5 L467.3,226.1 L466.0,226.7 L464.8,227.4 L463.5,228.2 L462.2,229.1 L460.9,229.9 L459.7,230.9 L458.4,231.8 L457.2,232.9 L455.9,233.9 L454.6,235.0 L453.4,236.2 L452.2,237.4 L450.9,238.6 L449.7,239.8 L448.5,241.1 L447.3,242.5 L446.1,243.8 L444.9,245.2 L443.7,246.6 L442.5,248.0 L441.3,249.5 L440.2,251.0 L439.0,252.5 Z" fill="none" stroke="#d59a6c" stroke-width="2.6" stroke-linejoin="round"/>
<path d="M438.7,255.9 L439.7,257.2 L440.8,258.6 L441.8,260.0 L442.8,261.4 L443.8,262.8 L444.7,264.2 L445.6,265.6 L446.5,267.0 L447.4,268.5 L448.3,269.9 L449.1,271.3 L450.0,272.7 L450.8,274.1 L451.6,275.5 L452.4,276.9 L453.1,278.3 L453.9,279.6 L454.6,280.9 L455.4,282.2 L456.1,283.5 L456.8,284.8 L457.5,286.0 L458.3,287.2 L458.9,288.3 L459.2,288.7 L459.5,289.3 L459.8,289.8 L460.1,290.3 L460.4,290.8 L460.7,291.3 L461.0,291.7 L461.3,292.2 L461.5,292.6 L461.8,293.1 L462.0,293.5 L462.3,293.9 L462.5,294.4 L462.8,294.8 L463.0,295.2 L463.2,295.6 L463.4,296.1 L463.6,296.5 L463.8,296.9 L464.0,297.3 L464.2,297.8 L464.4,298.2 L464.6,298.7 L464.8,299.1 L467.6,298.0 L470.4,296.9 L470.2,296.4 L469.9,295.8 L469.7,295.3 L469.5,294.8 L469.3,294.3 L469.0,293.8 L468.8,293.3 L468.5,292.9 L468.3,292.4 L468.0,291.9 L467.8,291.4 L467.5,291.0 L467.2,290.5 L467.0,290.1 L466.7,289.6 L466.4,289.1 L466.1,288.7 L465.9,288.2 L465.6,287.7 L465.3,287.2 L465.0,286.7 L464.7,286.2 L464.4,285.7 L464.1,285.1 L463.4,284.0 L462.7,282.9 L462.0,281.7 L461.3,280.5 L460.6,279.3 L459.9,278.0 L459.1,276.7 L458.4,275.3 L457.6,274.0 L456.8,272.6 L456.0,271.1 L455.2,269.7 L454.3,268.3 L453.4,266.8 L452.6,265.3 L451.6,263.8 L450.7,262.4 L449.7,260.9 L448.7,259.4 L447.7,257.9 L446.7,256.4 L445.6,255.0 L444.5,253.5 L443.3,252.1 Z" fill="none" stroke="#d59a6c" stroke-width="2.6" stroke-linejoin="round"/>
<path d="M473.9,262.4 L475.1,261.7 L476.2,261.1 L477.4,260.5 L478.5,259.9 L479.7,259.4 L480.8,258.8 L482.0,258.2 L483.2,257.7 L484.4,257.2 L485.6,256.7 L486.7,256.3 L487.9,255.8 L489.1,255.4 L490.3,255.0 L491.5,254.6 L492.7,254.3 L493.9,253.9 L495.2,253.6 L496.4,253.3 L497.6,253.1 L498.8,252.9 L500.0,252.7 L501.2,252.5 L502.3,252.4 L503.1,252.4 L504.0,252.4 L504.9,252.4 L505.8,252.5 L506.6,252.6 L507.5,252.7 L508.3,252.8 L509.1,252.9 L510.0,253.0 L510.8,253.2 L511.6,253.3 L512.4,253.5 L513.2,253.7 L514.0,253.9 L514.8,254.1 L515.6,254.3 L516.5,254.5 L517.3,254.7 L518.1,255.0 L518.9,255.2 L519.8,255.4 L520.6,255.7 L521.5,255.9 L522.4,256.2 L523.0,254.0 L523.6,251.8 L522.8,251.6 L521.9,251.3 L521.0,251.1 L520.2,250.8 L519.4,250.6 L518.5,250.3 L517.7,250.1 L516.8,249.9 L516.0,249.6 L515.1,249.4 L514.3,249.2 L513.4,249.0 L512.5,248.8 L511.7,248.6 L510.8,248.4 L509.9,248.3 L509.0,248.1 L508.0,248.0 L507.1,247.9 L506.2,247.8 L505.2,247.7 L504.2,247.7 L503.2,247.6 L502.1,247.6 L500.6,247.8 L499.3,248.0 L498.0,248.2 L496.7,248.4 L495.4,248.7 L494.0,248.9 L492.7,249.3 L491.4,249.6 L490.1,250.0 L488.8,250.4 L487.6,250.8 L486.3,251.2 L485.0,251.7 L483.8,252.2 L482.5,252.7 L481.2,253.2 L480.0,253.8 L478.8,254.3 L477.5,254.9 L476.3,255.5 L475.1,256.1 L473.9,256.7 L472.7,257.4 L471.5,258.0 Z" fill="none" stroke="#d59a6c" stroke-width="2.6" stroke-linejoin="round"/>
<path d="M499.7,250.3 L499.8,251.1 L499.9,251.8 L500.1,252.6 L500.2,253.3 L500.3,254.1 L500.4,254.8 L500.5,255.6 L500.6,256.3 L500.8,257.1 L500.9,257.8 L501.0,258.6 L501.1,259.3 L501.2,260.1 L501.3,260.8 L501.4,261.6 L501.5,262.3 L501.6,263.1 L501.7,263.8 L501.7,264.6 L501.8,265.4 L501.9,266.1 L501.9,266.9 L502.0,267.6 L502.1,268.4 L504.3,268.3 L506.5,268.2 L506.5,267.4 L506.5,266.6 L506.4,265.8 L506.4,265.0 L506.3,264.2 L506.3,263.4 L506.2,262.6 L506.1,261.8 L506.0,261.1 L506.0,260.3 L505.9,259.5 L505.8,258.7 L505.7,258.0 L505.6,257.2 L505.5,256.4 L505.4,255.7 L505.3,254.9 L505.2,254.2 L505.1,253.4 L505.0,252.7 L505.0,251.9 L504.9,251.2 L504.8,250.4 L504.7,249.7 Z" fill="none" stroke="#d59a6c" stroke-width="2.6" stroke-linejoin="round"/>
<path d="M480.0,281.7 L480.6,280.7 L481.1,279.6 L481.6,278.6 L482.1,277.7 L482.5,276.7 L483.0,275.8 L483.5,274.9 L484.0,274.1 L484.5,273.3 L485.0,272.4 L485.5,271.7 L486.0,270.9 L486.4,270.2 L486.9,269.5 L487.4,268.8 L487.9,268.2 L488.3,267.5 L488.8,266.9 L489.3,266.4 L489.7,265.8 L490.2,265.3 L490.6,264.8 L491.1,264.3 L491.6,263.8 L490.0,262.2 L488.4,260.6 L487.9,261.1 L487.4,261.6 L486.8,262.2 L486.3,262.8 L485.7,263.4 L485.2,264.0 L484.7,264.7 L484.1,265.3 L483.6,266.0 L483.1,266.8 L482.5,267.5 L482.0,268.3 L481.5,269.1 L480.9,269.9 L480.4,270.8 L479.9,271.6 L479.3,272.5 L478.8,273.4 L478.3,274.4 L477.7,275.4 L477.2,276.4 L476.6,277.4 L476.1,278.4 L475.6,279.5 Z" fill="none" stroke="#d59a6c" stroke-width="2.6" stroke-linejoin="round"/>
<path d="M449.4,288.4 L450.0,289.0 L450.6,289.7 L451.2,290.4 L451.8,291.0 L452.4,291.7 L453.0,292.3 L453.7,293.0 L454.3,293.6 L454.9,294.2 L455.5,294.9 L456.1,295.5 L456.7,296.1 L457.3,296.7 L457.9,297.3 L458.6,297.9 L459.2,298.5 L459.8,299.1 L460.4,299.6 L461.0,300.2 L461.6,300.8 L462.2,301.3 L462.8,301.8 L463.4,302.4 L464.0,302.9 L465.6,301.0 L467.2,299.1 L466.7,298.6 L466.1,298.1 L465.5,297.6 L465.0,297.1 L464.4,296.5 L463.8,296.0 L463.2,295.4 L462.6,294.9 L462.0,294.3 L461.4,293.7 L460.8,293.2 L460.3,292.6 L459.7,292.0 L459.1,291.4 L458.5,290.8 L457.9,290.1 L457.3,289.5 L456.7,288.9 L456.1,288.3 L455.5,287.6 L454.9,287.0 L454.3,286.3 L453.8,285.7 L453.2,285.0 Z" fill="none" stroke="#d59a6c" stroke-width="2.6" stroke-linejoin="round"/>
<path d="M514.4,296.3 L515.3,295.1 L516.3,293.9 L517.3,292.6 L518.3,291.4 L519.3,290.1 L520.4,288.9 L521.4,287.6 L522.5,286.3 L523.6,285.0 L524.7,283.8 L525.8,282.5 L526.9,281.2 L528.1,280.0 L529.2,278.7 L530.3,277.5 L531.5,276.2 L532.6,275.0 L533.8,273.8 L534.9,272.6 L536.1,271.4 L537.2,270.3 L538.3,269.1 L539.5,268.0 L540.6,266.9 L539.0,265.3 L537.4,263.7 L536.3,264.8 L535.1,265.9 L534.0,267.1 L532.8,268.2 L531.6,269.4 L530.5,270.6 L529.3,271.8 L528.1,273.0 L526.9,274.3 L525.7,275.5 L524.6,276.8 L523.4,278.0 L522.3,279.3 L521.1,280.6 L520.0,281.9 L518.8,283.1 L517.7,284.4 L516.6,285.7 L515.6,287.0 L514.5,288.3 L513.4,289.5 L512.4,290.8 L511.4,292.0 L510.4,293.3 Z" fill="none" stroke="#d59a6c" stroke-width="2.6" stroke-linejoin="round"/>
<path d="M427.2,311.5 L428.2,311.4 L429.2,311.2 L430.2,311.1 L431.2,311.0 L432.2,310.9 L433.3,310.9 L434.3,310.8 L435.3,310.7 L436.4,310.6 L437.4,310.6 L438.4,310.5 L439.5,310.5 L440.5,310.5 L441.5,310.4 L442.5,310.4 L443.6,310.4 L444.6,310.3 L445.6,310.3 L446.6,310.3 L447.5,310.3 L448.5,310.3 L449.4,310.3 L450.4,310.3 L451.3,310.2 L451.3,308.0 L451.3,305.8 L450.4,305.7 L449.4,305.7 L448.5,305.7 L447.5,305.7 L446.5,305.7 L445.5,305.7 L444.5,305.7 L443.5,305.7 L442.5,305.7 L441.4,305.7 L440.4,305.7 L439.3,305.8 L438.3,305.8 L437.2,305.8 L436.1,305.8 L435.1,305.9 L434.0,305.9 L432.9,306.0 L431.9,306.1 L430.8,306.1 L429.7,306.2 L428.7,306.3 L427.6,306.4 L426.6,306.5 Z" fill="none" stroke="#d59a6c" stroke-width="2.6" stroke-linejoin="round"/>
<ellipse cx="362" cy="289" rx="24" ry="10" transform="rotate(10 362 289)" fill="none" stroke="#d59a6c" stroke-width="2.6"/>
<path d="M177.7,209.7 L179.0,209.3 L180.4,209.0 L181.8,208.7 L183.2,208.5 L184.6,208.3 L186.1,208.2 L187.7,208.1 L189.2,208.0 L190.8,208.0 L192.4,208.0 L194.0,208.0 L195.7,208.1 L197.4,208.2 L199.0,208.4 L200.7,208.6 L202.4,208.9 L204.1,209.2 L205.9,209.5 L207.6,209.9 L209.3,210.3 L211.0,210.7 L212.7,211.2 L214.5,211.8 L216.2,212.4 L217.0,210.0 L217.8,207.6 L216.0,207.0 L214.2,206.4 L212.4,205.9 L210.6,205.4 L208.7,204.9 L206.9,204.5 L205.1,204.1 L203.3,203.8 L201.5,203.5 L199.6,203.2 L197.9,203.0 L196.1,202.9 L194.3,202.8 L192.5,202.7 L190.8,202.7 L189.1,202.7 L187.4,202.7 L185.7,202.8 L184.1,203.0 L182.4,203.1 L180.9,203.4 L179.3,203.7 L177.8,204.0 L176.3,204.3 Z" fill="#f9dcb6"/>
<path d="M196.4,206.1 L195.8,207.8 L195.3,209.5 L194.9,211.2 L194.5,212.9 L194.2,214.6 L194.0,216.2 L193.8,217.9 L193.6,219.5 L193.5,221.1 L193.4,222.6 L193.3,224.2 L193.3,225.7 L193.2,227.2 L193.1,228.7 L193.0,230.2 L192.8,231.7 L192.6,233.1 L192.4,234.5 L192.1,235.9 L191.8,237.3 L191.4,238.7 L190.9,240.1 L190.4,241.5 L189.7,243.0 L189.4,243.7 L189.2,244.3 L189.0,244.9 L188.8,245.5 L188.6,246.0 L188.4,246.5 L188.2,247.1 L188.1,247.6 L187.9,248.1 L187.7,248.5 L187.6,249.0 L187.5,249.4 L187.4,249.9 L187.3,250.3 L187.2,250.7 L187.1,251.1 L187.0,251.5 L186.9,251.9 L186.9,252.2 L186.8,252.6 L186.8,253.0 L186.8,253.3 L186.7,253.7 L186.8,254.0 L189.0,254.0 L191.2,254.0 L191.3,253.8 L191.3,253.7 L191.3,253.5 L191.4,253.2 L191.4,253.0 L191.5,252.7 L191.5,252.5 L191.6,252.2 L191.7,251.9 L191.8,251.5 L191.9,251.2 L192.0,250.8 L192.2,250.4 L192.3,250.0 L192.4,249.6 L192.6,249.2 L192.8,248.7 L193.0,248.2 L193.2,247.7 L193.4,247.2 L193.6,246.7 L193.8,246.1 L194.1,245.5 L194.3,245.0 L195.0,243.5 L195.7,241.9 L196.2,240.3 L196.7,238.6 L197.1,237.0 L197.4,235.4 L197.7,233.9 L197.9,232.3 L198.1,230.7 L198.3,229.1 L198.4,227.6 L198.5,226.0 L198.6,224.5 L198.7,223.0 L198.8,221.5 L199.0,219.9 L199.1,218.4 L199.3,216.9 L199.5,215.4 L199.8,214.0 L200.2,212.5 L200.6,211.0 L201.0,209.5 L201.6,207.9 Z" fill="#f9dcb6"/>
<path d="M211.3,211.3 L211.5,213.0 L211.6,214.7 L211.7,216.3 L211.7,218.0 L211.7,219.7 L211.6,221.5 L211.5,223.2 L211.3,224.9 L211.1,226.7 L210.9,228.4 L210.7,230.2 L210.5,231.9 L210.3,233.7 L210.1,235.4 L209.9,237.2 L209.8,238.9 L209.7,240.7 L209.6,242.4 L209.6,244.1 L209.6,245.9 L209.7,247.6 L209.9,249.3 L210.2,250.9 L210.5,252.4 L210.5,252.6 L210.5,253.1 L210.5,253.7 L210.5,254.2 L210.4,254.7 L210.4,255.2 L210.4,255.6 L210.3,256.1 L210.3,256.5 L210.3,257.0 L210.2,257.4 L210.2,257.8 L210.1,258.2 L210.1,258.5 L210.0,258.9 L210.0,259.3 L209.9,259.6 L209.9,260.0 L209.8,260.3 L209.8,260.6 L209.8,261.0 L209.8,261.3 L209.7,261.7 L209.8,262.0 L212.0,262.0 L214.2,262.0 L214.3,261.8 L214.3,261.6 L214.3,261.4 L214.4,261.2 L214.4,260.9 L214.4,260.6 L214.5,260.3 L214.6,260.0 L214.6,259.6 L214.7,259.3 L214.8,258.9 L214.8,258.5 L214.9,258.1 L215.0,257.6 L215.1,257.1 L215.1,256.7 L215.2,256.1 L215.3,255.6 L215.3,255.1 L215.4,254.5 L215.4,253.9 L215.5,253.3 L215.5,252.7 L215.5,251.6 L215.1,250.0 L214.9,248.6 L214.8,247.2 L214.7,245.7 L214.7,244.1 L214.7,242.6 L214.8,241.0 L214.9,239.4 L215.1,237.7 L215.3,236.0 L215.5,234.3 L215.7,232.6 L216.0,230.8 L216.2,229.0 L216.4,227.3 L216.6,225.5 L216.8,223.6 L216.9,221.8 L217.1,220.0 L217.1,218.1 L217.1,216.2 L217.1,214.4 L216.9,212.5 L216.7,210.7 Z" fill="#f9dcb6"/>
<path d="M212.4,228.2 L212.9,228.3 L213.3,228.4 L213.6,228.5 L214.0,228.7 L214.4,228.8 L214.8,229.0 L215.2,229.2 L215.5,229.5 L215.9,229.7 L216.3,229.9 L216.6,230.2 L217.0,230.5 L217.4,230.8 L217.7,231.1 L218.1,231.5 L218.5,231.8 L218.8,232.2 L219.2,232.6 L219.6,233.0 L219.9,233.4 L220.3,233.8 L220.7,234.3 L221.0,234.7 L221.4,235.2 L223.0,234.0 L224.6,232.8 L224.2,232.3 L223.8,231.8 L223.5,231.3 L223.1,230.8 L222.7,230.3 L222.3,229.8 L221.9,229.4 L221.5,228.9 L221.0,228.5 L220.6,228.1 L220.2,227.7 L219.7,227.3 L219.3,226.9 L218.8,226.5 L218.4,226.1 L217.9,225.8 L217.4,225.5 L216.9,225.2 L216.4,224.9 L215.8,224.6 L215.3,224.4 L214.7,224.2 L214.1,224.0 L213.6,223.8 Z" fill="#f9dcb6"/>
<path d="M261.0,206.5 L261.4,207.0 L261.8,207.6 L262.3,208.1 L262.7,208.6 L263.1,209.1 L263.6,209.5 L264.0,210.0 L264.4,210.5 L264.9,210.9 L265.3,211.4 L265.7,211.8 L266.1,212.2 L266.6,212.7 L267.0,213.1 L267.4,213.5 L267.7,213.9 L268.1,214.4 L268.5,214.8 L268.8,215.2 L269.2,215.6 L269.5,216.0 L269.8,216.5 L270.1,216.9 L270.4,217.4 L272.5,216.0 L274.6,214.6 L274.3,214.1 L273.9,213.6 L273.5,213.0 L273.1,212.5 L272.7,212.0 L272.3,211.5 L271.9,211.1 L271.4,210.6 L271.0,210.1 L270.6,209.7 L270.2,209.2 L269.7,208.8 L269.3,208.3 L268.9,207.9 L268.5,207.5 L268.1,207.0 L267.6,206.6 L267.2,206.1 L266.8,205.7 L266.5,205.3 L266.1,204.8 L265.7,204.4 L265.3,204.0 L265.0,203.5 Z" fill="#f9dcb6"/>
<path d="M275.6,203.5 L275.4,204.1 L275.3,204.6 L275.2,205.2 L275.0,205.7 L274.9,206.3 L274.7,206.8 L274.5,207.3 L274.3,207.8 L274.2,208.3 L274.0,208.8 L273.8,209.2 L273.5,209.7 L273.3,210.1 L273.1,210.6 L272.9,211.0 L272.6,211.4 L272.4,211.8 L272.2,212.2 L271.9,212.6 L271.7,213.0 L271.4,213.4 L271.1,213.7 L270.9,214.1 L270.6,214.4 L272.5,216.0 L274.4,217.6 L274.8,217.2 L275.1,216.7 L275.4,216.3 L275.8,215.8 L276.1,215.4 L276.4,214.9 L276.7,214.4 L277.0,213.9 L277.3,213.4 L277.5,212.9 L277.8,212.4 L278.1,211.8 L278.3,211.3 L278.6,210.7 L278.8,210.1 L279.0,209.5 L279.2,208.9 L279.4,208.3 L279.6,207.7 L279.8,207.1 L280.0,206.5 L280.2,205.8 L280.3,205.2 L280.4,204.5 Z" fill="#f9dcb6"/>
<path d="M269.5,215.6 L269.3,217.4 L269.1,219.2 L269.0,221.0 L269.0,222.8 L269.2,224.6 L269.4,226.3 L269.6,227.9 L270.0,229.5 L270.4,231.1 L270.9,232.7 L271.4,234.2 L271.9,235.6 L272.5,237.1 L273.1,238.5 L273.8,239.9 L274.4,241.2 L275.0,242.5 L275.7,243.8 L276.3,245.1 L276.9,246.4 L277.5,247.6 L278.1,248.8 L278.6,250.0 L279.1,251.3 L279.8,252.5 L280.4,253.7 L281.1,254.7 L281.9,255.8 L282.7,256.9 L283.5,257.9 L284.5,258.9 L285.5,259.9 L286.5,260.9 L287.6,261.9 L288.8,262.8 L290.0,263.8 L291.2,264.7 L292.5,265.5 L293.9,266.4 L295.4,267.2 L296.9,268.0 L298.4,268.8 L300.0,269.6 L301.7,270.4 L303.4,271.1 L305.2,271.8 L307.0,272.5 L308.8,273.1 L310.6,273.8 L312.4,274.6 L314.2,275.3 L315.9,276.0 L317.5,276.6 L319.1,277.3 L320.7,277.9 L322.3,278.6 L323.8,279.2 L325.2,279.8 L326.7,280.3 L328.1,280.9 L329.5,281.5 L330.9,282.0 L332.2,282.6 L333.5,283.1 L334.8,283.7 L336.1,284.2 L337.4,284.7 L338.7,285.2 L339.9,285.7 L341.2,286.2 L342.5,286.7 L343.7,287.2 L345.0,284.0 L346.3,280.8 L345.0,280.3 L343.8,279.8 L342.5,279.3 L341.3,278.8 L340.0,278.3 L338.7,277.8 L337.4,277.2 L336.1,276.7 L334.8,276.2 L333.4,275.7 L332.0,275.1 L330.6,274.6 L329.2,274.0 L327.8,273.4 L326.3,272.9 L324.8,272.3 L323.2,271.6 L321.6,271.0 L320.0,270.4 L318.4,269.7 L316.6,269.0 L314.9,268.4 L313.1,267.6 L311.2,266.9 L309.3,266.2 L307.6,265.6 L305.9,265.0 L304.3,264.3 L302.8,263.6 L301.3,262.9 L299.9,262.2 L298.6,261.5 L297.3,260.8 L296.1,260.0 L294.9,259.3 L293.8,258.5 L292.7,257.7 L291.8,256.9 L290.8,256.1 L289.9,255.3 L289.1,254.5 L288.4,253.7 L287.6,252.8 L287.0,252.0 L286.4,251.2 L285.8,250.3 L285.3,249.4 L284.9,248.7 L284.4,247.5 L283.8,246.2 L283.2,244.9 L282.6,243.6 L281.9,242.3 L281.3,241.0 L280.6,239.8 L280.0,238.5 L279.4,237.2 L278.8,235.9 L278.2,234.7 L277.7,233.4 L277.2,232.1 L276.7,230.8 L276.3,229.4 L275.9,228.1 L275.6,226.7 L275.4,225.4 L275.2,224.0 L275.1,222.5 L275.0,221.1 L275.1,219.6 L275.2,218.1 L275.5,216.4 Z" fill="#f9dcb6"/>
<path d="M295.2,205.8 L295.8,206.4 L296.4,207.0 L297.0,207.5 L297.5,208.1 L298.0,208.7 L298.5,209.2 L299.0,209.8 L299.4,210.3 L299.9,210.9 L300.3,211.4 L300.7,211.9 L301.0,212.4 L301.4,213.0 L301.7,213.5 L302.1,214.0 L302.4,214.5 L302.7,215.0 L303.0,215.6 L303.2,216.1 L303.5,216.6 L303.7,217.1 L303.9,217.7 L304.1,218.2 L304.3,218.8 L306.7,218.0 L309.1,217.2 L308.8,216.5 L308.6,215.8 L308.3,215.2 L308.0,214.5 L307.7,213.9 L307.4,213.3 L307.1,212.6 L306.7,212.0 L306.3,211.4 L305.9,210.8 L305.5,210.2 L305.1,209.6 L304.7,209.0 L304.2,208.4 L303.8,207.8 L303.3,207.2 L302.8,206.6 L302.3,205.9 L301.7,205.3 L301.2,204.7 L300.6,204.1 L300.0,203.5 L299.4,202.9 L298.8,202.2 Z" fill="#f9dcb6"/>
<path d="M317.2,203.2 L316.6,203.8 L316.0,204.4 L315.4,205.0 L314.8,205.6 L314.2,206.2 L313.6,206.8 L313.0,207.3 L312.4,207.9 L311.8,208.4 L311.2,209.0 L310.6,209.5 L310.1,210.1 L309.5,210.6 L309.0,211.2 L308.5,211.7 L308.0,212.3 L307.5,212.8 L307.0,213.4 L306.5,213.9 L306.1,214.5 L305.7,215.0 L305.3,215.6 L304.9,216.2 L304.6,216.7 L306.7,218.0 L308.8,219.3 L309.1,218.8 L309.4,218.4 L309.7,218.0 L310.0,217.5 L310.4,217.1 L310.8,216.6 L311.2,216.1 L311.6,215.7 L312.1,215.2 L312.6,214.7 L313.1,214.2 L313.6,213.7 L314.1,213.1 L314.7,212.6 L315.2,212.1 L315.8,211.5 L316.4,211.0 L317.0,210.4 L317.6,209.8 L318.2,209.2 L318.9,208.6 L319.5,208.0 L320.1,207.4 L320.8,206.8 Z" fill="#f9dcb6"/>
<path d="M304.0,217.4 L303.6,219.2 L303.2,221.0 L303.0,222.8 L302.8,224.7 L302.6,226.4 L302.6,228.2 L302.5,230.0 L302.6,231.7 L302.6,233.4 L302.7,235.0 L302.8,236.6 L303.0,238.2 L303.1,239.8 L303.3,241.3 L303.4,242.8 L303.5,244.3 L303.6,245.7 L303.7,247.1 L303.7,248.4 L303.7,249.7 L303.7,251.0 L303.6,252.2 L303.5,253.3 L303.3,254.8 L303.3,256.0 L303.3,257.0 L303.5,257.9 L303.6,258.8 L303.8,259.7 L304.1,260.6 L304.4,261.4 L304.8,262.3 L305.1,263.0 L305.6,263.8 L306.0,264.5 L306.5,265.3 L307.1,265.9 L307.6,266.6 L308.2,267.2 L308.8,267.9 L309.5,268.5 L310.1,269.0 L310.8,269.6 L311.5,270.2 L312.2,270.7 L312.9,271.2 L313.7,271.8 L314.5,272.3 L316.0,270.0 L317.5,267.7 L316.8,267.2 L316.1,266.8 L315.5,266.3 L314.9,265.8 L314.3,265.3 L313.7,264.9 L313.2,264.4 L312.7,263.9 L312.2,263.4 L311.7,263.0 L311.3,262.5 L311.0,262.0 L310.6,261.5 L310.3,261.0 L310.0,260.5 L309.8,260.0 L309.5,259.4 L309.3,258.9 L309.2,258.3 L309.0,257.7 L308.9,257.1 L308.8,256.4 L308.8,255.7 L308.7,255.2 L308.9,254.1 L309.1,252.7 L309.2,251.2 L309.2,249.8 L309.2,248.3 L309.2,246.8 L309.1,245.4 L309.0,243.9 L308.9,242.4 L308.7,240.8 L308.6,239.3 L308.5,237.8 L308.3,236.2 L308.2,234.7 L308.1,233.1 L308.1,231.5 L308.0,229.9 L308.1,228.4 L308.1,226.8 L308.2,225.2 L308.4,223.6 L308.7,221.9 L309.0,220.3 L309.4,218.6 Z" fill="#f9dcb6"/>
<path d="M330.7,205.1 L331.4,206.5 L332.1,207.9 L332.9,209.3 L333.7,210.7 L334.6,212.0 L335.5,213.4 L336.4,214.7 L337.4,216.0 L338.4,217.2 L339.4,218.5 L340.5,219.7 L341.5,220.9 L342.6,222.1 L343.7,223.2 L344.8,224.4 L345.9,225.5 L347.0,226.6 L348.2,227.7 L349.3,228.8 L350.4,229.9 L351.5,230.9 L352.7,232.0 L353.8,233.0 L354.8,234.0 L356.7,232.0 L358.6,230.0 L357.5,229.0 L356.4,228.0 L355.2,227.0 L354.1,225.9 L353.0,224.9 L351.9,223.9 L350.8,222.8 L349.7,221.7 L348.6,220.7 L347.5,219.6 L346.4,218.5 L345.4,217.4 L344.4,216.2 L343.4,215.1 L342.4,213.9 L341.5,212.8 L340.6,211.6 L339.7,210.4 L338.8,209.2 L338.0,208.0 L337.3,206.8 L336.6,205.5 L335.9,204.2 L335.3,202.9 Z" fill="#f9dcb6"/>
<path d="M371.9,203.6 L371.2,204.7 L370.4,205.9 L369.6,207.0 L368.9,208.2 L368.1,209.3 L367.4,210.5 L366.6,211.7 L365.8,212.8 L365.1,214.0 L364.3,215.2 L363.6,216.3 L362.9,217.5 L362.1,218.6 L361.4,219.8 L360.7,220.9 L360.0,222.0 L359.2,223.1 L358.5,224.2 L357.8,225.3 L357.1,226.4 L356.4,227.4 L355.8,228.5 L355.1,229.5 L354.4,230.5 L356.7,232.0 L359.0,233.5 L359.7,232.5 L360.3,231.4 L361.0,230.4 L361.7,229.3 L362.4,228.2 L363.1,227.1 L363.8,226.0 L364.5,224.9 L365.2,223.7 L365.9,222.6 L366.6,221.4 L367.3,220.3 L368.0,219.1 L368.8,217.9 L369.5,216.8 L370.2,215.6 L370.9,214.4 L371.7,213.3 L372.4,212.1 L373.1,210.9 L373.9,209.8 L374.6,208.7 L375.3,207.5 L376.1,206.4 Z" fill="#f9dcb6"/>
<path d="M354.1,231.1 L353.5,232.8 L352.9,234.5 L352.2,236.2 L351.6,237.8 L350.9,239.4 L350.2,241.1 L349.4,242.7 L348.7,244.3 L347.9,245.9 L347.1,247.5 L346.3,249.1 L345.4,250.6 L344.6,252.2 L343.7,253.8 L342.7,255.4 L341.8,257.1 L340.8,258.7 L339.9,260.3 L338.8,261.9 L337.8,263.6 L336.8,265.3 L335.7,266.9 L334.6,268.7 L333.5,270.4 L336.0,272.0 L338.5,273.6 L339.6,271.9 L340.7,270.1 L341.8,268.4 L342.8,266.7 L343.9,265.0 L344.9,263.3 L345.9,261.7 L346.8,260.0 L347.8,258.3 L348.7,256.7 L349.6,255.0 L350.5,253.4 L351.4,251.7 L352.2,250.0 L353.0,248.4 L353.8,246.7 L354.6,245.0 L355.3,243.3 L356.0,241.6 L356.7,239.9 L357.4,238.2 L358.1,236.4 L358.7,234.7 L359.3,232.9 Z" fill="#f9dcb6"/>
<path d="M324.4,251.6 L324.9,252.1 L325.3,252.5 L325.7,253.0 L326.1,253.5 L326.5,253.9 L326.9,254.4 L327.2,254.9 L327.6,255.3 L327.9,255.8 L328.2,256.3 L328.5,256.7 L328.8,257.2 L329.1,257.7 L329.4,258.1 L329.7,258.6 L330.0,259.1 L330.2,259.6 L330.5,260.1 L330.7,260.5 L331.0,261.0 L331.2,261.5 L331.5,262.0 L331.7,262.5 L332.0,263.0 L334.0,262.0 L336.0,261.0 L335.8,260.5 L335.5,260.0 L335.3,259.5 L335.0,259.0 L334.7,258.5 L334.5,257.9 L334.2,257.4 L333.9,256.9 L333.6,256.4 L333.3,255.9 L333.0,255.3 L332.7,254.8 L332.3,254.3 L332.0,253.7 L331.6,253.2 L331.2,252.7 L330.8,252.1 L330.4,251.6 L330.0,251.1 L329.6,250.5 L329.1,250.0 L328.6,249.5 L328.1,248.9 L327.6,248.4 Z" fill="#f9dcb6"/>
<path d="M338.3,286.2 L339.6,286.7 L340.8,287.1 L341.9,287.6 L343.1,288.0 L344.2,288.4 L345.3,288.8 L346.3,289.2 L347.3,289.6 L348.3,289.9 L349.3,290.2 L350.2,290.5 L351.1,290.8 L352.1,291.1 L352.9,291.4 L353.8,291.6 L354.7,291.9 L355.5,292.1 L356.4,292.3 L357.2,292.5 L358.0,292.7 L358.8,292.9 L359.7,293.0 L360.5,293.2 L361.2,293.3 L362.3,293.5 L363.4,293.8 L364.5,294.0 L365.6,294.3 L366.6,294.5 L367.6,294.8 L368.6,295.1 L369.6,295.4 L370.5,295.6 L371.4,295.9 L372.3,296.2 L373.2,296.5 L374.1,296.7 L374.9,297.0 L375.8,297.3 L376.6,297.5 L377.4,297.8 L378.3,298.0 L379.1,298.2 L379.9,298.5 L380.8,298.7 L381.6,298.8 L382.5,299.0 L383.0,299.1 L384.3,299.4 L385.8,299.8 L387.3,300.2 L388.8,300.6 L390.4,300.9 L392.0,301.3 L393.6,301.6 L395.2,302.0 L396.8,302.3 L398.4,302.6 L400.1,302.9 L401.8,303.2 L403.4,303.5 L405.1,303.7 L406.7,304.0 L408.3,304.2 L410.0,304.4 L411.6,304.6 L413.2,304.7 L414.7,304.8 L416.3,304.9 L417.8,305.0 L419.3,305.1 L420.7,305.1 L423.1,305.1 L425.4,305.1 L427.7,305.1 L430.0,305.0 L432.2,305.0 L434.4,305.0 L436.5,305.0 L438.6,305.0 L440.6,305.0 L442.6,305.0 L444.5,305.0 L446.4,305.0 L448.3,305.0 L450.1,305.0 L451.8,305.0 L453.5,305.0 L455.2,305.0 L456.8,305.0 L458.4,305.0 L459.9,305.0 L461.4,304.9 L462.9,304.9 L464.3,304.9 L465.7,304.9 L468.2,304.8 L470.6,304.6 L473.0,304.4 L475.3,304.2 L477.5,304.0 L479.7,303.8 L481.9,303.6 L484.0,303.4 L486.1,303.1 L488.1,302.9 L490.1,302.7 L492.1,302.4 L494.0,302.2 L495.8,302.0 L497.7,301.8 L499.5,301.6 L501.2,301.4 L502.9,301.2 L504.6,301.1 L506.2,301.0 L507.8,300.9 L509.4,300.8 L510.9,300.7 L512.4,300.7 L513.9,300.7 L515.4,300.7 L516.8,300.8 L518.3,300.8 L519.7,300.9 L521.1,301.0 L522.5,301.1 L523.8,301.2 L525.2,301.3 L526.5,301.4 L527.8,301.6 L529.1,301.7 L530.3,301.8 L531.5,301.9 L532.8,302.0 L534.0,302.2 L535.1,302.3 L536.3,302.4 L537.5,302.4 L538.6,302.5 L539.7,302.6 L540.8,302.6 L541.9,302.6 L542.8,302.6 L544.2,302.7 L545.7,302.9 L547.1,302.9 L548.5,303.0 L549.8,303.1 L551.1,303.2 L552.4,303.2 L553.7,303.3 L554.9,303.3 L556.1,303.4 L557.3,303.4 L558.5,303.4 L559.6,303.5 L560.7,303.5 L561.9,303.5 L563.0,303.5 L564.0,303.5 L565.1,303.5 L566.2,303.5 L567.3,303.5 L568.3,303.5 L569.4,303.5 L570.4,303.5 L571.5,303.5 L571.5,300.0 L571.5,296.5 L570.4,296.5 L569.4,296.5 L568.3,296.5 L567.3,296.5 L566.2,296.5 L565.2,296.4 L564.1,296.4 L563.0,296.4 L562.0,296.4 L560.9,296.4 L559.8,296.3 L558.7,296.3 L557.5,296.3 L556.4,296.2 L555.2,296.2 L554.0,296.1 L552.8,296.0 L551.5,296.0 L550.2,295.9 L548.9,295.8 L547.6,295.7 L546.2,295.6 L544.8,295.5 L543.2,295.4 L542.1,295.3 L541.1,295.3 L540.1,295.3 L539.1,295.2 L538.0,295.1 L536.9,295.0 L535.8,294.9 L534.7,294.8 L533.5,294.7 L532.3,294.6 L531.1,294.4 L529.8,294.3 L528.5,294.2 L527.2,294.0 L525.8,293.9 L524.5,293.8 L523.1,293.6 L521.6,293.5 L520.2,293.4 L518.7,293.3 L517.2,293.3 L515.6,293.2 L514.0,293.1 L512.4,293.1 L510.7,293.1 L509.1,293.2 L507.4,293.3 L505.7,293.4 L504.0,293.5 L502.2,293.6 L500.5,293.8 L498.7,294.0 L496.8,294.2 L495.0,294.4 L493.1,294.6 L491.2,294.8 L489.2,295.0 L487.3,295.2 L485.2,295.4 L483.2,295.7 L481.1,295.9 L479.0,296.1 L476.8,296.3 L474.6,296.5 L472.4,296.6 L470.1,296.8 L467.8,296.9 L465.5,297.1 L464.3,297.1 L462.9,297.1 L461.4,297.1 L459.9,297.0 L458.4,297.0 L456.8,297.0 L455.2,297.0 L453.5,297.0 L451.8,297.0 L450.1,297.0 L448.3,297.0 L446.4,297.0 L444.5,297.0 L442.6,297.0 L440.6,297.0 L438.6,297.0 L436.5,297.0 L434.4,297.0 L432.2,297.0 L430.0,297.0 L427.7,296.9 L425.4,296.9 L423.1,296.9 L420.7,296.9 L419.4,296.9 L418.1,296.9 L416.7,296.8 L415.3,296.7 L413.9,296.6 L412.4,296.4 L410.9,296.2 L409.4,296.0 L407.9,295.8 L406.3,295.6 L404.7,295.3 L403.2,295.0 L401.6,294.8 L400.0,294.5 L398.4,294.1 L396.9,293.8 L395.3,293.5 L393.8,293.1 L392.3,292.8 L390.8,292.4 L389.3,292.0 L387.9,291.7 L386.5,291.3 L385.0,290.9 L384.0,290.7 L383.4,290.6 L382.7,290.4 L382.0,290.2 L381.3,290.1 L380.6,289.8 L379.9,289.6 L379.1,289.4 L378.3,289.1 L377.5,288.9 L376.7,288.6 L375.8,288.3 L374.9,288.0 L374.0,287.7 L373.0,287.4 L372.1,287.1 L371.0,286.8 L370.0,286.5 L368.9,286.2 L367.8,285.9 L366.6,285.6 L365.4,285.3 L364.1,285.0 L362.8,284.7 L362.0,284.6 L361.3,284.4 L360.6,284.3 L359.9,284.1 L359.2,284.0 L358.5,283.8 L357.8,283.6 L357.0,283.4 L356.3,283.2 L355.5,282.9 L354.7,282.7 L353.9,282.4 L353.0,282.1 L352.1,281.8 L351.2,281.5 L350.3,281.2 L349.4,280.8 L348.4,280.5 L347.3,280.1 L346.3,279.7 L345.2,279.2 L344.1,278.8 L342.9,278.3 L341.7,277.8 Z" fill="#f9dcb6"/>
<path d="M374.4,244.3 L375.0,245.7 L375.4,247.0 L375.8,248.3 L376.2,249.7 L376.4,251.0 L376.6,252.3 L376.8,253.6 L376.9,255.0 L377.0,256.3 L377.0,257.7 L377.0,259.0 L377.0,260.4 L376.9,261.7 L376.9,263.1 L376.8,264.5 L376.8,265.9 L376.7,267.3 L376.7,268.7 L376.7,270.2 L376.7,271.6 L376.8,273.1 L376.9,274.5 L377.1,276.0 L377.3,277.4 L380.0,277.0 L382.7,276.6 L382.5,275.2 L382.3,274.0 L382.2,272.7 L382.1,271.4 L382.1,270.1 L382.1,268.7 L382.1,267.4 L382.1,266.0 L382.1,264.7 L382.2,263.3 L382.2,261.9 L382.2,260.5 L382.2,259.0 L382.2,257.6 L382.1,256.1 L382.0,254.6 L381.9,253.1 L381.7,251.6 L381.5,250.1 L381.1,248.5 L380.7,247.0 L380.2,245.4 L379.7,243.8 L379.0,242.3 Z" fill="#f9dcb6"/>
<path d="M403.3,259.8 L402.5,260.6 L401.6,261.4 L400.7,262.1 L399.9,262.8 L399.1,263.6 L398.2,264.3 L397.4,265.0 L396.6,265.7 L395.8,266.4 L395.0,267.1 L394.2,267.7 L393.5,268.4 L392.7,269.1 L391.9,269.7 L391.2,270.4 L390.4,271.1 L389.7,271.7 L389.0,272.4 L388.3,273.0 L387.5,273.7 L386.8,274.4 L386.1,275.0 L385.4,275.7 L384.8,276.3 L386.7,278.3 L388.6,280.3 L389.3,279.6 L389.9,278.9 L390.6,278.3 L391.3,277.6 L391.9,277.0 L392.6,276.3 L393.3,275.7 L394.0,275.0 L394.8,274.4 L395.5,273.7 L396.2,273.0 L397.0,272.3 L397.7,271.7 L398.5,271.0 L399.2,270.3 L400.0,269.6 L400.8,268.9 L401.6,268.1 L402.4,267.4 L403.3,266.7 L404.1,265.9 L404.9,265.1 L405.8,264.4 L406.7,263.6 Z" fill="#f9dcb6"/>
<path d="M412.6,210.9 L413.3,211.7 L413.9,212.5 L414.5,213.3 L415.1,214.0 L415.6,214.8 L416.2,215.6 L416.7,216.3 L417.1,217.1 L417.6,217.8 L418.1,218.5 L418.5,219.2 L418.9,219.9 L419.3,220.6 L419.7,221.2 L420.0,221.8 L420.4,222.5 L420.7,223.1 L421.0,223.6 L421.3,224.2 L421.6,224.7 L421.8,225.3 L422.1,225.8 L422.3,226.3 L422.6,226.7 L424.8,225.6 L427.0,224.5 L426.8,224.0 L426.6,223.5 L426.3,223.0 L426.0,222.5 L425.7,221.9 L425.4,221.3 L425.1,220.7 L424.8,220.1 L424.4,219.4 L424.0,218.7 L423.6,218.0 L423.2,217.3 L422.8,216.6 L422.3,215.9 L421.8,215.1 L421.3,214.3 L420.8,213.6 L420.3,212.8 L419.7,211.9 L419.1,211.1 L418.5,210.3 L417.9,209.4 L417.2,208.6 L416.6,207.7 Z" fill="#f9dcb6"/>
<path d="M435.8,215.2 L435.2,215.5 L434.6,215.9 L433.9,216.2 L433.3,216.6 L432.7,216.9 L432.1,217.3 L431.6,217.6 L431.0,218.0 L430.4,218.4 L429.9,218.7 L429.3,219.1 L428.8,219.4 L428.3,219.8 L427.8,220.2 L427.3,220.5 L426.8,220.9 L426.3,221.2 L425.8,221.6 L425.4,222.0 L424.9,222.3 L424.5,222.6 L424.1,223.0 L423.6,223.3 L423.2,223.7 L424.8,225.6 L426.4,227.5 L426.8,227.2 L427.2,226.9 L427.6,226.6 L428.0,226.2 L428.4,225.9 L428.9,225.6 L429.3,225.2 L429.8,224.9 L430.2,224.6 L430.7,224.2 L431.2,223.9 L431.6,223.6 L432.1,223.2 L432.6,222.9 L433.2,222.5 L433.7,222.2 L434.2,221.9 L434.7,221.5 L435.3,221.2 L435.8,220.9 L436.4,220.6 L437.0,220.2 L437.6,219.9 L438.2,219.6 Z" fill="#f9dcb6"/>
<path d="M422.2,227.0 L422.8,228.2 L423.4,229.3 L424.0,230.4 L424.6,231.5 L425.1,232.5 L425.6,233.6 L426.1,234.6 L426.6,235.5 L427.1,236.5 L427.5,237.4 L428.0,238.3 L428.4,239.1 L428.8,240.0 L429.2,240.8 L429.6,241.5 L429.9,242.3 L430.3,243.0 L430.6,243.7 L430.9,244.4 L431.2,245.0 L431.5,245.7 L431.8,246.2 L432.1,246.8 L432.3,247.3 L432.6,247.9 L432.9,248.4 L433.1,248.9 L433.4,249.4 L433.7,249.8 L434.0,250.3 L434.3,250.7 L434.5,251.1 L434.8,251.5 L435.1,251.9 L435.4,252.3 L435.7,252.6 L435.9,253.0 L436.2,253.3 L436.5,253.6 L436.8,253.9 L437.0,254.2 L437.3,254.5 L437.6,254.8 L437.8,255.1 L438.1,255.4 L438.4,255.6 L438.6,255.9 L438.9,256.1 L441.0,254.0 L443.1,251.9 L442.9,251.6 L442.6,251.4 L442.4,251.1 L442.2,250.9 L441.9,250.7 L441.7,250.4 L441.5,250.2 L441.2,249.9 L441.0,249.7 L440.8,249.4 L440.6,249.1 L440.3,248.9 L440.1,248.6 L439.9,248.3 L439.7,248.0 L439.5,247.7 L439.2,247.4 L439.0,247.0 L438.8,246.7 L438.6,246.3 L438.4,245.9 L438.1,245.5 L437.9,245.1 L437.7,244.7 L437.4,244.2 L437.2,243.6 L436.9,243.1 L436.6,242.5 L436.3,241.8 L436.0,241.2 L435.7,240.5 L435.3,239.7 L435.0,239.0 L434.6,238.2 L434.2,237.4 L433.8,236.5 L433.4,235.6 L432.9,234.7 L432.5,233.8 L432.0,232.8 L431.5,231.8 L431.0,230.8 L430.4,229.8 L429.9,228.7 L429.3,227.6 L428.7,226.5 L428.1,225.3 L427.4,224.2 Z" fill="#f9dcb6"/>
<path d="M433.7,243.9 L432.5,244.6 L431.2,245.4 L430.0,246.1 L428.7,246.9 L427.5,247.6 L426.3,248.3 L425.0,249.1 L423.8,249.8 L422.6,250.5 L421.4,251.3 L420.2,252.0 L419.0,252.7 L417.8,253.4 L416.6,254.0 L415.4,254.7 L414.3,255.4 L413.1,256.0 L412.0,256.6 L410.9,257.2 L409.7,257.8 L408.6,258.4 L407.6,259.0 L406.5,259.5 L405.7,260.0 L405.0,260.1 L403.9,260.3 L402.9,260.5 L401.9,260.7 L400.8,260.9 L399.8,261.1 L398.8,261.3 L397.8,261.4 L396.8,261.6 L395.8,261.7 L394.8,261.9 L393.8,262.0 L392.8,262.1 L391.8,262.3 L390.8,262.4 L389.8,262.5 L388.8,262.6 L387.8,262.7 L386.8,262.8 L385.9,262.8 L384.9,262.9 L383.9,263.0 L382.9,263.0 L381.9,263.1 L382.0,265.3 L382.1,267.5 L383.1,267.5 L384.1,267.5 L385.1,267.4 L386.2,267.4 L387.2,267.3 L388.2,267.2 L389.2,267.1 L390.2,267.0 L391.3,266.9 L392.3,266.8 L393.3,266.7 L394.4,266.6 L395.4,266.5 L396.4,266.3 L397.5,266.2 L398.5,266.0 L399.6,265.9 L400.6,265.7 L401.7,265.5 L402.7,265.3 L403.8,265.2 L404.8,265.0 L405.9,264.7 L407.3,264.4 L408.6,263.8 L409.7,263.2 L410.9,262.7 L412.0,262.1 L413.1,261.5 L414.3,260.9 L415.4,260.2 L416.6,259.6 L417.8,258.9 L419.0,258.3 L420.2,257.6 L421.4,256.9 L422.6,256.2 L423.8,255.5 L425.1,254.8 L426.3,254.1 L427.5,253.3 L428.8,252.6 L430.0,251.9 L431.3,251.1 L432.5,250.4 L433.8,249.6 L435.0,248.9 L436.3,248.1 Z" fill="#f9dcb6"/>
<path d="M443.0,255.5 L444.1,254.0 L445.2,252.6 L446.4,251.2 L447.5,249.8 L448.6,248.4 L449.8,247.1 L450.9,245.7 L452.1,244.5 L453.2,243.2 L454.4,242.0 L455.6,240.9 L456.7,239.7 L457.9,238.6 L459.1,237.6 L460.3,236.6 L461.4,235.6 L462.6,234.7 L463.8,233.8 L464.9,233.0 L466.1,232.3 L467.2,231.6 L468.3,230.9 L469.5,230.3 L470.7,229.7 L471.2,229.4 L471.4,229.3 L471.6,229.1 L471.9,229.0 L472.1,228.9 L472.3,228.7 L472.5,228.6 L472.8,228.5 L473.0,228.5 L473.2,228.4 L473.4,228.3 L473.6,228.2 L473.9,228.2 L474.1,228.1 L474.4,228.1 L474.6,228.0 L474.9,228.0 L475.1,228.0 L475.4,227.9 L475.7,227.9 L476.0,227.9 L476.3,227.9 L476.7,227.9 L477.0,227.8 L477.0,225.6 L477.0,223.4 L476.6,223.3 L476.2,223.3 L475.8,223.4 L475.4,223.4 L475.1,223.4 L474.7,223.4 L474.3,223.5 L474.0,223.5 L473.6,223.5 L473.2,223.6 L472.9,223.7 L472.5,223.8 L472.1,223.9 L471.8,224.0 L471.4,224.1 L471.1,224.2 L470.7,224.3 L470.4,224.5 L470.0,224.6 L469.7,224.8 L469.3,225.0 L469.0,225.2 L468.6,225.4 L468.5,225.5 L467.3,226.1 L466.0,226.7 L464.8,227.4 L463.5,228.2 L462.2,229.1 L460.9,229.9 L459.7,230.9 L458.4,231.8 L457.2,232.9 L455.9,233.9 L454.6,235.0 L453.4,236.2 L452.2,237.4 L450.9,238.6 L449.7,239.8 L448.5,241.1 L447.3,242.5 L446.1,243.8 L444.9,245.2 L443.7,246.6 L442.5,248.0 L441.3,249.5 L440.2,251.0 L439.0,252.5 Z" fill="#f9dcb6"/>
<path d="M438.7,255.9 L439.7,257.2 L440.8,258.6 L441.8,260.0 L442.8,261.4 L443.8,262.8 L444.7,264.2 L445.6,265.6 L446.5,267.0 L447.4,268.5 L448.3,269.9 L449.1,271.3 L450.0,272.7 L450.8,274.1 L451.6,275.5 L452.4,276.9 L453.1,278.3 L453.9,279.6 L454.6,280.9 L455.4,282.2 L456.1,283.5 L456.8,284.8 L457.5,286.0 L458.3,287.2 L458.9,288.3 L459.2,288.7 L459.5,289.3 L459.8,289.8 L460.1,290.3 L460.4,290.8 L460.7,291.3 L461.0,291.7 L461.3,292.2 L461.5,292.6 L461.8,293.1 L462.0,293.5 L462.3,293.9 L462.5,294.4 L462.8,294.8 L463.0,295.2 L463.2,295.6 L463.4,296.1 L463.6,296.5 L463.8,296.9 L464.0,297.3 L464.2,297.8 L464.4,298.2 L464.6,298.7 L464.8,299.1 L467.6,298.0 L470.4,296.9 L470.2,296.4 L469.9,295.8 L469.7,295.3 L469.5,294.8 L469.3,294.3 L469.0,293.8 L468.8,293.3 L468.5,292.9 L468.3,292.4 L468.0,291.9 L467.8,291.4 L467.5,291.0 L467.2,290.5 L467.0,290.1 L466.7,289.6 L466.4,289.1 L466.1,288.7 L465.9,288.2 L465.6,287.7 L465.3,287.2 L465.0,286.7 L464.7,286.2 L464.4,285.7 L464.1,285.1 L463.4,284.0 L462.7,282.9 L462.0,281.7 L461.3,280.5 L460.6,279.3 L459.9,278.0 L459.1,276.7 L458.4,275.3 L457.6,274.0 L456.8,272.6 L456.0,271.1 L455.2,269.7 L454.3,268.3 L453.4,266.8 L452.6,265.3 L451.6,263.8 L450.7,262.4 L449.7,260.9 L448.7,259.4 L447.7,257.9 L446.7,256.4 L445.6,255.0 L444.5,253.5 L443.3,252.1 Z" fill="#f9dcb6"/>
<path d="M473.9,262.4 L475.1,261.7 L476.2,261.1 L477.4,260.5 L478.5,259.9 L479.7,259.4 L480.8,258.8 L482.0,258.2 L483.2,257.7 L484.4,257.2 L485.6,256.7 L486.7,256.3 L487.9,255.8 L489.1,255.4 L490.3,255.0 L491.5,254.6 L492.7,254.3 L493.9,253.9 L495.2,253.6 L496.4,253.3 L497.6,253.1 L498.8,252.9 L500.0,252.7 L501.2,252.5 L502.3,252.4 L503.1,252.4 L504.0,252.4 L504.9,252.4 L505.8,252.5 L506.6,252.6 L507.5,252.7 L508.3,252.8 L509.1,252.9 L510.0,253.0 L510.8,253.2 L511.6,253.3 L512.4,253.5 L513.2,253.7 L514.0,253.9 L514.8,254.1 L515.6,254.3 L516.5,254.5 L517.3,254.7 L518.1,255.0 L518.9,255.2 L519.8,255.4 L520.6,255.7 L521.5,255.9 L522.4,256.2 L523.0,254.0 L523.6,251.8 L522.8,251.6 L521.9,251.3 L521.0,251.1 L520.2,250.8 L519.4,250.6 L518.5,250.3 L517.7,250.1 L516.8,249.9 L516.0,249.6 L515.1,249.4 L514.3,249.2 L513.4,249.0 L512.5,248.8 L511.7,248.6 L510.8,248.4 L509.9,248.3 L509.0,248.1 L508.0,248.0 L507.1,247.9 L506.2,247.8 L505.2,247.7 L504.2,247.7 L503.2,247.6 L502.1,247.6 L500.6,247.8 L499.3,248.0 L498.0,248.2 L496.7,248.4 L495.4,248.7 L494.0,248.9 L492.7,249.3 L491.4,249.6 L490.1,250.0 L488.8,250.4 L487.6,250.8 L486.3,251.2 L485.0,251.7 L483.8,252.2 L482.5,252.7 L481.2,253.2 L480.0,253.8 L478.8,254.3 L477.5,254.9 L476.3,255.5 L475.1,256.1 L473.9,256.7 L472.7,257.4 L471.5,258.0 Z" fill="#f9dcb6"/>
<path d="M499.7,250.3 L499.8,251.1 L499.9,251.8 L500.1,252.6 L500.2,253.3 L500.3,254.1 L500.4,254.8 L500.5,255.6 L500.6,256.3 L500.8,257.1 L500.9,257.8 L501.0,258.6 L501.1,259.3 L501.2,260.1 L501.3,260.8 L501.4,261.6 L501.5,262.3 L501.6,263.1 L501.7,263.8 L501.7,264.6 L501.8,265.4 L501.9,266.1 L501.9,266.9 L502.0,267.6 L502.1,268.4 L504.3,268.3 L506.5,268.2 L506.5,267.4 L506.5,266.6 L506.4,265.8 L506.4,265.0 L506.3,264.2 L506.3,263.4 L506.2,262.6 L506.1,261.8 L506.0,261.1 L506.0,260.3 L505.9,259.5 L505.8,258.7 L505.7,258.0 L505.6,257.2 L505.5,256.4 L505.4,255.7 L505.3,254.9 L505.2,254.2 L505.1,253.4 L505.0,252.7 L505.0,251.9 L504.9,251.2 L504.8,250.4 L504.7,249.7 Z" fill="#f9dcb6"/>
<path d="M480.0,281.7 L480.6,280.7 L481.1,279.6 L481.6,278.6 L482.1,277.7 L482.5,276.7 L483.0,275.8 L483.5,274.9 L484.0,274.1 L484.5,273.3 L485.0,272.4 L485.5,271.7 L486.0,270.9 L486.4,270.2 L486.9,269.5 L487.4,268.8 L487.9,268.2 L488.3,267.5 L488.8,266.9 L489.3,266.4 L489.7,265.8 L490.2,265.3 L490.6,264.8 L491.1,264.3 L491.6,263.8 L490.0,262.2 L488.4,260.6 L487.9,261.1 L487.4,261.6 L486.8,262.2 L486.3,262.8 L485.7,263.4 L485.2,264.0 L484.7,264.7 L484.1,265.3 L483.6,266.0 L483.1,266.8 L482.5,267.5 L482.0,268.3 L481.5,269.1 L480.9,269.9 L480.4,270.8 L479.9,271.6 L479.3,272.5 L478.8,273.4 L478.3,274.4 L477.7,275.4 L477.2,276.4 L476.6,277.4 L476.1,278.4 L475.6,279.5 Z" fill="#f9dcb6"/>
<path d="M449.4,288.4 L450.0,289.0 L450.6,289.7 L451.2,290.4 L451.8,291.0 L452.4,291.7 L453.0,292.3 L453.7,293.0 L454.3,293.6 L454.9,294.2 L455.5,294.9 L456.1,295.5 L456.7,296.1 L457.3,296.7 L457.9,297.3 L458.6,297.9 L459.2,298.5 L459.8,299.1 L460.4,299.6 L461.0,300.2 L461.6,300.8 L462.2,301.3 L462.8,301.8 L463.4,302.4 L464.0,302.9 L465.6,301.0 L467.2,299.1 L466.7,298.6 L466.1,298.1 L465.5,297.6 L465.0,297.1 L464.4,296.5 L463.8,296.0 L463.2,295.4 L462.6,294.9 L462.0,294.3 L461.4,293.7 L460.8,293.2 L460.3,292.6 L459.7,292.0 L459.1,291.4 L458.5,290.8 L457.9,290.1 L457.3,289.5 L456.7,288.9 L456.1,288.3 L455.5,287.6 L454.9,287.0 L454.3,286.3 L453.8,285.7 L453.2,285.0 Z" fill="#f9dcb6"/>
<path d="M514.4,296.3 L515.3,295.1 L516.3,293.9 L517.3,292.6 L518.3,291.4 L519.3,290.1 L520.4,288.9 L521.4,287.6 L522.5,286.3 L523.6,285.0 L524.7,283.8 L525.8,282.5 L526.9,281.2 L528.1,280.0 L529.2,278.7 L530.3,277.5 L531.5,276.2 L532.6,275.0 L533.8,273.8 L534.9,272.6 L536.1,271.4 L537.2,270.3 L538.3,269.1 L539.5,268.0 L540.6,266.9 L539.0,265.3 L537.4,263.7 L536.3,264.8 L535.1,265.9 L534.0,267.1 L532.8,268.2 L531.6,269.4 L530.5,270.6 L529.3,271.8 L528.1,273.0 L526.9,274.3 L525.7,275.5 L524.6,276.8 L523.4,278.0 L522.3,279.3 L521.1,280.6 L520.0,281.9 L518.8,283.1 L517.7,284.4 L516.6,285.7 L515.6,287.0 L514.5,288.3 L513.4,289.5 L512.4,290.8 L511.4,292.0 L510.4,293.3 Z" fill="#f9dcb6"/>
<path d="M427.2,311.5 L428.2,311.4 L429.2,311.2 L430.2,311.1 L431.2,311.0 L432.2,310.9 L433.3,310.9 L434.3,310.8 L435.3,310.7 L436.4,310.6 L437.4,310.6 L438.4,310.5 L439.5,310.5 L440.5,310.5 L441.5,310.4 L442.5,310.4 L443.6,310.4 L444.6,310.3 L445.6,310.3 L446.6,310.3 L447.5,310.3 L448.5,310.3 L449.4,310.3 L450.4,310.3 L451.3,310.2 L451.3,308.0 L451.3,305.8 L450.4,305.7 L449.4,305.7 L448.5,305.7 L447.5,305.7 L446.5,305.7 L445.5,305.7 L444.5,305.7 L443.5,305.7 L442.5,305.7 L441.4,305.7 L440.4,305.7 L439.3,305.8 L438.3,305.8 L437.2,305.8 L436.1,305.8 L435.1,305.9 L434.0,305.9 L432.9,306.0 L431.9,306.1 L430.8,306.1 L429.7,306.2 L428.7,306.3 L427.6,306.4 L426.6,306.5 Z" fill="#f9dcb6"/>
<ellipse cx="362" cy="289" rx="24" ry="10" transform="rotate(10 362 289)" fill="#f9dcb6"/>
<ellipse cx="362" cy="289" rx="16" ry="7" fill="#fff6ec" filter="url(#blur6)"/>
<ellipse cx="361" cy="287.5" rx="9.5" ry="5.5" fill="url(#nucG)" stroke="#5e4e9e" stroke-width="1.2"/>
<path d="M557.3,318.9 L557.9,317.2 L558.4,315.5 L558.9,313.9 L559.3,312.3 L559.7,310.8 L560.0,309.2 L560.2,307.8 L560.5,306.3 L560.7,304.9 L560.9,303.5 L561.1,302.1 L561.3,300.7 L561.5,299.4 L561.7,298.1 L561.9,296.8 L562.2,295.6 L562.4,294.3 L562.7,293.1 L563.1,291.9 L563.5,290.7 L563.9,289.5 L564.4,288.3 L565.0,287.2 L565.6,286.0 L566.0,285.4 L566.4,284.8 L566.8,284.4 L567.2,283.9 L567.6,283.6 L568.0,283.3 L568.3,283.2 L568.5,283.0 L568.7,283.0 L568.9,282.9 L569.0,282.9 L569.0,282.9 L569.1,283.0 L569.3,283.1 L569.4,283.2 L569.6,283.5 L569.7,283.9 L569.9,284.4 L570.0,285.0 L570.1,285.8 L570.1,286.6 L570.0,287.5 L569.9,288.6 L569.7,289.8 L571.0,290.0 L572.3,290.2 L572.5,289.0 L572.7,287.8 L572.8,286.7 L572.9,285.7 L572.8,284.8 L572.7,283.9 L572.6,283.1 L572.3,282.3 L572.0,281.7 L571.6,281.0 L571.1,280.5 L570.5,280.1 L569.8,279.8 L569.0,279.6 L568.3,279.6 L567.6,279.8 L566.9,280.0 L566.2,280.3 L565.5,280.8 L564.9,281.2 L564.2,281.8 L563.6,282.4 L563.0,283.2 L562.4,284.0 L561.6,285.3 L560.9,286.7 L560.3,288.0 L559.7,289.3 L559.2,290.6 L558.8,292.0 L558.4,293.3 L558.1,294.6 L557.8,296.0 L557.5,297.3 L557.2,298.7 L557.0,300.0 L556.7,301.4 L556.5,302.7 L556.2,304.1 L556.0,305.5 L555.7,306.9 L555.4,308.3 L555.0,309.7 L554.7,311.1 L554.2,312.6 L553.8,314.1 L553.3,315.6 L552.7,317.1 Z" fill="none" stroke="#d59a6c" stroke-width="2.6" stroke-linejoin="round"/>
<path d="M576.8,321.7 L578.4,319.9 L579.8,318.2 L581.2,316.5 L582.4,314.9 L583.5,313.3 L584.5,311.7 L585.5,310.2 L586.3,308.7 L586.9,307.3 L587.5,305.9 L588.0,304.5 L588.3,303.1 L588.6,301.7 L588.7,300.4 L588.7,299.1 L588.6,297.8 L588.4,296.5 L588.1,295.3 L587.6,294.0 L587.1,292.8 L586.5,291.7 L585.8,290.5 L584.9,289.3 L584.0,288.2 L583.0,289.0 L582.0,289.8 L582.7,290.9 L583.4,292.0 L583.9,293.0 L584.4,294.1 L584.7,295.1 L585.0,296.1 L585.2,297.1 L585.2,298.1 L585.2,299.1 L585.1,300.1 L584.9,301.1 L584.7,302.2 L584.3,303.2 L583.8,304.4 L583.2,305.5 L582.6,306.7 L581.8,308.0 L580.9,309.3 L579.9,310.7 L578.8,312.1 L577.5,313.5 L576.2,315.1 L574.7,316.6 L573.2,318.3 Z" fill="none" stroke="#d59a6c" stroke-width="2.6" stroke-linejoin="round"/>
<path d="M588.5,337.5 L590.1,337.1 L591.7,336.9 L593.3,336.7 L594.8,336.6 L596.2,336.5 L597.7,336.5 L599.1,336.6 L600.5,336.7 L601.9,336.8 L603.3,336.9 L604.6,337.1 L605.9,337.3 L607.2,337.5 L608.5,337.7 L609.7,337.9 L610.9,338.0 L612.2,338.2 L613.4,338.3 L614.6,338.4 L615.8,338.4 L617.0,338.4 L618.1,338.3 L619.3,338.1 L620.4,337.9 L620.8,337.7 L621.1,337.7 L621.5,337.6 L621.8,337.6 L622.1,337.6 L622.4,337.7 L622.7,337.7 L622.9,337.8 L623.2,337.9 L623.5,338.1 L623.8,338.2 L624.0,338.4 L624.3,338.7 L624.6,338.9 L624.9,339.2 L625.1,339.6 L625.4,339.9 L625.6,340.3 L625.8,340.7 L626.0,341.2 L626.2,341.7 L626.4,342.2 L626.6,342.7 L626.7,343.3 L628.0,343.0 L629.3,342.7 L629.2,342.1 L629.0,341.4 L628.8,340.8 L628.6,340.2 L628.4,339.6 L628.2,339.0 L627.9,338.5 L627.6,337.9 L627.3,337.4 L627.0,336.9 L626.6,336.5 L626.2,336.1 L625.8,335.7 L625.3,335.3 L624.8,335.0 L624.3,334.7 L623.8,334.5 L623.2,334.3 L622.6,334.1 L622.0,334.0 L621.4,334.0 L620.8,334.0 L620.2,334.0 L619.6,334.1 L618.7,334.3 L617.8,334.4 L616.8,334.4 L615.9,334.4 L614.9,334.3 L613.8,334.2 L612.7,334.1 L611.6,333.9 L610.4,333.7 L609.2,333.4 L607.9,333.2 L606.6,333.0 L605.3,332.7 L603.9,332.5 L602.4,332.3 L601.0,332.1 L599.4,331.9 L597.9,331.8 L596.2,331.8 L594.6,331.8 L592.9,331.8 L591.1,332.0 L589.3,332.2 L587.5,332.5 Z" fill="none" stroke="#d59a6c" stroke-width="2.6" stroke-linejoin="round"/>
<path d="M594.5,380.4 L595.4,380.2 L596.3,380.1 L597.1,380.0 L597.9,379.9 L598.7,379.9 L599.4,379.9 L600.2,380.0 L601.0,380.1 L601.8,380.2 L602.5,380.3 L603.3,380.4 L604.1,380.5 L604.8,380.7 L605.6,380.8 L606.3,380.9 L607.1,381.0 L607.8,381.0 L608.6,381.0 L609.4,381.0 L610.2,380.9 L610.9,380.7 L611.7,380.4 L612.4,380.0 L613.0,379.6 L613.2,379.4 L613.4,379.4 L613.5,379.3 L613.5,379.3 L613.5,379.2 L613.5,379.2 L613.6,379.2 L613.6,379.2 L613.7,379.3 L613.8,379.3 L614.0,379.5 L614.1,379.6 L614.2,379.9 L614.4,380.1 L614.5,380.5 L614.6,380.8 L614.7,381.2 L614.8,381.6 L614.8,382.1 L614.9,382.6 L614.9,383.1 L614.8,383.6 L614.8,384.2 L614.7,384.8 L616.0,385.0 L617.3,385.2 L617.4,384.6 L617.5,383.9 L617.6,383.3 L617.7,382.6 L617.7,382.0 L617.7,381.4 L617.6,380.8 L617.5,380.2 L617.4,379.7 L617.3,379.1 L617.1,378.6 L616.9,378.1 L616.6,377.6 L616.3,377.2 L616.0,376.8 L615.6,376.4 L615.1,376.1 L614.5,375.9 L613.9,375.7 L613.3,375.7 L612.7,375.7 L612.1,375.9 L611.5,376.1 L611.0,376.4 L610.5,376.7 L610.2,376.8 L609.9,376.9 L609.5,376.9 L609.1,376.9 L608.6,376.9 L608.1,376.9 L607.6,376.8 L607.0,376.7 L606.4,376.6 L605.7,376.4 L604.9,376.2 L604.2,376.0 L603.4,375.9 L602.5,375.7 L601.7,375.5 L600.8,375.4 L599.8,375.2 L598.8,375.2 L597.8,375.1 L596.7,375.1 L595.7,375.2 L594.5,375.4 L593.5,375.6 Z" fill="none" stroke="#d59a6c" stroke-width="2.6" stroke-linejoin="round"/>
<path d="M589.1,402.3 L590.4,402.8 L591.7,403.2 L592.9,403.5 L594.1,403.7 L595.3,403.9 L596.5,404.1 L597.6,404.2 L598.7,404.2 L599.7,404.1 L600.7,404.0 L601.7,403.8 L602.7,403.6 L603.6,403.3 L604.5,403.0 L605.3,402.5 L606.1,402.1 L606.8,401.6 L607.6,401.0 L608.2,400.4 L608.9,399.7 L609.5,399.0 L610.0,398.3 L610.6,397.5 L611.1,396.7 L610.0,396.0 L608.9,395.3 L608.4,395.9 L607.9,396.5 L607.3,397.1 L606.8,397.6 L606.2,398.0 L605.6,398.4 L605.0,398.8 L604.4,399.1 L603.8,399.4 L603.2,399.6 L602.5,399.8 L601.8,399.9 L601.1,400.0 L600.4,400.0 L599.6,400.0 L598.8,400.0 L598.0,399.9 L597.1,399.7 L596.2,399.5 L595.2,399.3 L594.2,399.0 L593.2,398.6 L592.1,398.2 L590.9,397.7 Z" fill="none" stroke="#d59a6c" stroke-width="2.6" stroke-linejoin="round"/>
<path d="M547.5,428.3 L547.8,429.8 L547.9,431.1 L548.0,432.5 L548.1,433.8 L548.1,435.1 L548.0,436.4 L547.9,437.7 L547.7,439.1 L547.5,440.4 L547.3,441.7 L547.0,443.0 L546.7,444.4 L546.3,445.7 L546.0,447.0 L545.6,448.4 L545.3,449.7 L544.9,451.1 L544.5,452.4 L544.2,453.8 L543.8,455.2 L543.5,456.6 L543.2,457.9 L542.9,459.4 L542.7,460.7 L544.0,461.0 L545.3,461.3 L545.6,459.9 L545.9,458.6 L546.3,457.3 L546.7,456.0 L547.1,454.7 L547.6,453.4 L548.0,452.0 L548.5,450.7 L549.0,449.4 L549.4,448.1 L549.9,446.7 L550.3,445.4 L550.8,444.0 L551.1,442.6 L551.5,441.2 L551.8,439.8 L552.1,438.4 L552.4,436.9 L552.6,435.4 L552.7,433.9 L552.7,432.4 L552.7,430.8 L552.6,429.2 L552.5,427.7 Z" fill="none" stroke="#d59a6c" stroke-width="2.6" stroke-linejoin="round"/>
<path d="M483.5,426.0 L482.2,427.1 L480.9,428.1 L479.7,429.2 L478.5,430.3 L477.4,431.4 L476.4,432.4 L475.5,433.5 L474.6,434.6 L473.8,435.7 L473.0,436.7 L472.3,437.8 L471.7,438.8 L471.1,439.9 L470.5,440.9 L470.0,442.0 L469.6,443.0 L469.2,444.0 L468.9,445.0 L468.6,446.0 L468.3,447.0 L468.1,448.0 L467.9,448.9 L467.8,449.9 L467.7,450.8 L469.0,451.0 L470.3,451.2 L470.5,450.4 L470.7,449.5 L470.9,448.7 L471.2,447.8 L471.5,447.0 L471.9,446.1 L472.3,445.3 L472.7,444.4 L473.2,443.5 L473.7,442.7 L474.2,441.8 L474.8,440.9 L475.5,440.0 L476.2,439.1 L477.0,438.2 L477.8,437.3 L478.6,436.4 L479.6,435.5 L480.6,434.6 L481.6,433.7 L482.7,432.8 L483.9,431.9 L485.2,430.9 L486.5,430.0 Z" fill="none" stroke="#d59a6c" stroke-width="2.6" stroke-linejoin="round"/>
<path d="M465.7,407.0 L465.0,408.8 L464.2,410.5 L463.5,412.3 L462.6,414.1 L461.8,416.0 L461.0,417.8 L460.1,419.7 L459.2,421.6 L458.3,423.5 L457.4,425.4 L456.5,427.3 L455.7,429.2 L454.8,431.1 L454.0,433.0 L453.2,434.9 L452.4,436.8 L451.6,438.7 L450.9,440.6 L450.2,442.5 L449.6,444.4 L449.0,446.2 L448.5,448.1 L448.1,449.9 L447.7,451.7 L449.0,452.0 L450.3,452.3 L450.7,450.6 L451.2,448.8 L451.8,447.1 L452.5,445.3 L453.1,443.6 L453.9,441.8 L454.7,440.0 L455.5,438.2 L456.3,436.3 L457.2,434.5 L458.1,432.7 L459.1,430.8 L460.0,429.0 L461.0,427.1 L462.0,425.3 L463.0,423.5 L463.9,421.6 L464.9,419.8 L465.8,418.0 L466.8,416.1 L467.7,414.3 L468.6,412.5 L469.5,410.8 L470.3,409.0 Z" fill="none" stroke="#d59a6c" stroke-width="2.6" stroke-linejoin="round"/>
<path d="M573.8,416.2 L576.2,417.4 L578.5,418.5 L580.8,419.6 L583.0,420.6 L585.1,421.5 L587.2,422.4 L589.2,423.2 L591.2,423.9 L593.1,424.6 L595.0,425.2 L596.8,425.7 L598.6,426.2 L600.4,426.6 L602.1,426.9 L603.9,427.2 L605.5,427.4 L607.2,427.5 L608.8,427.6 L610.5,427.5 L612.1,427.4 L613.6,427.2 L615.2,427.0 L616.8,426.7 L618.3,426.3 L618.0,425.0 L617.7,423.7 L616.2,424.0 L614.8,424.2 L613.3,424.4 L611.9,424.4 L610.4,424.4 L608.9,424.4 L607.5,424.2 L605.9,424.0 L604.4,423.7 L602.8,423.4 L601.3,423.0 L599.6,422.5 L598.0,422.0 L596.2,421.4 L594.5,420.7 L592.7,420.0 L590.8,419.2 L588.9,418.3 L587.0,417.4 L584.9,416.4 L582.8,415.4 L580.7,414.2 L578.5,413.0 L576.2,411.8 Z" fill="none" stroke="#d59a6c" stroke-width="2.6" stroke-linejoin="round"/>
<path d="M452.9,383.6 L452.1,384.9 L451.3,386.2 L450.5,387.5 L449.8,388.8 L449.1,390.2 L448.4,391.5 L447.7,392.9 L447.1,394.2 L446.6,395.6 L446.0,397.0 L445.5,398.3 L445.1,399.7 L444.7,401.2 L444.3,402.6 L443.9,404.0 L443.6,405.5 L443.4,407.0 L443.2,408.5 L443.0,410.0 L442.8,411.6 L442.7,413.1 L442.7,414.7 L442.7,416.4 L442.7,418.0 L444.0,418.0 L445.3,418.0 L445.4,416.4 L445.5,414.9 L445.6,413.4 L445.8,411.9 L446.0,410.4 L446.3,409.0 L446.6,407.6 L447.0,406.3 L447.3,404.9 L447.7,403.6 L448.2,402.3 L448.7,401.0 L449.2,399.7 L449.7,398.5 L450.3,397.2 L450.9,396.0 L451.6,394.8 L452.3,393.6 L453.0,392.4 L453.7,391.2 L454.5,390.0 L455.3,388.8 L456.2,387.6 L457.1,386.4 Z" fill="none" stroke="#d59a6c" stroke-width="2.6" stroke-linejoin="round"/>
<circle cx="526" cy="370" r="73" fill="none" stroke="#d59a6c" stroke-width="2.6"/>
<ellipse cx="454" cy="362" rx="17" ry="30" fill="none" stroke="#d59a6c" stroke-width="2.6"/>
<ellipse cx="500" cy="436" rx="30" ry="12" fill="none" stroke="#d59a6c" stroke-width="2.6"/>
<path d="M557.3,318.9 L557.9,317.2 L558.4,315.5 L558.9,313.9 L559.3,312.3 L559.7,310.8 L560.0,309.2 L560.2,307.8 L560.5,306.3 L560.7,304.9 L560.9,303.5 L561.1,302.1 L561.3,300.7 L561.5,299.4 L561.7,298.1 L561.9,296.8 L562.2,295.6 L562.4,294.3 L562.7,293.1 L563.1,291.9 L563.5,290.7 L563.9,289.5 L564.4,288.3 L565.0,287.2 L565.6,286.0 L566.0,285.4 L566.4,284.8 L566.8,284.4 L567.2,283.9 L567.6,283.6 L568.0,283.3 L568.3,283.2 L568.5,283.0 L568.7,283.0 L568.9,282.9 L569.0,282.9 L569.0,282.9 L569.1,283.0 L569.3,283.1 L569.4,283.2 L569.6,283.5 L569.7,283.9 L569.9,284.4 L570.0,285.0 L570.1,285.8 L570.1,286.6 L570.0,287.5 L569.9,288.6 L569.7,289.8 L571.0,290.0 L572.3,290.2 L572.5,289.0 L572.7,287.8 L572.8,286.7 L572.9,285.7 L572.8,284.8 L572.7,283.9 L572.6,283.1 L572.3,282.3 L572.0,281.7 L571.6,281.0 L571.1,280.5 L570.5,280.1 L569.8,279.8 L569.0,279.6 L568.3,279.6 L567.6,279.8 L566.9,280.0 L566.2,280.3 L565.5,280.8 L564.9,281.2 L564.2,281.8 L563.6,282.4 L563.0,283.2 L562.4,284.0 L561.6,285.3 L560.9,286.7 L560.3,288.0 L559.7,289.3 L559.2,290.6 L558.8,292.0 L558.4,293.3 L558.1,294.6 L557.8,296.0 L557.5,297.3 L557.2,298.7 L557.0,300.0 L556.7,301.4 L556.5,302.7 L556.2,304.1 L556.0,305.5 L555.7,306.9 L555.4,308.3 L555.0,309.7 L554.7,311.1 L554.2,312.6 L553.8,314.1 L553.3,315.6 L552.7,317.1 Z" fill="#fbe4c4"/>
<path d="M576.8,321.7 L578.4,319.9 L579.8,318.2 L581.2,316.5 L582.4,314.9 L583.5,313.3 L584.5,311.7 L585.5,310.2 L586.3,308.7 L586.9,307.3 L587.5,305.9 L588.0,304.5 L588.3,303.1 L588.6,301.7 L588.7,300.4 L588.7,299.1 L588.6,297.8 L588.4,296.5 L588.1,295.3 L587.6,294.0 L587.1,292.8 L586.5,291.7 L585.8,290.5 L584.9,289.3 L584.0,288.2 L583.0,289.0 L582.0,289.8 L582.7,290.9 L583.4,292.0 L583.9,293.0 L584.4,294.1 L584.7,295.1 L585.0,296.1 L585.2,297.1 L585.2,298.1 L585.2,299.1 L585.1,300.1 L584.9,301.1 L584.7,302.2 L584.3,303.2 L583.8,304.4 L583.2,305.5 L582.6,306.7 L581.8,308.0 L580.9,309.3 L579.9,310.7 L578.8,312.1 L577.5,313.5 L576.2,315.1 L574.7,316.6 L573.2,318.3 Z" fill="#fbe4c4"/>
<path d="M588.5,337.5 L590.1,337.1 L591.7,336.9 L593.3,336.7 L594.8,336.6 L596.2,336.5 L597.7,336.5 L599.1,336.6 L600.5,336.7 L601.9,336.8 L603.3,336.9 L604.6,337.1 L605.9,337.3 L607.2,337.5 L608.5,337.7 L609.7,337.9 L610.9,338.0 L612.2,338.2 L613.4,338.3 L614.6,338.4 L615.8,338.4 L617.0,338.4 L618.1,338.3 L619.3,338.1 L620.4,337.9 L620.8,337.7 L621.1,337.7 L621.5,337.6 L621.8,337.6 L622.1,337.6 L622.4,337.7 L622.7,337.7 L622.9,337.8 L623.2,337.9 L623.5,338.1 L623.8,338.2 L624.0,338.4 L624.3,338.7 L624.6,338.9 L624.9,339.2 L625.1,339.6 L625.4,339.9 L625.6,340.3 L625.8,340.7 L626.0,341.2 L626.2,341.7 L626.4,342.2 L626.6,342.7 L626.7,343.3 L628.0,343.0 L629.3,342.7 L629.2,342.1 L629.0,341.4 L628.8,340.8 L628.6,340.2 L628.4,339.6 L628.2,339.0 L627.9,338.5 L627.6,337.9 L627.3,337.4 L627.0,336.9 L626.6,336.5 L626.2,336.1 L625.8,335.7 L625.3,335.3 L624.8,335.0 L624.3,334.7 L623.8,334.5 L623.2,334.3 L622.6,334.1 L622.0,334.0 L621.4,334.0 L620.8,334.0 L620.2,334.0 L619.6,334.1 L618.7,334.3 L617.8,334.4 L616.8,334.4 L615.9,334.4 L614.9,334.3 L613.8,334.2 L612.7,334.1 L611.6,333.9 L610.4,333.7 L609.2,333.4 L607.9,333.2 L606.6,333.0 L605.3,332.7 L603.9,332.5 L602.4,332.3 L601.0,332.1 L599.4,331.9 L597.9,331.8 L596.2,331.8 L594.6,331.8 L592.9,331.8 L591.1,332.0 L589.3,332.2 L587.5,332.5 Z" fill="#fbe4c4"/>
<path d="M594.5,380.4 L595.4,380.2 L596.3,380.1 L597.1,380.0 L597.9,379.9 L598.7,379.9 L599.4,379.9 L600.2,380.0 L601.0,380.1 L601.8,380.2 L602.5,380.3 L603.3,380.4 L604.1,380.5 L604.8,380.7 L605.6,380.8 L606.3,380.9 L607.1,381.0 L607.8,381.0 L608.6,381.0 L609.4,381.0 L610.2,380.9 L610.9,380.7 L611.7,380.4 L612.4,380.0 L613.0,379.6 L613.2,379.4 L613.4,379.4 L613.5,379.3 L613.5,379.3 L613.5,379.2 L613.5,379.2 L613.6,379.2 L613.6,379.2 L613.7,379.3 L613.8,379.3 L614.0,379.5 L614.1,379.6 L614.2,379.9 L614.4,380.1 L614.5,380.5 L614.6,380.8 L614.7,381.2 L614.8,381.6 L614.8,382.1 L614.9,382.6 L614.9,383.1 L614.8,383.6 L614.8,384.2 L614.7,384.8 L616.0,385.0 L617.3,385.2 L617.4,384.6 L617.5,383.9 L617.6,383.3 L617.7,382.6 L617.7,382.0 L617.7,381.4 L617.6,380.8 L617.5,380.2 L617.4,379.7 L617.3,379.1 L617.1,378.6 L616.9,378.1 L616.6,377.6 L616.3,377.2 L616.0,376.8 L615.6,376.4 L615.1,376.1 L614.5,375.9 L613.9,375.7 L613.3,375.7 L612.7,375.7 L612.1,375.9 L611.5,376.1 L611.0,376.4 L610.5,376.7 L610.2,376.8 L609.9,376.9 L609.5,376.9 L609.1,376.9 L608.6,376.9 L608.1,376.9 L607.6,376.8 L607.0,376.7 L606.4,376.6 L605.7,376.4 L604.9,376.2 L604.2,376.0 L603.4,375.9 L602.5,375.7 L601.7,375.5 L600.8,375.4 L599.8,375.2 L598.8,375.2 L597.8,375.1 L596.7,375.1 L595.7,375.2 L594.5,375.4 L593.5,375.6 Z" fill="#fbe4c4"/>
<path d="M589.1,402.3 L590.4,402.8 L591.7,403.2 L592.9,403.5 L594.1,403.7 L595.3,403.9 L596.5,404.1 L597.6,404.2 L598.7,404.2 L599.7,404.1 L600.7,404.0 L601.7,403.8 L602.7,403.6 L603.6,403.3 L604.5,403.0 L605.3,402.5 L606.1,402.1 L606.8,401.6 L607.6,401.0 L608.2,400.4 L608.9,399.7 L609.5,399.0 L610.0,398.3 L610.6,397.5 L611.1,396.7 L610.0,396.0 L608.9,395.3 L608.4,395.9 L607.9,396.5 L607.3,397.1 L606.8,397.6 L606.2,398.0 L605.6,398.4 L605.0,398.8 L604.4,399.1 L603.8,399.4 L603.2,399.6 L602.5,399.8 L601.8,399.9 L601.1,400.0 L600.4,400.0 L599.6,400.0 L598.8,400.0 L598.0,399.9 L597.1,399.7 L596.2,399.5 L595.2,399.3 L594.2,399.0 L593.2,398.6 L592.1,398.2 L590.9,397.7 Z" fill="#fbe4c4"/>
<path d="M547.5,428.3 L547.8,429.8 L547.9,431.1 L548.0,432.5 L548.1,433.8 L548.1,435.1 L548.0,436.4 L547.9,437.7 L547.7,439.1 L547.5,440.4 L547.3,441.7 L547.0,443.0 L546.7,444.4 L546.3,445.7 L546.0,447.0 L545.6,448.4 L545.3,449.7 L544.9,451.1 L544.5,452.4 L544.2,453.8 L543.8,455.2 L543.5,456.6 L543.2,457.9 L542.9,459.4 L542.7,460.7 L544.0,461.0 L545.3,461.3 L545.6,459.9 L545.9,458.6 L546.3,457.3 L546.7,456.0 L547.1,454.7 L547.6,453.4 L548.0,452.0 L548.5,450.7 L549.0,449.4 L549.4,448.1 L549.9,446.7 L550.3,445.4 L550.8,444.0 L551.1,442.6 L551.5,441.2 L551.8,439.8 L552.1,438.4 L552.4,436.9 L552.6,435.4 L552.7,433.9 L552.7,432.4 L552.7,430.8 L552.6,429.2 L552.5,427.7 Z" fill="#fbe4c4"/>
<path d="M483.5,426.0 L482.2,427.1 L480.9,428.1 L479.7,429.2 L478.5,430.3 L477.4,431.4 L476.4,432.4 L475.5,433.5 L474.6,434.6 L473.8,435.7 L473.0,436.7 L472.3,437.8 L471.7,438.8 L471.1,439.9 L470.5,440.9 L470.0,442.0 L469.6,443.0 L469.2,444.0 L468.9,445.0 L468.6,446.0 L468.3,447.0 L468.1,448.0 L467.9,448.9 L467.8,449.9 L467.7,450.8 L469.0,451.0 L470.3,451.2 L470.5,450.4 L470.7,449.5 L470.9,448.7 L471.2,447.8 L471.5,447.0 L471.9,446.1 L472.3,445.3 L472.7,444.4 L473.2,443.5 L473.7,442.7 L474.2,441.8 L474.8,440.9 L475.5,440.0 L476.2,439.1 L477.0,438.2 L477.8,437.3 L478.6,436.4 L479.6,435.5 L480.6,434.6 L481.6,433.7 L482.7,432.8 L483.9,431.9 L485.2,430.9 L486.5,430.0 Z" fill="#fbe4c4"/>
<path d="M465.7,407.0 L465.0,408.8 L464.2,410.5 L463.5,412.3 L462.6,414.1 L461.8,416.0 L461.0,417.8 L460.1,419.7 L459.2,421.6 L458.3,423.5 L457.4,425.4 L456.5,427.3 L455.7,429.2 L454.8,431.1 L454.0,433.0 L453.2,434.9 L452.4,436.8 L451.6,438.7 L450.9,440.6 L450.2,442.5 L449.6,444.4 L449.0,446.2 L448.5,448.1 L448.1,449.9 L447.7,451.7 L449.0,452.0 L450.3,452.3 L450.7,450.6 L451.2,448.8 L451.8,447.1 L452.5,445.3 L453.1,443.6 L453.9,441.8 L454.7,440.0 L455.5,438.2 L456.3,436.3 L457.2,434.5 L458.1,432.7 L459.1,430.8 L460.0,429.0 L461.0,427.1 L462.0,425.3 L463.0,423.5 L463.9,421.6 L464.9,419.8 L465.8,418.0 L466.8,416.1 L467.7,414.3 L468.6,412.5 L469.5,410.8 L470.3,409.0 Z" fill="#fbe4c4"/>
<path d="M573.8,416.2 L576.2,417.4 L578.5,418.5 L580.8,419.6 L583.0,420.6 L585.1,421.5 L587.2,422.4 L589.2,423.2 L591.2,423.9 L593.1,424.6 L595.0,425.2 L596.8,425.7 L598.6,426.2 L600.4,426.6 L602.1,426.9 L603.9,427.2 L605.5,427.4 L607.2,427.5 L608.8,427.6 L610.5,427.5 L612.1,427.4 L613.6,427.2 L615.2,427.0 L616.8,426.7 L618.3,426.3 L618.0,425.0 L617.7,423.7 L616.2,424.0 L614.8,424.2 L613.3,424.4 L611.9,424.4 L610.4,424.4 L608.9,424.4 L607.5,424.2 L605.9,424.0 L604.4,423.7 L602.8,423.4 L601.3,423.0 L599.6,422.5 L598.0,422.0 L596.2,421.4 L594.5,420.7 L592.7,420.0 L590.8,419.2 L588.9,418.3 L587.0,417.4 L584.9,416.4 L582.8,415.4 L580.7,414.2 L578.5,413.0 L576.2,411.8 Z" fill="#fbe4c4"/>
<path d="M452.9,383.6 L452.1,384.9 L451.3,386.2 L450.5,387.5 L449.8,388.8 L449.1,390.2 L448.4,391.5 L447.7,392.9 L447.1,394.2 L446.6,395.6 L446.0,397.0 L445.5,398.3 L445.1,399.7 L444.7,401.2 L444.3,402.6 L443.9,404.0 L443.6,405.5 L443.4,407.0 L443.2,408.5 L443.0,410.0 L442.8,411.6 L442.7,413.1 L442.7,414.7 L442.7,416.4 L442.7,418.0 L444.0,418.0 L445.3,418.0 L445.4,416.4 L445.5,414.9 L445.6,413.4 L445.8,411.9 L446.0,410.4 L446.3,409.0 L446.6,407.6 L447.0,406.3 L447.3,404.9 L447.7,403.6 L448.2,402.3 L448.7,401.0 L449.2,399.7 L449.7,398.5 L450.3,397.2 L450.9,396.0 L451.6,394.8 L452.3,393.6 L453.0,392.4 L453.7,391.2 L454.5,390.0 L455.3,388.8 L456.2,387.6 L457.1,386.4 Z" fill="#fbe4c4"/>
<circle cx="526" cy="370" r="73" fill="#fbe4c4"/>
<ellipse cx="454" cy="362" rx="17" ry="30" fill="#fbe4c4"/>
<ellipse cx="500" cy="436" rx="30" ry="12" fill="#fbe4c4"/>
<ellipse cx="454" cy="362" rx="12" ry="22" fill="#fff6ea" filter="url(#blur6)"/>
<ellipse cx="444.8" cy="363" rx="5" ry="9.5" fill="url(#nucG)" stroke="#5e4e9e" stroke-width="1.2"/>
<circle cx="526" cy="370" r="65.5" fill="#f8dcdc" stroke="#c08484" stroke-width="1.5"/>
<path d="M472.7,334.9 C476.3,330.0 484.7,321.7 492.4,318.4 C500.1,315.1 510.4,315.1 518.8,315.1 C527.2,315.1 536.0,316.9 543.0,318.4 C550.0,319.9 555.4,320.9 560.5,324.0 C565.6,327.1 571.9,332.3 573.7,337.0 C575.5,341.7 570.0,346.5 571.5,352.4 C573.0,358.3 581.4,366.0 582.5,372.2 C583.6,378.4 579.5,383.9 578.0,389.8 C576.5,395.7 577.4,402.2 573.7,407.3 C570.0,412.4 562.2,417.9 556.0,420.5 C549.8,423.1 543.3,422.0 536.4,422.7 C529.5,423.4 522.1,425.6 514.4,424.9 C506.7,424.2 496.5,421.9 490.3,418.3 C484.1,414.7 478.5,408.1 477.0,403.0 C475.5,397.9 482.8,393.5 481.5,387.6 C480.2,381.7 471.2,374.4 469.4,367.8 C467.6,361.2 469.9,353.5 470.5,348.0 C471.1,342.5 469.1,339.8 472.7,334.9 Z" fill="url(#lumenG)" stroke="#a83848" stroke-width="1.2"/>
<line x1="552.8" y1="319.7" x2="556.8" y2="312.2" stroke="#b97a82" stroke-width="1.5"/>
<line x1="472.4" y1="350.5" x2="464.5" y2="347.6" stroke="#b97a82" stroke-width="1.5"/>
<line x1="504.6" y1="422.8" x2="501.5" y2="430.7" stroke="#b97a82" stroke-width="1.5"/>
<line x1="577.7" y1="394.1" x2="585.4" y2="397.7" stroke="#b97a82" stroke-width="1.5"/>
<ellipse cx="505.6" cy="316.5" rx="8" ry="5" transform="rotate(-10 505.6 316.5)" fill="url(#nucG)" stroke="#5e4e9e" stroke-width="1.1"/>
<ellipse cx="581.4" cy="352.4" rx="8" ry="5" transform="rotate(75 581.4 352.4)" fill="url(#nucG)" stroke="#5e4e9e" stroke-width="1.1"/>
<ellipse cx="470.5" cy="384.3" rx="8" ry="5" transform="rotate(70 470.5 384.3)" fill="url(#nucG)" stroke="#5e4e9e" stroke-width="1.1"/>
<ellipse cx="540.7" cy="426" rx="8" ry="5" transform="rotate(-5 540.7 426)" fill="url(#nucG)" stroke="#5e4e9e" stroke-width="1.1"/>
<ellipse cx="585.8" cy="420.5" rx="8" ry="5" transform="rotate(-50 585.8 420.5)" fill="url(#nucG)" stroke="#5e4e9e" stroke-width="1.1"/>
<ellipse cx="239" cy="434.5" rx="45" ry="47.5" fill="url(#adipoG)" stroke="#c89058" stroke-width="1.6"/>
<path d="M201.7,421.4 C203.5,413.6 205.1,405.7 211.0,401.0 C216.9,396.3 228.3,393.7 237.0,393.4 C245.7,393.1 257.4,394.9 263.0,399.0 C268.6,403.1 270.5,411.5 270.8,417.7 C271.1,423.9 269.4,431.4 265.0,436.4 C260.6,441.4 250.6,443.2 244.7,447.6 C238.8,452.0 235.3,459.7 229.7,462.5 C224.1,465.3 216.0,466.9 211.0,464.4 C206.0,461.9 201.5,454.8 199.9,447.6 C198.3,440.4 199.8,429.2 201.7,421.4 Z" fill="url(#lipidG)" stroke="#dea25e" stroke-width="1.6"/>
<ellipse cx="257.4" cy="464.4" rx="11" ry="10.5" fill="url(#nucG)" stroke="#5e4e9e" stroke-width="1.3"/>
<ellipse cx="333.6" cy="426" rx="51" ry="46" fill="url(#adipoG)" stroke="#c89058" stroke-width="1.6"/>
<path d="M293.2,414.0 C295.4,408.4 298.2,400.0 304.4,395.3 C310.6,390.6 320.6,386.9 330.5,386.0 C340.4,385.1 355.9,386.3 364.0,389.7 C372.1,393.1 376.5,399.4 379.0,406.5 C381.5,413.6 381.5,425.8 379.0,432.6 C376.5,439.5 370.2,445.3 364.0,447.6 C357.8,449.9 349.1,447.1 341.7,446.5 C334.2,445.9 326.4,444.2 319.3,443.8 C312.2,443.4 303.5,446.3 298.8,443.8 C294.1,441.3 292.2,434.0 291.3,429.0 C290.4,424.0 291.0,419.6 293.2,414.0 Z" fill="url(#lipidG)" stroke="#dea25e" stroke-width="1.6"/>
<ellipse cx="332.3" cy="457.9" rx="12" ry="9" fill="url(#nucG)" stroke="#5e4e9e" stroke-width="1.3"/>
<ellipse cx="286" cy="344" rx="55" ry="51" fill="url(#adipoG)" stroke="#c89058" stroke-width="1.6"/>
<path d="M255.9,313.2 C260.1,307.4 272.7,300.2 282.0,298.0 C291.3,295.8 303.7,297.5 311.8,300.0 C319.9,302.5 326.5,306.5 330.5,313.0 C334.5,319.5 336.3,330.3 336.0,339.0 C335.7,347.7 333.3,357.9 328.6,365.4 C323.9,372.9 315.8,380.9 308.0,384.0 C300.2,387.1 288.7,386.0 282.0,384.0 C275.3,382.0 271.0,377.3 268.0,372.0 C265.0,366.7 265.8,358.5 264.0,352.0 C262.2,345.5 258.4,339.5 257.0,333.0 C255.7,326.5 251.7,319.0 255.9,313.2 Z" fill="url(#lipidG)" stroke="#dea25e" stroke-width="1.6"/>
<ellipse cx="253" cy="364" rx="10.5" ry="13" fill="url(#nucG)" stroke="#5e4e9e" stroke-width="1.3"/>
<path d="M249.5,288.0 C249.6,291.1 247.0,294.7 245.2,297.3 C243.3,300.0 240.9,302.5 238.3,304.0 C235.6,305.6 232.2,306.6 229.0,306.8 C225.8,306.9 222.1,306.4 219.3,304.9 C216.4,303.4 213.1,300.7 211.8,297.9 C210.6,295.1 211.4,291.3 211.5,288.0 C211.6,284.7 211.0,281.1 212.2,278.3 C213.5,275.5 216.5,272.7 219.3,271.1 C222.0,269.5 225.8,268.6 229.0,268.8 C232.2,268.9 235.6,270.3 238.3,272.0 C240.9,273.7 242.9,276.2 244.8,278.9 C246.6,281.6 249.4,284.9 249.5,288.0 Z" fill="url(#hscC)" stroke="#a462a6" stroke-width="1.8"/>
<circle cx="229.0" cy="288.0" r="13.7" fill="url(#hscN)" stroke="#6a5aa4" stroke-width="1.4"/>
<path d="M539.0,215.0 C538.7,218.3 538.3,221.9 536.7,224.6 C535.1,227.4 532.2,229.5 529.4,231.4 C526.7,233.2 523.2,235.4 520.0,235.5 C516.8,235.7 512.7,234.1 510.1,232.1 C507.5,230.2 506.0,226.9 504.3,224.1 C502.6,221.2 500.2,218.2 500.0,215.0 C499.7,211.8 501.3,208.0 502.9,205.1 C504.6,202.2 507.1,199.0 509.9,197.6 C512.8,196.2 516.7,196.4 520.0,196.5 C523.3,196.7 526.6,197.0 529.6,198.4 C532.6,199.7 536.5,201.8 538.1,204.6 C539.6,207.3 539.2,211.7 539.0,215.0 Z" fill="url(#hscC)" stroke="#a462a6" stroke-width="1.8"/>
<circle cx="520.0" cy="215.0" r="14.0" fill="url(#hscN)" stroke="#6a5aa4" stroke-width="1.4"/>
<path d="M577.7,222.4 C577.7,225.5 576.3,228.6 574.9,231.6 C573.5,234.5 571.9,238.5 569.2,240.1 C566.6,241.7 562.2,241.4 559.0,241.1 C555.8,240.8 552.7,239.6 549.9,238.1 C547.1,236.6 544.0,234.7 542.3,232.1 C540.6,229.4 539.8,225.7 539.7,222.4 C539.7,219.1 540.2,215.1 542.0,212.6 C543.7,210.0 547.4,208.8 550.2,207.2 C553.1,205.6 555.9,203.4 559.0,203.1 C562.1,202.8 566.2,203.5 568.9,205.2 C571.6,206.9 573.7,210.2 575.2,213.1 C576.6,215.9 577.8,219.3 577.7,222.4 Z" fill="url(#hscC)" stroke="#a462a6" stroke-width="1.8"/>
<circle cx="559.0" cy="222.4" r="13.7" fill="url(#hscN)" stroke="#6a5aa4" stroke-width="1.4"/>
<path d="M772.6,240.4 C772.9,243.7 773.3,248.2 771.7,250.9 C770.1,253.6 765.9,255.2 762.9,256.6 C759.8,258.1 756.7,259.4 753.5,259.5 C750.3,259.6 746.7,258.7 743.8,257.2 C740.9,255.7 737.7,253.3 736.0,250.5 C734.3,247.7 733.3,243.6 733.6,240.4 C733.9,237.2 736.3,234.3 737.9,231.4 C739.6,228.5 740.8,224.7 743.4,222.9 C746.0,221.0 750.2,220.4 753.5,220.5 C756.8,220.6 760.6,221.7 763.3,223.5 C766.0,225.2 768.2,228.2 769.8,231.0 C771.3,233.8 772.3,237.1 772.6,240.4 Z" fill="url(#hscC)" stroke="#a462a6" stroke-width="1.8"/>
<circle cx="753.5" cy="240.4" r="14.0" fill="url(#hscN)" stroke="#6a5aa4" stroke-width="1.4"/>
<path d="M811.5,221.7 C811.4,224.9 808.8,228.3 807.0,231.0 C805.1,233.8 803.2,236.8 800.5,238.4 C797.8,240.1 794.1,240.6 790.8,240.8 C787.5,241.0 783.2,241.2 780.5,239.6 C777.7,238.0 775.4,234.3 774.1,231.3 C772.8,228.4 772.6,225.0 772.5,221.7 C772.4,218.4 771.8,214.4 773.2,211.5 C774.6,208.7 778.0,206.3 781.0,204.7 C783.9,203.0 787.6,201.6 790.8,201.8 C794.0,202.0 797.1,204.2 800.0,205.8 C802.8,207.5 805.9,209.2 807.9,211.8 C809.8,214.5 811.6,218.5 811.5,221.7 Z" fill="url(#hscC)" stroke="#a462a6" stroke-width="1.8"/>
<circle cx="790.8" cy="221.7" r="14.0" fill="url(#hscN)" stroke="#6a5aa4" stroke-width="1.4"/>
<path d="M500.0,449.5 C499.8,452.8 499.2,456.3 497.6,459.1 C496.0,461.9 493.3,464.2 490.6,466.1 C487.8,468.0 484.2,470.5 481.0,470.5 C477.8,470.4 474.4,467.6 471.6,465.7 C468.9,463.8 466.5,461.6 464.7,458.9 C462.9,456.2 461.1,452.7 461.0,449.5 C460.8,446.3 462.1,442.5 463.8,439.6 C465.5,436.7 468.2,433.7 471.1,432.3 C473.9,431.0 477.7,431.5 481.0,431.5 C484.3,431.4 488.2,430.6 491.1,431.9 C494.1,433.2 497.0,436.5 498.5,439.4 C499.9,442.4 500.1,446.2 500.0,449.5 Z" fill="url(#hscC)" stroke="#a462a6" stroke-width="1.8"/>
<circle cx="481.0" cy="449.5" r="14.0" fill="url(#hscN)" stroke="#6a5aa4" stroke-width="1.4"/>
<path d="M533.8,463.0 C533.8,466.2 533.4,469.6 532.0,472.5 C530.7,475.5 528.4,479.2 525.7,480.6 C522.9,482.0 518.8,481.1 515.5,480.9 C512.2,480.7 508.8,480.7 506.1,479.3 C503.3,477.9 500.7,475.3 499.0,472.5 C497.2,469.8 495.7,466.2 495.8,463.0 C495.8,459.8 497.3,456.1 499.1,453.5 C500.9,451.0 503.9,449.5 506.7,447.7 C509.4,445.9 512.4,443.1 515.5,442.9 C518.6,442.7 522.4,444.6 525.1,446.4 C527.8,448.2 530.4,450.8 531.9,453.5 C533.3,456.3 533.7,459.8 533.8,463.0 Z" fill="url(#hscC)" stroke="#a462a6" stroke-width="1.8"/>
<circle cx="515.5" cy="463.0" r="13.7" fill="url(#hscN)" stroke="#6a5aa4" stroke-width="1.4"/>
</g>
<path d="M371.5,229.0 L364.6,252.8 L358.0,250.9 L362.5,273.0 L378.2,256.7 L371.6,254.8 L378.5,231.0 Z" fill="#f40c0c"/>
<path d="M402.0,363.3 L428.5,363.3 L428.5,370.2 L448.5,359.7 L428.5,349.2 L428.5,356.1 L402.0,356.1 Z" fill="#f40c0c"/>
<path d="M635.0,433.5 L615.7,428.0 L617.6,421.4 L595.5,426.0 L611.8,441.6 L613.7,435.0 L633.0,440.5 Z" fill="#f40c0c"/><rect x="160" y="488" width="690" height="40" fill="url(#fadeB)"/><rect x="160" y="527.5" width="690" height="15" fill="#fff"/><g stroke="#231f20" stroke-width="2" fill="none">
<path d="M141,64 L211,64 L231,44"/>
<path d="M149,130 L255.5,130 L291,95"/>
<path d="M154,231 L216,231 L253,195"/>
<path d="M846,28 L854,28 L854,153 L846,153"/>
<path d="M854,91 L868,91"/>
<path d="M846,156 L854,156 L854,456"/>
<path d="M854,286 L868,286"/>
<path d="M854,460 L854,482" stroke-dasharray="2.5,3"/>
<path d="M564.6,273 L564.6,320"/>
<path d="M750,257 L750,278"/>
<path d="M533,467 L553,467"/>
<path d="M294.4,450 L294.4,478"/>
<path d="M593,397 L631,397"/>
<path d="M208.5,356 L86,356 L86,550"/>
<path d="M447,331 C420,316 382,315 346,331"/>
<path d="M603,344 C665,308 700,260 689,206"/>
<path d="M740,490 L652,458"/>
<path d="M744,652 L699,720"/>
<path d="M470,789 L752,789"/>
<path d="M153,891 L153,911"/>
<path d="M325,891 L345,911"/>
<path d="M853,905 L853,911"/>
</g>
<circle cx="208.5" cy="356" r="3.5" fill="#231f20"/>
<path d="M340.5,333.0 L351.4,322.7 L350.6,328.9 L355.5,332.9 Z" fill="#231f20"/>
<path d="M688.0,200.0 L694.7,213.5 L689.0,210.9 L683.7,214.4 Z" fill="#231f20"/>
<path d="M645.0,455.7 L660.0,455.3 L655.3,459.4 L656.3,465.7 Z" fill="#231f20"/>
<path d="M695.3,726.0 L698.3,711.3 L701.2,716.8 L707.5,717.3 Z" fill="#231f20"/>
<path d="M760.0,789.0 L746.0,794.5 L749.1,789.0 L746.0,783.5 Z" fill="#231f20"/><g font-size="23.5">
<text x="32" y="42">Bone-lining</text>
<text x="32" y="70">cell</text>
<text x="32" y="136">Osteocyte</text>
<text x="32" y="237.5">Osteoblast</text>
<text x="877" y="99.5">Bone trabeculum</text>
<text x="876" y="292.5">Bone marrow</text>
<text x="876" y="321">(stroma and</text>
<text x="876" y="350">HSCs constitute</text>
<text x="876" y="378.5">the hematopoietic</text>
<text x="876" y="406">niche)</text>
</g><g font-size="23.5">
<text x="553" y="268">EC</text>
<text x="728" y="302">HSC</text>
<text x="559.4" y="474.3">HSC</text>
<text x="279.6" y="504">Adipocyte</text>
<text x="641.6" y="362.5">Pericyte,</text>
<text x="641.6" y="387">adventitial</text>
<text x="641.6" y="412">reticular cell,</text>
<text x="641.6" y="436">MSC</text>
</g><rect x="740.5" y="487.5" width="315" height="161" rx="5" fill="url(#markerG)" stroke="#8c8272" stroke-width="1.8"/>
<g font-size="23.5" text-anchor="middle">
<text x="898" y="514">STRO-1, CD146, VCAM1,</text>
<text x="898" y="545.5">CD271, CD105 (human);</text>
<text x="898" y="576">CD105<tspan font-size="13" dy="-10">+</tspan><tspan dy="10">Thy-1</tspan><tspan font-size="13" dy="-10">−</tspan><tspan dy="10">, VCAM1,</tspan></text>
<text x="898" y="606">Nestin-GFP (mouse);</text>
<text x="898" y="636">Sca-1, PDGFR (mouse)</text>
</g><g clip-path="url(#boxClip)">
<rect x="48" y="550" width="422" height="341" fill="url(#boxPink)"/>
<ellipse cx="80" cy="620" rx="30" ry="60" fill="#f8d4ca" filter="url(#blur12)"/>
<ellipse cx="160" cy="760" rx="60" ry="30" fill="#f9d6cc" filter="url(#blur12)"/>
<ellipse cx="400" cy="620" rx="50" ry="30" fill="#f0a89c" filter="url(#blur12)"/>
<ellipse cx="440" cy="760" rx="30" ry="60" fill="#f0a69a" filter="url(#blur12)"/>
<ellipse cx="300" cy="860" rx="80" ry="25" fill="#f8d2c8" filter="url(#blur12)"/>
<ellipse cx="230" cy="690" rx="70" ry="30" fill="#f2b4a8" filter="url(#blur12)"/>
<ellipse cx="110" cy="860" rx="50" ry="25" fill="#f2b0a4" filter="url(#blur12)"/>
<ellipse cx="360" cy="700" rx="40" ry="30" fill="#f8d0c4" filter="url(#blur12)"/>
<rect x="315" y="628" width="96.5" height="23" rx="4" fill="url(#liningG)" stroke="#a4967e" stroke-width="1.6"/>
<ellipse cx="370.4" cy="640" rx="9" ry="4" fill="url(#nucG)" stroke="#6a5aa8" stroke-width="1.1"/>
<path d="M80,683 C82,676 92,668 107,660 C118,655 125,652 129,649 C126,640 121,630 123,621 C124,616 128,616 129,620 C131,630 136,640 145,647 C160,645 175,642 190,636 C200,631 210,627 217,629 C220,632 216,635 210,637 C195,643 186,648 181,652 C195,657 215,665 232,675 C236,678 232,681 226,679 C220,677 215,675 211,673 C214,677 217,680 215,682 C205,678 190,668 178,662 C160,658 140,663 125,674 C112,684 106,695 107,712 C107,732 109,752 116,770 C113,774 109,773 106,769 C99,758 94,748 90,739 C89,745 91,752 95,757 C93,760 89,759 86,754 C83,748 82,741 84,735 C78,746 72,760 67,774 C63,775 62,771 63,766 C70,746 77,726 79,706 C80,696 79,689 80,683 Z" fill="url(#retG)" stroke="#d4a070" stroke-width="1.6"/>
<ellipse cx="91.4" cy="688.4" rx="5.5" ry="9.5" transform="rotate(15 91.4 688.4)" fill="url(#nucG)" stroke="#5e4e9e" stroke-width="1.1"/>
<path d="M66,831 C90,815 112,801 124,791 C135,779 150,773 165,770 C180,767 195,759 207,751 C201,760 191,767 182,772 C200,771 215,765 228,760 C221,768 205,775 186,780 C177,784 172,787 176,790 C186,790 195,790 204,791 C190,796 170,800 150,803 C121,810 96,824 69,838 C79,829 89,822 99,815 C89,820 78,826 66,831 Z" fill="url(#fibG2)" stroke="#a83a44" stroke-width="1.5"/>
<ellipse cx="141.3" cy="788.3" rx="9.5" ry="6" transform="rotate(-15 141.3 788.3)" fill="url(#nucG)" stroke="#5e4e9e" stroke-width="1.1"/>
<path d="M268,772 C268,764 272,760 280,760 C292,760 305,762 315,766 C322,769 321,775 318,782 C314,792 311,800 306,806 C302,811 295,811 285,810 C276,809 270,806 268,798 C266,790 267,780 268,772 Z" fill="url(#obG)" stroke="#7566a2" stroke-width="1.8"/>
<circle cx="293.4" cy="786.3" r="9" fill="url(#nucG)" stroke="#5e4e9e" stroke-width="1.2"/>
<ellipse cx="391" cy="736" rx="38.5" ry="40.8" fill="url(#adipoG)" stroke="#c89058" stroke-width="1.6"/>
<path d="M365,710 C372,701 392,699 406,702 C416,705 419,716 416,729 C413,739 404,748 396,756 C389,763 380,766 372,764 C363,761 360,749 360,736 C360,725 361,716 365,710 Z" fill="url(#lipidG)" stroke="#dea25e" stroke-width="1.6"/>
<ellipse cx="407.6" cy="761" rx="9" ry="9" fill="url(#nucG)" stroke="#5e4e9e" stroke-width="1.3"/>
</g>
<rect x="48" y="550" width="422" height="341" fill="none" stroke="#2e2626" stroke-width="2.2"/>
<path d="M63.0,639.7 L76.1,662.8 L70.8,665.8 L87.0,675.0 L87.4,656.4 L82.1,659.4 L69.0,636.3 Z" fill="#f40c0c"/>
<text x="108" y="581.5" font-size="23.5" font-weight="bold" letter-spacing="0">Total bone marrow stroma</text>
<g font-size="23.5">
<text x="82.4" y="609.6">(constitutes hematopoietic niche)</text>
<text x="289.5" y="674.3">Bone-lining cell</text>
<text x="117.6" y="712.5">Pericyte, adventitial</text>
<text x="117.6" y="734">reticular cell, MSC</text>
<text x="341" y="796">Adipocyte</text>
<text x="106.6" y="837">Fibroblast</text>
<text x="237.5" y="837">Osteoblast</text>
<text x="222" y="876.5">BMSC</text>
</g><path d="M751.7,808.6 C770,807 795,804 808,799 C813,796 817,793 819,791 C810,784 798,780 782,779.5 C790,775 806,776 817,780 C827,785 836,789 850,791 C868,792 884,789 894,784 C904,778 915,772 926,773.5 C917,779 906,787 899,796 C915,800 937,803 957,806 C935,809 912,810 896,812 C880,815 862,818 846,818.5 C836,821 826,826 814.5,830.5 C819,823 826,817 831,813.5 C812,813 790,812 770,811 C762,810.5 756,810 751.7,808.6 Z" fill="url(#fibG)" stroke="#6e2444" stroke-width="1.6" stroke-linejoin="round"/>
<ellipse cx="860.3" cy="803.7" rx="12.2" ry="5.6" fill="url(#nucFib)" stroke="#7a6ab8" stroke-width="0.8"/>
<g font-size="23.5">
<text x="498.7" y="749">Prospective isolation</text>
<text x="488.7" y="775">(selects by phenotype)</text>
<text x="715" y="867">Single, phenotype-defined</text>
<text x="793" y="895">stromal cell</text>
</g><g fill="none" stroke-linecap="round" stroke-linejoin="round">
<g stroke="#9a9a9a" stroke-width="3.4">
<g transform="translate(838,849)"><path d="M15,2 C7,2 1,7 1,13 C1,16 3,19 6,21 L5,25 L9,23 C11,24 13,24 15,24 C21,24 27,19 27,13 C27,7 21,2 15,2 Z" fill="#fff"/><path d="M25,11 C18,11 12,16 12,21 C12,26 18,30 25,30 C27,30 28,30 30,29 L34,31 L33,27 C35,26 37,23 37,21 C37,16 32,11 25,11 Z" fill="#fff"/></g>
<g transform="translate(881,852) scale(1.05,0.95)"><path d="M3,1 L5,3"/><path d="M3,5 L3,24"/><path d="M7,2 L21,2 L21,23 L18,22"/><path d="M8,9 L16,9 L16,19 L8,19 Z"/><path d="M8,14 L16,14"/></g>
<g transform="translate(909,852) scale(1.05,0.95)"><path d="M11,0 L13,2"/><path d="M2,4 L22,4"/><path d="M10,5 L6,11 L17,10"/><path d="M15,8 L18,11"/><path d="M9,12 C9,18 6,22 2,24"/><path d="M15,12 L15,22 C15,24 17,24 22,23"/></g>
<g transform="translate(938,852) scale(1.05,0.95)"><path d="M19,1 C14,3 9,3 4,3 L4,14 C4,19 3,22 1,24"/><path d="M4,7 L22,7"/><path d="M12,3 L12,7"/><path d="M8,10 L19,10 L19,19"/><path d="M8,10 L8,19"/><path d="M13,12 L13,18"/><path d="M12,19 L7,24"/><path d="M15,20 L21,24"/></g>
<g transform="translate(967,852) scale(1.05,0.95)"><path d="M4,3 L20,3"/><path d="M1,12 L23,12"/><path d="M12,3 L12,24"/></g>
<g transform="translate(995,852) scale(1.05,0.95)"><path d="M6,1 L2,8 L8,8 L3,15 L10,13"/><path d="M2,19 L2,22"/><path d="M6,18 L6,24"/><path d="M10,18 L10,21"/><path d="M12,5 L22,5 L22,22 L12,22 Z"/><path d="M17,5 L17,22"/><path d="M12,13 L22,13"/></g>
<g transform="translate(1020,852) scale(1.05,0.95)"><path d="M3,2 L3,20 C3,22 2,24 1,24"/><path d="M3,2 L9,2 L9,23 L7,22"/><path d="M3,9 L9,9"/><path d="M3,15 L9,15"/><path d="M14,1 L11,7"/><path d="M13,4 L22,4 L22,16 L20,15"/><path d="M14,8 L19,8 L19,13 L14,13 L14,20 C14,23 16,23 22,23"/></g>
</g>
<g stroke="#ffffff" stroke-width="1.9">
<g transform="translate(838,849)"><path d="M15,2 C7,2 1,7 1,13 C1,16 3,19 6,21 L5,25 L9,23 C11,24 13,24 15,24 C21,24 27,19 27,13 C27,7 21,2 15,2 Z" fill="#fff"/><path d="M25,11 C18,11 12,16 12,21 C12,26 18,30 25,30 C27,30 28,30 30,29 L34,31 L33,27 C35,26 37,23 37,21 C37,16 32,11 25,11 Z" fill="#fff"/></g>
<g transform="translate(881,852) scale(1.05,0.95)"><path d="M3,1 L5,3"/><path d="M3,5 L3,24"/><path d="M7,2 L21,2 L21,23 L18,22"/><path d="M8,9 L16,9 L16,19 L8,19 Z"/><path d="M8,14 L16,14"/></g>
<g transform="translate(909,852) scale(1.05,0.95)"><path d="M11,0 L13,2"/><path d="M2,4 L22,4"/><path d="M10,5 L6,11 L17,10"/><path d="M15,8 L18,11"/><path d="M9,12 C9,18 6,22 2,24"/><path d="M15,12 L15,22 C15,24 17,24 22,23"/></g>
<g transform="translate(938,852) scale(1.05,0.95)"><path d="M19,1 C14,3 9,3 4,3 L4,14 C4,19 3,22 1,24"/><path d="M4,7 L22,7"/><path d="M12,3 L12,7"/><path d="M8,10 L19,10 L19,19"/><path d="M8,10 L8,19"/><path d="M13,12 L13,18"/><path d="M12,19 L7,24"/><path d="M15,20 L21,24"/></g>
<g transform="translate(967,852) scale(1.05,0.95)"><path d="M4,3 L20,3"/><path d="M1,12 L23,12"/><path d="M12,3 L12,24"/></g>
<g transform="translate(995,852) scale(1.05,0.95)"><path d="M6,1 L2,8 L8,8 L3,15 L10,13"/><path d="M2,19 L2,22"/><path d="M6,18 L6,24"/><path d="M10,18 L10,21"/><path d="M12,5 L22,5 L22,22 L12,22 Z"/><path d="M17,5 L17,22"/><path d="M12,13 L22,13"/></g>
<g transform="translate(1020,852) scale(1.05,0.95)"><path d="M3,2 L3,20 C3,22 2,24 1,24"/><path d="M3,2 L9,2 L9,23 L7,22"/><path d="M3,9 L9,9"/><path d="M3,15 L9,15"/><path d="M14,1 L11,7"/><path d="M13,4 L22,4 L22,16 L20,15"/><path d="M14,8 L19,8 L19,13 L14,13 L14,20 C14,23 16,23 22,23"/></g>
</g>
</g></svg>
</body></html>
